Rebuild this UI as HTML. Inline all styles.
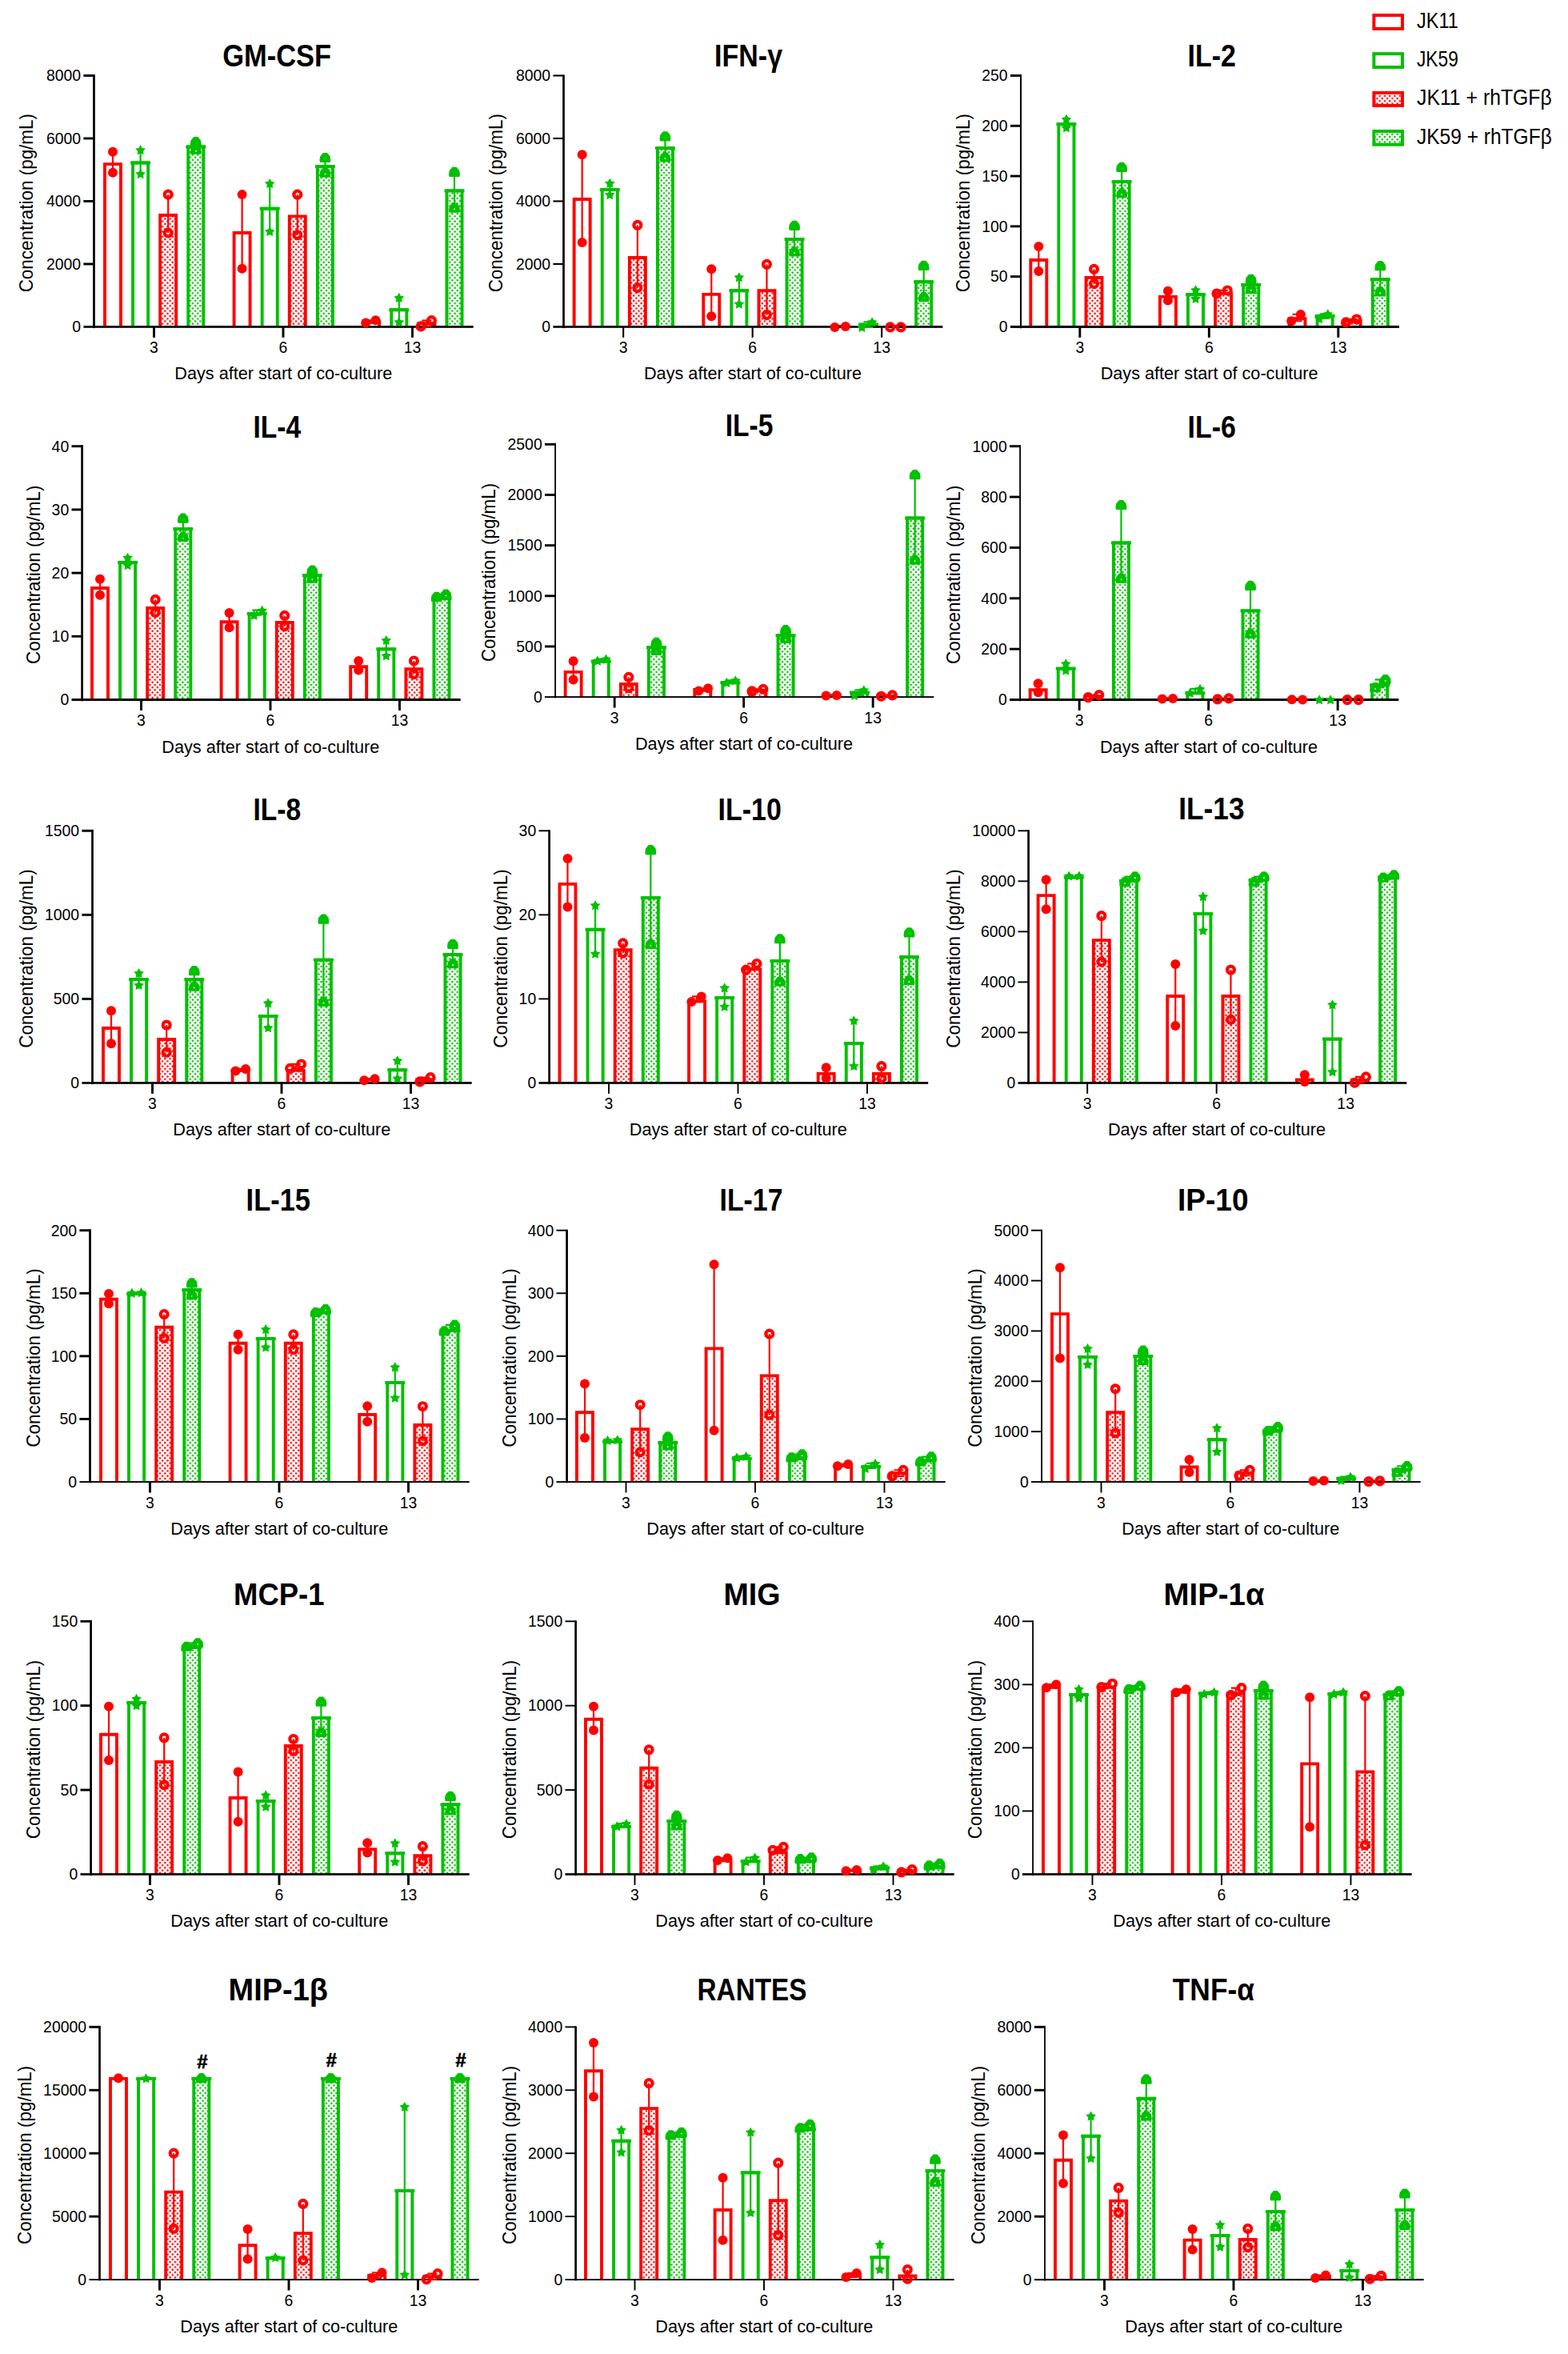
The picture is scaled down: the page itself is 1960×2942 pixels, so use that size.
<!DOCTYPE html>
<html><head><meta charset="utf-8"><title>Cytokine concentrations</title>
<style>html,body{margin:0;padding:0;background:#fff}svg{display:block}</style></head>
<body>
<svg width="1960" height="2942" viewBox="0 0 1960 2942" font-family='"Liberation Sans", Arial, sans-serif' fill="#000">
<defs><pattern id="pr" width="6.3" height="6.4" patternUnits="userSpaceOnUse"><rect width="6.3" height="6.4" fill="#fff"/><rect x="0.4" y="0.4" width="2.3" height="2.2" fill="#ff0000"/><rect x="3.55" y="3.6" width="2.3" height="2.2" fill="#ff0000"/></pattern><pattern id="pg" width="6.3" height="6.4" patternUnits="userSpaceOnUse"><rect width="6.3" height="6.4" fill="#fff"/><rect x="0.4" y="0.4" width="2.3" height="2.2" fill="#00c000"/><rect x="3.55" y="3.6" width="2.3" height="2.2" fill="#00c000"/></pattern></defs>
<rect width="1960" height="2942" fill="#fff"/>
<g><text x="346.2" y="83.1" text-anchor="middle" font-size="38.6" font-weight="bold" textLength="136" lengthAdjust="spacingAndGlyphs">GM-CSF</text>
<path d="M131 408.45V205.13H151V408.45" fill="none" stroke="#ff0000" stroke-width="3.9"/>
<path d="M166.05 408.45V203.46H185.15V408.45" fill="none" stroke="#00c000" stroke-width="3.9"/>
<rect x="163.1" y="201.51" width="25" height="3.9" fill="#00c000"/>
<rect x="200.2" y="269.04" width="20" height="139.41" fill="url(#pr)"/>
<path d="M200.2 408.45V269.04H220.2V408.45" fill="none" stroke="#ff0000" stroke-width="3.9"/>
<rect x="235.25" y="183.49" width="19.1" height="224.96" fill="url(#pg)"/>
<path d="M235.25 408.45V183.49H254.35V408.45" fill="none" stroke="#00c000" stroke-width="3.9"/>
<rect x="232.3" y="181.54" width="25" height="3.9" fill="#00c000"/>
<path d="M292.6 408.45V291.02H312.6V408.45" fill="none" stroke="#ff0000" stroke-width="3.9"/>
<path d="M327.65 408.45V260.72H346.75V408.45" fill="none" stroke="#00c000" stroke-width="3.9"/>
<rect x="324.7" y="258.77" width="25" height="3.9" fill="#00c000"/>
<rect x="361.8" y="270.38" width="20" height="138.07" fill="url(#pr)"/>
<path d="M361.8 408.45V270.38H381.8V408.45" fill="none" stroke="#ff0000" stroke-width="3.9"/>
<rect x="396.85" y="208.12" width="19.1" height="200.33" fill="url(#pg)"/>
<path d="M396.85 408.45V208.12H415.95V408.45" fill="none" stroke="#00c000" stroke-width="3.9"/>
<rect x="393.9" y="206.17" width="25" height="3.9" fill="#00c000"/>
<path d="M454.2 408.45V401.92H474.2V408.45" fill="none" stroke="#ff0000" stroke-width="3.9"/>
<path d="M489.25 408.45V387.23H508.35V408.45" fill="none" stroke="#00c000" stroke-width="3.9"/>
<rect x="486.3" y="385.28" width="25" height="3.9" fill="#00c000"/>
<rect x="523.4" y="404.25" width="20" height="4.2" fill="url(#pr)"/>
<path d="M523.4 408.45V404.25H543.4V408.45" fill="none" stroke="#ff0000" stroke-width="3.9"/>
<rect x="558.45" y="238.42" width="19.1" height="170.03" fill="url(#pg)"/>
<path d="M558.45 408.45V238.42H577.55V408.45" fill="none" stroke="#00c000" stroke-width="3.9"/>
<rect x="555.5" y="236.47" width="25" height="3.9" fill="#00c000"/>
<rect x="116.15" y="93.05" width="2.7" height="317.05" fill="#000"/>
<rect x="104.4" y="407.1" width="487.3" height="2.7" fill="#000"/>
<text x="101.1" y="415.25" text-anchor="end" font-size="19.8" textLength="10.8" lengthAdjust="spacingAndGlyphs">0</text>
<rect x="104.4" y="328.51" width="13.1" height="2.9" fill="#000"/>
<text x="101.1" y="336.76" text-anchor="end" font-size="19.8" textLength="43.2" lengthAdjust="spacingAndGlyphs">2000</text>
<rect x="104.4" y="250.03" width="13.1" height="2.9" fill="#000"/>
<text x="101.1" y="258.27" text-anchor="end" font-size="19.8" textLength="43.2" lengthAdjust="spacingAndGlyphs">4000</text>
<rect x="104.4" y="171.54" width="13.1" height="2.9" fill="#000"/>
<text x="101.1" y="179.79" text-anchor="end" font-size="19.8" textLength="43.2" lengthAdjust="spacingAndGlyphs">6000</text>
<rect x="104.4" y="93.05" width="13.1" height="2.9" fill="#000"/>
<text x="101.1" y="101.3" text-anchor="end" font-size="19.8" textLength="43.2" lengthAdjust="spacingAndGlyphs">8000</text>
<path d="M141 189.86V215.83" stroke="#ff0000" stroke-width="2.2" fill="none"/>
<circle cx="141" cy="189.86" r="6" fill="#ff0000"/>
<circle cx="141" cy="215.83" r="6" fill="#ff0000"/>
<path d="M175.6 187.2V217.16" stroke="#00c000" stroke-width="2.2" fill="none"/>
<polygon points="175.6,181.1 177.72,184.88 181.97,185.73 179.02,188.91 179.54,193.22 175.6,191.4 171.66,193.22 172.18,188.91 169.23,185.73 173.48,184.88" fill="#00c000"/>
<polygon points="175.6,211.06 177.72,214.85 181.97,215.69 179.02,218.87 179.54,223.18 175.6,221.36 171.66,223.18 172.18,218.87 169.23,215.69 173.48,214.85" fill="#00c000"/>
<path d="M210.2 243.12V291.06" stroke="#ff0000" stroke-width="2.2" fill="none"/>
<circle cx="210.2" cy="243.12" r="4.45" fill="none" stroke="#ff0000" stroke-width="4.2"/>
<circle cx="210.2" cy="291.06" r="4.45" fill="none" stroke="#ff0000" stroke-width="4.2"/>
<path d="M244.8 177.21V187.2" stroke="#00c000" stroke-width="2.2" fill="none"/>
<path d="M242.3 170.91L247.3 170.91L251.1 175.41L251.8 180.41L251.1 183.11L238.5 183.11L237.8 180.41L238.5 175.41ZM243.95 178.01h1.7v1.7h-1.7Z" fill="#00c000" fill-rule="evenodd"/>
<path d="M242.3 180.9L247.3 180.9L251.1 185.4L251.8 190.4L251.1 193.1L238.5 193.1L237.8 190.4L238.5 185.4ZM243.95 188h1.7v1.7h-1.7Z" fill="#00c000" fill-rule="evenodd"/>
<path d="M302.6 243.12V335.67" stroke="#ff0000" stroke-width="2.2" fill="none"/>
<circle cx="302.6" cy="243.12" r="6" fill="#ff0000"/>
<circle cx="302.6" cy="335.67" r="6" fill="#ff0000"/>
<path d="M337.2 229.14V289.07" stroke="#00c000" stroke-width="2.2" fill="none"/>
<polygon points="337.2,223.04 339.32,226.83 343.57,227.67 340.62,230.86 341.14,235.16 337.2,233.34 333.26,235.16 333.78,230.86 330.83,227.67 335.08,226.83" fill="#00c000"/>
<polygon points="337.2,282.97 339.32,286.75 343.57,287.6 340.62,290.78 341.14,295.09 337.2,293.27 333.26,295.09 333.78,290.78 330.83,287.6 335.08,286.75" fill="#00c000"/>
<path d="M371.8 243.12V293.73" stroke="#ff0000" stroke-width="2.2" fill="none"/>
<circle cx="371.8" cy="243.12" r="4.45" fill="none" stroke="#ff0000" stroke-width="4.2"/>
<circle cx="371.8" cy="293.73" r="4.45" fill="none" stroke="#ff0000" stroke-width="4.2"/>
<path d="M406.4 197.18V215.83" stroke="#00c000" stroke-width="2.2" fill="none"/>
<path d="M403.9 190.88L408.9 190.88L412.7 195.38L413.4 200.38L412.7 203.08L400.1 203.08L399.4 200.38L400.1 195.38ZM405.55 197.98h1.7v1.7h-1.7Z" fill="#00c000" fill-rule="evenodd"/>
<path d="M403.9 209.53L408.9 209.53L412.7 214.03L413.4 219.03L412.7 221.73L400.1 221.73L399.4 219.03L400.1 214.03ZM405.55 216.63h1.7v1.7h-1.7Z" fill="#00c000" fill-rule="evenodd"/>
<path d="M464.2 400.26V403.59M458.2 400.26h12M458.2 403.59h12" stroke="#ff0000" stroke-width="2.2" fill="none"/>
<circle cx="457.2" cy="403.59" r="6" fill="#ff0000"/>
<circle cx="469.52" cy="400.26" r="6" fill="#ff0000"/>
<path d="M498.8 371.96V402.26" stroke="#00c000" stroke-width="2.2" fill="none"/>
<polygon points="498.8,365.86 500.92,369.65 505.17,370.49 502.22,373.67 502.74,377.98 498.8,376.16 494.86,377.98 495.38,373.67 492.43,370.49 496.68,369.65" fill="#00c000"/>
<polygon points="498.8,396.16 500.92,399.94 505.17,400.78 502.22,403.97 502.74,408.28 498.8,406.46 494.86,408.28 495.38,403.97 492.43,400.78 496.68,399.94" fill="#00c000"/>
<path d="M533.4 400.59V407.91M527.4 400.59h12M527.4 407.91h12" stroke="#ff0000" stroke-width="2.2" fill="none"/>
<circle cx="526.11" cy="407.91" r="4.45" fill="none" stroke="#ff0000" stroke-width="4.2"/>
<circle cx="539.43" cy="400.59" r="4.45" fill="none" stroke="#ff0000" stroke-width="4.2"/>
<path d="M568 215.16V259.77" stroke="#00c000" stroke-width="2.2" fill="none"/>
<path d="M565.5 208.86L570.5 208.86L574.3 213.36L575 218.36L574.3 221.06L561.7 221.06L561 218.36L561.7 213.36ZM567.15 215.96h1.7v1.7h-1.7Z" fill="#00c000" fill-rule="evenodd"/>
<path d="M565.5 253.47L570.5 253.47L574.3 257.97L575 262.97L574.3 265.67L561.7 265.67L561 262.97L561.7 257.97ZM567.15 260.57h1.7v1.7h-1.7Z" fill="#00c000" fill-rule="evenodd"/>
<rect x="191.05" y="408.45" width="2.9" height="13.4" fill="#000"/>
<text x="192.5" y="441.05" text-anchor="middle" font-size="19.8" textLength="10.8" lengthAdjust="spacingAndGlyphs">3</text>
<rect x="352.55" y="408.45" width="2.9" height="13.4" fill="#000"/>
<text x="354" y="441.05" text-anchor="middle" font-size="19.8" textLength="10.8" lengthAdjust="spacingAndGlyphs">6</text>
<rect x="514.05" y="408.45" width="2.9" height="13.4" fill="#000"/>
<text x="515.5" y="441.05" text-anchor="middle" font-size="19.8" textLength="21.6" lengthAdjust="spacingAndGlyphs">13</text>
<text x="354.3" y="474.45" text-anchor="middle" font-size="21.7" textLength="272" lengthAdjust="spacing">Days after start of co-culture</text>
<text transform="translate(41.2 253.67) rotate(-90) scale(1 1.08)" text-anchor="middle" font-size="22.45" textLength="223.4" lengthAdjust="spacing">Concentration (pg/mL)</text></g>
<g><text x="935.6" y="82.8" text-anchor="middle" font-size="38.6" font-weight="bold" textLength="85" lengthAdjust="spacingAndGlyphs">IFN-γ</text>
<path d="M717.67 408.45V249.07H737.67V408.45" fill="none" stroke="#ff0000" stroke-width="3.9"/>
<path d="M752.72 408.45V237.09H771.82V408.45" fill="none" stroke="#00c000" stroke-width="3.9"/>
<rect x="749.77" y="235.14" width="25" height="3.9" fill="#00c000"/>
<rect x="786.87" y="321.98" width="20" height="86.47" fill="url(#pr)"/>
<path d="M786.87 408.45V321.98H806.87V408.45" fill="none" stroke="#ff0000" stroke-width="3.9"/>
<rect x="821.92" y="185.15" width="19.1" height="223.3" fill="url(#pg)"/>
<path d="M821.92 408.45V185.15H841.02V408.45" fill="none" stroke="#00c000" stroke-width="3.9"/>
<rect x="818.97" y="183.2" width="25" height="3.9" fill="#00c000"/>
<path d="M879.27 408.45V367.92H899.27V408.45" fill="none" stroke="#ff0000" stroke-width="3.9"/>
<path d="M914.32 408.45V363.26H933.42V408.45" fill="none" stroke="#00c000" stroke-width="3.9"/>
<rect x="911.37" y="361.31" width="25" height="3.9" fill="#00c000"/>
<rect x="948.47" y="363.26" width="20" height="45.19" fill="url(#pr)"/>
<path d="M948.47 408.45V363.26H968.47V408.45" fill="none" stroke="#ff0000" stroke-width="3.9"/>
<rect x="983.52" y="299.01" width="19.1" height="109.44" fill="url(#pg)"/>
<path d="M983.52 408.45V299.01H1002.62V408.45" fill="none" stroke="#00c000" stroke-width="3.9"/>
<rect x="980.57" y="297.06" width="25" height="3.9" fill="#00c000"/>
<path d="M1040.87 408.45V407.95H1060.87V408.45" fill="none" stroke="#ff0000" stroke-width="3.9"/>
<path d="M1075.92 408.45V405.58H1095.02V408.45" fill="none" stroke="#00c000" stroke-width="3.9"/>
<rect x="1072.97" y="403.63" width="25" height="3.9" fill="#00c000"/>
<rect x="1110.07" y="407.95" width="20" height="0.5" fill="url(#pr)"/>
<path d="M1110.07 408.45V407.95H1130.07V408.45" fill="none" stroke="#ff0000" stroke-width="3.9"/>
<rect x="1145.12" y="352.27" width="19.1" height="56.18" fill="url(#pg)"/>
<path d="M1145.12 408.45V352.27H1164.22V408.45" fill="none" stroke="#00c000" stroke-width="3.9"/>
<rect x="1142.17" y="350.32" width="25" height="3.9" fill="#00c000"/>
<rect x="703.15" y="93.45" width="2.7" height="316.65" fill="#000"/>
<rect x="691.4" y="407.1" width="486.97" height="2.7" fill="#000"/>
<text x="688.1" y="415.25" text-anchor="end" font-size="19.8" textLength="10.8" lengthAdjust="spacingAndGlyphs">0</text>
<rect x="691.4" y="328.91" width="13.1" height="2.1" fill="#000"/>
<text x="688.1" y="336.76" text-anchor="end" font-size="19.8" textLength="43.2" lengthAdjust="spacingAndGlyphs">2000</text>
<rect x="691.4" y="250.42" width="13.1" height="2.1" fill="#000"/>
<text x="688.1" y="258.27" text-anchor="end" font-size="19.8" textLength="43.2" lengthAdjust="spacingAndGlyphs">4000</text>
<rect x="691.4" y="171.94" width="13.1" height="2.1" fill="#000"/>
<text x="688.1" y="179.79" text-anchor="end" font-size="19.8" textLength="43.2" lengthAdjust="spacingAndGlyphs">6000</text>
<rect x="691.4" y="93.45" width="13.1" height="2.1" fill="#000"/>
<text x="688.1" y="101.3" text-anchor="end" font-size="19.8" textLength="43.2" lengthAdjust="spacingAndGlyphs">8000</text>
<path d="M727.67 193.19V303.05" stroke="#ff0000" stroke-width="2.2" fill="none"/>
<circle cx="727.67" cy="193.19" r="6" fill="#ff0000"/>
<circle cx="727.67" cy="303.05" r="6" fill="#ff0000"/>
<path d="M762.27 228.81V243.12" stroke="#00c000" stroke-width="2.2" fill="none"/>
<polygon points="762.27,222.71 764.39,226.5 768.64,227.34 765.69,230.52 766.21,234.83 762.27,233.01 758.33,234.83 758.85,230.52 755.9,227.34 760.15,226.5" fill="#00c000"/>
<polygon points="762.27,237.03 764.39,240.81 768.64,241.65 765.69,244.84 766.21,249.15 762.27,247.32 758.33,249.15 758.85,244.84 755.9,241.65 760.15,240.81" fill="#00c000"/>
<path d="M796.87 281.41V359.64" stroke="#ff0000" stroke-width="2.2" fill="none"/>
<circle cx="796.87" cy="281.41" r="4.45" fill="none" stroke="#ff0000" stroke-width="4.2"/>
<circle cx="796.87" cy="359.64" r="4.45" fill="none" stroke="#ff0000" stroke-width="4.2"/>
<path d="M831.47 170.55V196.52" stroke="#00c000" stroke-width="2.2" fill="none"/>
<path d="M828.97 164.25L833.97 164.25L837.77 168.75L838.47 173.75L837.77 176.45L825.17 176.45L824.47 173.75L825.17 168.75ZM830.62 171.35h1.7v1.7h-1.7Z" fill="#00c000" fill-rule="evenodd"/>
<path d="M828.97 190.22L833.97 190.22L837.77 194.72L838.47 199.72L837.77 202.42L825.17 202.42L824.47 199.72L825.17 194.72ZM830.62 197.32h1.7v1.7h-1.7Z" fill="#00c000" fill-rule="evenodd"/>
<path d="M889.27 336.34V395.26" stroke="#ff0000" stroke-width="2.2" fill="none"/>
<circle cx="889.27" cy="336.34" r="6" fill="#ff0000"/>
<circle cx="889.27" cy="395.26" r="6" fill="#ff0000"/>
<path d="M923.87 346.33V379.62" stroke="#00c000" stroke-width="2.2" fill="none"/>
<polygon points="923.87,340.23 925.99,344.01 930.24,344.86 927.29,348.04 927.81,352.35 923.87,350.53 919.93,352.35 920.45,348.04 917.5,344.86 921.75,344.01" fill="#00c000"/>
<polygon points="923.87,373.52 925.99,377.3 930.24,378.15 927.29,381.33 927.81,385.64 923.87,383.82 919.93,385.64 920.45,381.33 917.5,378.15 921.75,377.3" fill="#00c000"/>
<path d="M958.47 330.35V393.6" stroke="#ff0000" stroke-width="2.2" fill="none"/>
<circle cx="958.47" cy="330.35" r="4.45" fill="none" stroke="#ff0000" stroke-width="4.2"/>
<circle cx="958.47" cy="393.6" r="4.45" fill="none" stroke="#ff0000" stroke-width="4.2"/>
<path d="M993.07 282.08V314.7" stroke="#00c000" stroke-width="2.2" fill="none"/>
<path d="M990.57 275.78L995.57 275.78L999.37 280.28L1000.07 285.28L999.37 287.98L986.77 287.98L986.07 285.28L986.77 280.28ZM992.22 282.88h1.7v1.7h-1.7Z" fill="#00c000" fill-rule="evenodd"/>
<path d="M990.57 308.4L995.57 308.4L999.37 312.9L1000.07 317.9L999.37 320.6L986.77 320.6L986.07 317.9L986.77 312.9ZM992.22 315.5h1.7v1.7h-1.7Z" fill="#00c000" fill-rule="evenodd"/>
<circle cx="1043.53" cy="408.91" r="6" fill="#ff0000"/>
<circle cx="1056.84" cy="407.91" r="6" fill="#ff0000"/>
<path d="M1085.47 402.26V408.91M1079.47 402.26h12M1079.47 408.91h12" stroke="#00c000" stroke-width="2.2" fill="none"/>
<polygon points="1077.48,402.81 1079.6,406.6 1083.86,407.44 1080.91,410.63 1081.42,414.93 1077.48,413.11 1073.55,414.93 1074.06,410.63 1071.11,407.44 1075.37,406.6" fill="#00c000"/>
<polygon points="1090.14,396.16 1092.25,399.94 1096.51,400.78 1093.56,403.97 1094.07,408.28 1090.14,406.46 1086.2,408.28 1086.71,403.97 1083.76,400.78 1088.02,399.94" fill="#00c000"/>
<circle cx="1112.77" cy="408.91" r="4.45" fill="none" stroke="#ff0000" stroke-width="4.2"/>
<circle cx="1126.09" cy="408.91" r="4.45" fill="none" stroke="#ff0000" stroke-width="4.2"/>
<path d="M1154.67 332.01V371.29" stroke="#00c000" stroke-width="2.2" fill="none"/>
<path d="M1152.17 325.71L1157.17 325.71L1160.97 330.21L1161.67 335.21L1160.97 337.91L1148.37 337.91L1147.67 335.21L1148.37 330.21ZM1153.82 332.81h1.7v1.7h-1.7Z" fill="#00c000" fill-rule="evenodd"/>
<path d="M1152.17 364.99L1157.17 364.99L1160.97 369.49L1161.67 374.49L1160.97 377.19L1148.37 377.19L1147.67 374.49L1148.37 369.49ZM1153.82 372.09h1.7v1.7h-1.7Z" fill="#00c000" fill-rule="evenodd"/>
<rect x="778.12" y="408.45" width="2.1" height="13.4" fill="#000"/>
<text x="779.17" y="441.05" text-anchor="middle" font-size="19.8" textLength="10.8" lengthAdjust="spacingAndGlyphs">3</text>
<rect x="939.62" y="408.45" width="2.1" height="13.4" fill="#000"/>
<text x="940.67" y="441.05" text-anchor="middle" font-size="19.8" textLength="10.8" lengthAdjust="spacingAndGlyphs">6</text>
<rect x="1101.12" y="408.45" width="2.1" height="13.4" fill="#000"/>
<text x="1102.17" y="441.05" text-anchor="middle" font-size="19.8" textLength="21.6" lengthAdjust="spacingAndGlyphs">13</text>
<text x="940.97" y="474.45" text-anchor="middle" font-size="21.7" textLength="272" lengthAdjust="spacing">Days after start of co-culture</text>
<text transform="translate(628 253.67) rotate(-90) scale(1 1.08)" text-anchor="middle" font-size="22.45" textLength="223.4" lengthAdjust="spacing">Concentration (pg/mL)</text></g>
<g><text x="1514.7" y="83.1" text-anchor="middle" font-size="38.6" font-weight="bold" textLength="60.4" lengthAdjust="spacingAndGlyphs">IL-2</text>
<path d="M1288.33 408.45V324.97H1308.33V408.45" fill="none" stroke="#ff0000" stroke-width="3.9"/>
<path d="M1323.38 408.45V155.19H1342.48V408.45" fill="none" stroke="#00c000" stroke-width="3.9"/>
<rect x="1320.43" y="153.24" width="25" height="3.9" fill="#00c000"/>
<rect x="1357.53" y="346.94" width="20" height="61.51" fill="url(#pr)"/>
<path d="M1357.53 408.45V346.94H1377.53V408.45" fill="none" stroke="#ff0000" stroke-width="3.9"/>
<rect x="1392.58" y="227.1" width="19.1" height="181.35" fill="url(#pg)"/>
<path d="M1392.58 408.45V227.1H1411.68V408.45" fill="none" stroke="#00c000" stroke-width="3.9"/>
<rect x="1389.63" y="225.15" width="25" height="3.9" fill="#00c000"/>
<path d="M1449.93 408.45V370.91H1469.93V408.45" fill="none" stroke="#ff0000" stroke-width="3.9"/>
<path d="M1484.98 408.45V368.25H1504.08V408.45" fill="none" stroke="#00c000" stroke-width="3.9"/>
<rect x="1482.03" y="366.3" width="25" height="3.9" fill="#00c000"/>
<rect x="1519.13" y="366.59" width="20" height="41.86" fill="url(#pr)"/>
<path d="M1519.13 408.45V366.59H1539.13V408.45" fill="none" stroke="#ff0000" stroke-width="3.9"/>
<rect x="1554.18" y="355.93" width="19.1" height="52.52" fill="url(#pg)"/>
<path d="M1554.18 408.45V355.93H1573.28V408.45" fill="none" stroke="#00c000" stroke-width="3.9"/>
<rect x="1551.23" y="353.98" width="25" height="3.9" fill="#00c000"/>
<path d="M1611.53 408.45V398.21H1631.53V408.45" fill="none" stroke="#ff0000" stroke-width="3.9"/>
<path d="M1646.58 408.45V394.88H1665.68V408.45" fill="none" stroke="#00c000" stroke-width="3.9"/>
<rect x="1643.63" y="392.93" width="25" height="3.9" fill="#00c000"/>
<rect x="1680.73" y="400.92" width="20" height="7.53" fill="url(#pr)"/>
<path d="M1680.73 408.45V400.92H1700.73V408.45" fill="none" stroke="#ff0000" stroke-width="3.9"/>
<rect x="1715.78" y="349.28" width="19.1" height="59.17" fill="url(#pg)"/>
<path d="M1715.78 408.45V349.28H1734.88V408.45" fill="none" stroke="#00c000" stroke-width="3.9"/>
<rect x="1712.83" y="347.33" width="25" height="3.9" fill="#00c000"/>
<rect x="1274.95" y="93.05" width="2.1" height="317.2" fill="#000"/>
<rect x="1262.9" y="406.95" width="486.13" height="3" fill="#000"/>
<text x="1259.6" y="415.25" text-anchor="end" font-size="19.8" textLength="10.8" lengthAdjust="spacingAndGlyphs">0</text>
<rect x="1262.9" y="344.21" width="13.1" height="2.9" fill="#000"/>
<text x="1259.6" y="352.46" text-anchor="end" font-size="19.8" textLength="21.6" lengthAdjust="spacingAndGlyphs">50</text>
<rect x="1262.9" y="281.42" width="13.1" height="2.9" fill="#000"/>
<text x="1259.6" y="289.67" text-anchor="end" font-size="19.8" textLength="32.4" lengthAdjust="spacingAndGlyphs">100</text>
<rect x="1262.9" y="218.63" width="13.1" height="2.9" fill="#000"/>
<text x="1259.6" y="226.88" text-anchor="end" font-size="19.8" textLength="32.4" lengthAdjust="spacingAndGlyphs">150</text>
<rect x="1262.9" y="155.84" width="13.1" height="2.9" fill="#000"/>
<text x="1259.6" y="164.09" text-anchor="end" font-size="19.8" textLength="32.4" lengthAdjust="spacingAndGlyphs">200</text>
<rect x="1262.9" y="93.05" width="13.1" height="2.9" fill="#000"/>
<text x="1259.6" y="101.3" text-anchor="end" font-size="19.8" textLength="32.4" lengthAdjust="spacingAndGlyphs">250</text>
<path d="M1298.33 308.04V339" stroke="#ff0000" stroke-width="2.2" fill="none"/>
<circle cx="1298.33" cy="308.04" r="6" fill="#ff0000"/>
<circle cx="1298.33" cy="339" r="6" fill="#ff0000"/>
<path d="M1332.93 148.91V159.23" stroke="#00c000" stroke-width="2.2" fill="none"/>
<polygon points="1332.93,142.81 1335.05,146.6 1339.3,147.44 1336.35,150.62 1336.87,154.93 1332.93,153.11 1328.99,154.93 1329.51,150.62 1326.56,147.44 1330.81,146.6" fill="#00c000"/>
<polygon points="1332.93,153.13 1335.05,156.92 1339.3,157.76 1336.35,160.94 1336.87,165.25 1332.93,163.43 1328.99,165.25 1329.51,160.94 1326.56,157.76 1330.81,156.92" fill="#00c000"/>
<path d="M1367.53 336.34V354.65" stroke="#ff0000" stroke-width="2.2" fill="none"/>
<circle cx="1367.53" cy="336.34" r="4.45" fill="none" stroke="#ff0000" stroke-width="4.2"/>
<circle cx="1367.53" cy="354.65" r="4.45" fill="none" stroke="#ff0000" stroke-width="4.2"/>
<path d="M1402.13 209.17V241.46" stroke="#00c000" stroke-width="2.2" fill="none"/>
<path d="M1399.63 202.87L1404.63 202.87L1408.43 207.37L1409.13 212.37L1408.43 215.07L1395.83 215.07L1395.13 212.37L1395.83 207.37ZM1401.28 209.97h1.7v1.7h-1.7Z" fill="#00c000" fill-rule="evenodd"/>
<path d="M1399.63 235.16L1404.63 235.16L1408.43 239.66L1409.13 244.66L1408.43 247.36L1395.83 247.36L1395.13 244.66L1395.83 239.66ZM1401.28 242.26h1.7v1.7h-1.7Z" fill="#00c000" fill-rule="evenodd"/>
<path d="M1459.93 363.64V375.62" stroke="#ff0000" stroke-width="2.2" fill="none"/>
<circle cx="1459.93" cy="363.64" r="6" fill="#ff0000"/>
<circle cx="1459.93" cy="375.62" r="6" fill="#ff0000"/>
<path d="M1494.53 362.31V372.96" stroke="#00c000" stroke-width="2.2" fill="none"/>
<polygon points="1494.53,356.21 1496.65,359.99 1500.9,360.84 1497.95,364.02 1498.47,368.33 1494.53,366.51 1490.59,368.33 1491.11,364.02 1488.16,360.84 1492.41,359.99" fill="#00c000"/>
<polygon points="1494.53,366.86 1496.65,370.65 1500.9,371.49 1497.95,374.67 1498.47,378.98 1494.53,377.16 1490.59,378.98 1491.11,374.67 1488.16,371.49 1492.41,370.65" fill="#00c000"/>
<path d="M1529.13 362.97V366.97M1523.13 362.97h12M1523.13 366.97h12" stroke="#ff0000" stroke-width="2.2" fill="none"/>
<circle cx="1520.99" cy="366.97" r="4.45" fill="none" stroke="#ff0000" stroke-width="4.2"/>
<circle cx="1534.31" cy="362.97" r="4.45" fill="none" stroke="#ff0000" stroke-width="4.2"/>
<path d="M1563.73 348.99V361.31" stroke="#00c000" stroke-width="2.2" fill="none"/>
<path d="M1561.23 342.69L1566.23 342.69L1570.03 347.19L1570.73 352.19L1570.03 354.89L1557.43 354.89L1556.73 352.19L1557.43 347.19ZM1562.88 349.79h1.7v1.7h-1.7Z" fill="#00c000" fill-rule="evenodd"/>
<path d="M1561.23 355.01L1566.23 355.01L1570.03 359.51L1570.73 364.51L1570.03 367.21L1557.43 367.21L1556.73 364.51L1557.43 359.51ZM1562.88 362.11h1.7v1.7h-1.7Z" fill="#00c000" fill-rule="evenodd"/>
<path d="M1621.53 392.93V401.26M1615.53 392.93h12M1615.53 401.26h12" stroke="#ff0000" stroke-width="2.2" fill="none"/>
<circle cx="1614.21" cy="401.26" r="6" fill="#ff0000"/>
<circle cx="1625.86" cy="392.93" r="6" fill="#ff0000"/>
<path d="M1656.13 392.27V397.93M1650.13 392.27h12M1650.13 397.93h12" stroke="#00c000" stroke-width="2.2" fill="none"/>
<polygon points="1649.16,391.83 1651.28,395.61 1655.53,396.46 1652.58,399.64 1653.1,403.95 1649.16,402.13 1645.22,403.95 1645.74,399.64 1642.79,396.46 1647.04,395.61" fill="#00c000"/>
<polygon points="1659.81,386.17 1661.93,389.96 1666.19,390.8 1663.24,393.98 1663.75,398.29 1659.81,396.47 1655.88,398.29 1656.39,393.98 1653.44,390.8 1657.7,389.96" fill="#00c000"/>
<path d="M1690.73 398.93V402.92M1684.73 398.93h12M1684.73 402.92h12" stroke="#ff0000" stroke-width="2.2" fill="none"/>
<circle cx="1682.45" cy="402.92" r="4.45" fill="none" stroke="#ff0000" stroke-width="4.2"/>
<circle cx="1695.77" cy="398.93" r="4.45" fill="none" stroke="#ff0000" stroke-width="4.2"/>
<path d="M1725.33 332.34V364.64" stroke="#00c000" stroke-width="2.2" fill="none"/>
<path d="M1722.83 326.04L1727.83 326.04L1731.63 330.54L1732.33 335.54L1731.63 338.24L1719.03 338.24L1718.33 335.54L1719.03 330.54ZM1724.48 333.14h1.7v1.7h-1.7Z" fill="#00c000" fill-rule="evenodd"/>
<path d="M1722.83 358.34L1727.83 358.34L1731.63 362.84L1732.33 367.84L1731.63 370.54L1719.03 370.54L1718.33 367.84L1719.03 362.84ZM1724.48 365.44h1.7v1.7h-1.7Z" fill="#00c000" fill-rule="evenodd"/>
<rect x="1348.38" y="408.45" width="2.9" height="13.4" fill="#000"/>
<text x="1349.83" y="441.05" text-anchor="middle" font-size="19.8" textLength="10.8" lengthAdjust="spacingAndGlyphs">3</text>
<rect x="1509.88" y="408.45" width="2.9" height="13.4" fill="#000"/>
<text x="1511.33" y="441.05" text-anchor="middle" font-size="19.8" textLength="10.8" lengthAdjust="spacingAndGlyphs">6</text>
<rect x="1671.38" y="408.45" width="2.9" height="13.4" fill="#000"/>
<text x="1672.83" y="441.05" text-anchor="middle" font-size="19.8" textLength="21.6" lengthAdjust="spacingAndGlyphs">13</text>
<text x="1511.63" y="474.45" text-anchor="middle" font-size="21.7" textLength="272" lengthAdjust="spacing">Days after start of co-culture</text>
<text transform="translate(1212 253.67) rotate(-90) scale(1 1.08)" text-anchor="middle" font-size="22.45" textLength="223.4" lengthAdjust="spacing">Concentration (pg/mL)</text></g>
<g><text x="346.3" y="547.05" text-anchor="middle" font-size="38.6" font-weight="bold" textLength="59.7" lengthAdjust="spacingAndGlyphs">IL-4</text>
<path d="M115 874.5V735.04H135V874.5" fill="none" stroke="#ff0000" stroke-width="3.9"/>
<path d="M150.05 874.5V703.08H169.15V874.5" fill="none" stroke="#00c000" stroke-width="3.9"/>
<rect x="147.1" y="701.13" width="25" height="3.9" fill="#00c000"/>
<rect x="184.2" y="760.01" width="20" height="114.49" fill="url(#pr)"/>
<path d="M184.2 874.5V760.01H204.2V874.5" fill="none" stroke="#ff0000" stroke-width="3.9"/>
<rect x="219.25" y="661.13" width="19.1" height="213.37" fill="url(#pg)"/>
<path d="M219.25 874.5V661.13H238.35V874.5" fill="none" stroke="#00c000" stroke-width="3.9"/>
<rect x="216.3" y="659.18" width="25" height="3.9" fill="#00c000"/>
<path d="M276.6 874.5V777.32H296.6V874.5" fill="none" stroke="#ff0000" stroke-width="3.9"/>
<path d="M311.65 874.5V767H330.75V874.5" fill="none" stroke="#00c000" stroke-width="3.9"/>
<rect x="308.7" y="765.05" width="25" height="3.9" fill="#00c000"/>
<rect x="345.8" y="777.99" width="20" height="96.51" fill="url(#pr)"/>
<path d="M345.8 874.5V777.99H365.8V874.5" fill="none" stroke="#ff0000" stroke-width="3.9"/>
<rect x="380.85" y="719.06" width="19.1" height="155.44" fill="url(#pg)"/>
<path d="M380.85 874.5V719.06H399.95V874.5" fill="none" stroke="#00c000" stroke-width="3.9"/>
<rect x="377.9" y="717.11" width="25" height="3.9" fill="#00c000"/>
<path d="M438.2 874.5V833.25H458.2V874.5" fill="none" stroke="#ff0000" stroke-width="3.9"/>
<path d="M473.25 874.5V811.28H492.35V874.5" fill="none" stroke="#00c000" stroke-width="3.9"/>
<rect x="470.3" y="809.33" width="25" height="3.9" fill="#00c000"/>
<rect x="507.4" y="836.24" width="20" height="38.26" fill="url(#pr)"/>
<path d="M507.4 874.5V836.24H527.4V874.5" fill="none" stroke="#ff0000" stroke-width="3.9"/>
<rect x="542.45" y="748.02" width="19.1" height="126.48" fill="url(#pg)"/>
<path d="M542.45 874.5V748.02H561.55V874.5" fill="none" stroke="#00c000" stroke-width="3.9"/>
<rect x="539.5" y="746.07" width="25" height="3.9" fill="#00c000"/>
<rect x="101.25" y="556.25" width="2.7" height="320.05" fill="#000"/>
<rect x="89.5" y="873" width="486.2" height="3" fill="#000"/>
<text x="86.2" y="881.3" text-anchor="end" font-size="19.8" textLength="10.8" lengthAdjust="spacingAndGlyphs">0</text>
<rect x="89.5" y="793.85" width="13.1" height="2.9" fill="#000"/>
<text x="86.2" y="802.1" text-anchor="end" font-size="19.8" textLength="21.6" lengthAdjust="spacingAndGlyphs">10</text>
<rect x="89.5" y="714.65" width="13.1" height="2.9" fill="#000"/>
<text x="86.2" y="722.9" text-anchor="end" font-size="19.8" textLength="21.6" lengthAdjust="spacingAndGlyphs">20</text>
<rect x="89.5" y="635.45" width="13.1" height="2.9" fill="#000"/>
<text x="86.2" y="643.7" text-anchor="end" font-size="19.8" textLength="21.6" lengthAdjust="spacingAndGlyphs">30</text>
<rect x="89.5" y="556.25" width="13.1" height="2.9" fill="#000"/>
<text x="86.2" y="564.5" text-anchor="end" font-size="19.8" textLength="21.6" lengthAdjust="spacingAndGlyphs">40</text>
<path d="M125 723.77V743.74" stroke="#ff0000" stroke-width="2.2" fill="none"/>
<circle cx="125" cy="723.77" r="6" fill="#ff0000"/>
<circle cx="125" cy="743.74" r="6" fill="#ff0000"/>
<path d="M159.6 696.8V706.12" stroke="#00c000" stroke-width="2.2" fill="none"/>
<polygon points="159.6,690.7 161.72,694.49 165.97,695.33 163.02,698.52 163.54,702.82 159.6,701 155.66,702.82 156.18,698.52 153.23,695.33 157.48,694.49" fill="#00c000"/>
<polygon points="159.6,700.02 161.72,703.81 165.97,704.65 163.02,707.84 163.54,712.15 159.6,710.33 155.66,712.15 156.18,707.84 153.23,704.65 157.48,703.81" fill="#00c000"/>
<path d="M194.2 749.4V765.38" stroke="#ff0000" stroke-width="2.2" fill="none"/>
<circle cx="194.2" cy="749.4" r="4.45" fill="none" stroke="#ff0000" stroke-width="4.2"/>
<circle cx="194.2" cy="765.38" r="4.45" fill="none" stroke="#ff0000" stroke-width="4.2"/>
<path d="M228.8 647.87V671.17" stroke="#00c000" stroke-width="2.2" fill="none"/>
<path d="M226.3 641.57L231.3 641.57L235.1 646.07L235.8 651.07L235.1 653.77L222.5 653.77L221.8 651.07L222.5 646.07ZM227.95 648.67h1.7v1.7h-1.7Z" fill="#00c000" fill-rule="evenodd"/>
<path d="M226.3 664.87L231.3 664.87L235.1 669.37L235.8 674.37L235.1 677.07L222.5 677.07L221.8 674.37L222.5 669.37ZM227.95 671.97h1.7v1.7h-1.7Z" fill="#00c000" fill-rule="evenodd"/>
<path d="M286.6 766.05V784.36" stroke="#ff0000" stroke-width="2.2" fill="none"/>
<circle cx="286.6" cy="766.05" r="6" fill="#ff0000"/>
<circle cx="286.6" cy="784.36" r="6" fill="#ff0000"/>
<path d="M321.2 762.72V768.71M315.2 762.72h12M315.2 768.71h12" stroke="#00c000" stroke-width="2.2" fill="none"/>
<polygon points="317.68,762.61 319.8,766.4 324.05,767.24 321.1,770.42 321.62,774.73 317.68,772.91 313.74,774.73 314.26,770.42 311.31,767.24 315.57,766.4" fill="#00c000"/>
<polygon points="327.67,756.62 329.78,760.41 334.04,761.25 331.09,764.43 331.61,768.74 327.67,766.92 323.73,768.74 324.24,764.43 321.3,761.25 325.55,760.41" fill="#00c000"/>
<path d="M355.8 769.38V782.69" stroke="#ff0000" stroke-width="2.2" fill="none"/>
<circle cx="355.8" cy="769.38" r="4.45" fill="none" stroke="#ff0000" stroke-width="4.2"/>
<circle cx="355.8" cy="782.69" r="4.45" fill="none" stroke="#ff0000" stroke-width="4.2"/>
<path d="M390.4 712.78V722.77" stroke="#00c000" stroke-width="2.2" fill="none"/>
<path d="M387.9 706.48L392.9 706.48L396.7 710.98L397.4 715.98L396.7 718.68L384.1 718.68L383.4 715.98L384.1 710.98ZM389.55 713.58h1.7v1.7h-1.7Z" fill="#00c000" fill-rule="evenodd"/>
<path d="M387.9 716.47L392.9 716.47L396.7 720.97L397.4 725.97L396.7 728.67L384.1 728.67L383.4 725.97L384.1 720.97ZM389.55 723.57h1.7v1.7h-1.7Z" fill="#00c000" fill-rule="evenodd"/>
<path d="M448.2 825.97V837.62" stroke="#ff0000" stroke-width="2.2" fill="none"/>
<circle cx="448.2" cy="825.97" r="6" fill="#ff0000"/>
<circle cx="448.2" cy="837.62" r="6" fill="#ff0000"/>
<path d="M482.8 800.01V819.31" stroke="#00c000" stroke-width="2.2" fill="none"/>
<polygon points="482.8,793.91 484.92,797.69 489.17,798.53 486.22,801.72 486.74,806.03 482.8,804.21 478.86,806.03 479.38,801.72 476.43,798.53 480.68,797.69" fill="#00c000"/>
<polygon points="482.8,813.21 484.92,817 489.17,817.84 486.22,821.03 486.74,825.33 482.8,823.51 478.86,825.33 479.38,821.03 476.43,817.84 480.68,817" fill="#00c000"/>
<path d="M517.4 825.97V842.62" stroke="#ff0000" stroke-width="2.2" fill="none"/>
<circle cx="517.4" cy="825.97" r="4.45" fill="none" stroke="#ff0000" stroke-width="4.2"/>
<circle cx="517.4" cy="842.62" r="4.45" fill="none" stroke="#ff0000" stroke-width="4.2"/>
<path d="M552 742.74V746.07M546 742.74h12M546 746.07h12" stroke="#00c000" stroke-width="2.2" fill="none"/>
<path d="M543.22 739.77L548.22 739.77L552.02 744.27L552.72 749.27L552.02 751.97L539.42 751.97L538.72 749.27L539.42 744.27ZM544.87 746.87h1.7v1.7h-1.7Z" fill="#00c000" fill-rule="evenodd"/>
<path d="M554.88 736.44L559.88 736.44L563.67 740.94L564.38 745.94L563.67 748.64L551.08 748.64L550.38 745.94L551.08 740.94ZM556.52 743.54h1.7v1.7h-1.7Z" fill="#00c000" fill-rule="evenodd"/>
<rect x="175.05" y="874.5" width="2.9" height="13.4" fill="#000"/>
<text x="176.5" y="907.1" text-anchor="middle" font-size="19.8" textLength="10.8" lengthAdjust="spacingAndGlyphs">3</text>
<rect x="336.55" y="874.5" width="2.9" height="13.4" fill="#000"/>
<text x="338" y="907.1" text-anchor="middle" font-size="19.8" textLength="10.8" lengthAdjust="spacingAndGlyphs">6</text>
<rect x="498.05" y="874.5" width="2.9" height="13.4" fill="#000"/>
<text x="499.5" y="907.1" text-anchor="middle" font-size="19.8" textLength="21.6" lengthAdjust="spacingAndGlyphs">13</text>
<text x="338.3" y="940.5" text-anchor="middle" font-size="21.7" textLength="272" lengthAdjust="spacing">Days after start of co-culture</text>
<text transform="translate(50 718.3) rotate(-90) scale(1 1.08)" text-anchor="middle" font-size="22.45" textLength="223.4" lengthAdjust="spacing">Concentration (pg/mL)</text></g>
<g><text x="936.6" y="544.55" text-anchor="middle" font-size="38.6" font-weight="bold" textLength="59.7" lengthAdjust="spacingAndGlyphs">IL-5</text>
<path d="M706.67 871.1V839.9H726.67V871.1" fill="none" stroke="#ff0000" stroke-width="3.9"/>
<path d="M741.72 871.1V826.59H760.82V871.1" fill="none" stroke="#00c000" stroke-width="3.9"/>
<rect x="738.77" y="824.64" width="25" height="3.9" fill="#00c000"/>
<rect x="775.87" y="854.88" width="20" height="16.22" fill="url(#pr)"/>
<path d="M775.87 871.1V854.88H795.87V871.1" fill="none" stroke="#ff0000" stroke-width="3.9"/>
<rect x="810.92" y="809.28" width="19.1" height="61.82" fill="url(#pg)"/>
<path d="M810.92 871.1V809.28H830.02V871.1" fill="none" stroke="#00c000" stroke-width="3.9"/>
<rect x="807.97" y="807.33" width="25" height="3.9" fill="#00c000"/>
<path d="M868.27 871.1V861.92H888.27V871.1" fill="none" stroke="#ff0000" stroke-width="3.9"/>
<path d="M903.32 871.1V853.22H922.42V871.1" fill="none" stroke="#00c000" stroke-width="3.9"/>
<rect x="900.37" y="851.27" width="25" height="3.9" fill="#00c000"/>
<rect x="937.47" y="862.59" width="20" height="8.51" fill="url(#pr)"/>
<path d="M937.47 871.1V862.59H957.47V871.1" fill="none" stroke="#ff0000" stroke-width="3.9"/>
<rect x="972.52" y="794.29" width="19.1" height="76.81" fill="url(#pg)"/>
<path d="M972.52 871.1V794.29H991.62V871.1" fill="none" stroke="#00c000" stroke-width="3.9"/>
<rect x="969.57" y="792.34" width="25" height="3.9" fill="#00c000"/>
<path d="M1029.87 871.1V869.25H1049.87V871.1" fill="none" stroke="#ff0000" stroke-width="3.9"/>
<path d="M1064.92 871.1V865.58H1084.02V871.1" fill="none" stroke="#00c000" stroke-width="3.9"/>
<rect x="1061.97" y="863.63" width="25" height="3.9" fill="#00c000"/>
<rect x="1099.07" y="869.58" width="20" height="1.52" fill="url(#pr)"/>
<path d="M1099.07 871.1V869.58H1119.07V871.1" fill="none" stroke="#ff0000" stroke-width="3.9"/>
<rect x="1134.12" y="647.48" width="19.1" height="223.62" fill="url(#pg)"/>
<path d="M1134.12 871.1V647.48H1153.22V871.1" fill="none" stroke="#00c000" stroke-width="3.9"/>
<rect x="1131.17" y="645.53" width="25" height="3.9" fill="#00c000"/>
<rect x="693.2" y="553.85" width="1.8" height="318.5" fill="#000"/>
<rect x="681" y="870.15" width="486.37" height="1.9" fill="#000"/>
<text x="677.7" y="877.9" text-anchor="end" font-size="19.8" textLength="10.8" lengthAdjust="spacingAndGlyphs">0</text>
<rect x="681" y="806.49" width="13.1" height="2.9" fill="#000"/>
<text x="677.7" y="814.74" text-anchor="end" font-size="19.8" textLength="32.4" lengthAdjust="spacingAndGlyphs">500</text>
<rect x="681" y="743.33" width="13.1" height="2.9" fill="#000"/>
<text x="677.7" y="751.58" text-anchor="end" font-size="19.8" textLength="43.2" lengthAdjust="spacingAndGlyphs">1000</text>
<rect x="681" y="680.17" width="13.1" height="2.9" fill="#000"/>
<text x="677.7" y="688.42" text-anchor="end" font-size="19.8" textLength="43.2" lengthAdjust="spacingAndGlyphs">1500</text>
<rect x="681" y="617.01" width="13.1" height="2.9" fill="#000"/>
<text x="677.7" y="625.26" text-anchor="end" font-size="19.8" textLength="43.2" lengthAdjust="spacingAndGlyphs">2000</text>
<rect x="681" y="553.85" width="13.1" height="2.9" fill="#000"/>
<text x="677.7" y="562.1" text-anchor="end" font-size="19.8" textLength="43.2" lengthAdjust="spacingAndGlyphs">2500</text>
<path d="M716.67 826.3V849.6" stroke="#ff0000" stroke-width="2.2" fill="none"/>
<circle cx="716.67" cy="826.3" r="6" fill="#ff0000"/>
<circle cx="716.67" cy="849.6" r="6" fill="#ff0000"/>
<path d="M751.27 823.64V825.64M745.27 823.64h12M745.27 825.64h12" stroke="#00c000" stroke-width="2.2" fill="none"/>
<polygon points="746.9,819.54 749.01,823.32 753.27,824.16 750.32,827.35 750.84,831.66 746.9,829.84 742.96,831.66 743.47,827.35 740.53,824.16 744.78,823.32" fill="#00c000"/>
<polygon points="757.55,817.54 759.67,821.33 763.92,822.17 760.97,825.35 761.49,829.66 757.55,827.84 753.61,829.66 754.13,825.35 751.18,822.17 755.43,821.33" fill="#00c000"/>
<path d="M785.87 846.28V859.59" stroke="#ff0000" stroke-width="2.2" fill="none"/>
<circle cx="785.87" cy="846.28" r="4.45" fill="none" stroke="#ff0000" stroke-width="4.2"/>
<circle cx="785.87" cy="859.59" r="4.45" fill="none" stroke="#ff0000" stroke-width="4.2"/>
<path d="M820.47 803V812.98" stroke="#00c000" stroke-width="2.2" fill="none"/>
<path d="M817.97 796.7L822.97 796.7L826.77 801.2L827.47 806.2L826.77 808.9L814.17 808.9L813.47 806.2L814.17 801.2ZM819.62 803.8h1.7v1.7h-1.7Z" fill="#00c000" fill-rule="evenodd"/>
<path d="M817.97 806.68L822.97 806.68L826.77 811.18L827.47 816.18L826.77 818.88L814.17 818.88L813.47 816.18L814.17 811.18ZM819.62 813.78h1.7v1.7h-1.7Z" fill="#00c000" fill-rule="evenodd"/>
<path d="M878.27 860.26V863.59M872.27 860.26h12M872.27 863.59h12" stroke="#ff0000" stroke-width="2.2" fill="none"/>
<circle cx="873.4" cy="863.59" r="6" fill="#ff0000"/>
<circle cx="885.05" cy="860.26" r="6" fill="#ff0000"/>
<path d="M912.87 850.27V852.93M906.87 850.27h12M906.87 852.93h12" stroke="#00c000" stroke-width="2.2" fill="none"/>
<polygon points="908.36,846.83 910.47,850.62 914.73,851.46 911.78,854.65 912.3,858.95 908.36,857.13 904.42,858.95 904.93,854.65 901.99,851.46 906.24,850.62" fill="#00c000"/>
<polygon points="919.34,844.17 921.46,847.96 925.72,848.8 922.77,851.98 923.28,856.29 919.34,854.47 915.41,856.29 915.92,851.98 912.97,848.8 917.23,847.96" fill="#00c000"/>
<path d="M947.47 861.26V863.92M941.47 861.26h12M941.47 863.92h12" stroke="#ff0000" stroke-width="2.2" fill="none"/>
<circle cx="939.98" cy="863.92" r="4.45" fill="none" stroke="#ff0000" stroke-width="4.2"/>
<circle cx="953.97" cy="861.26" r="4.45" fill="none" stroke="#ff0000" stroke-width="4.2"/>
<path d="M982.07 787.35V798" stroke="#00c000" stroke-width="2.2" fill="none"/>
<path d="M979.57 781.05L984.57 781.05L988.37 785.55L989.07 790.55L988.37 793.25L975.77 793.25L975.07 790.55L975.77 785.55ZM981.22 788.15h1.7v1.7h-1.7Z" fill="#00c000" fill-rule="evenodd"/>
<path d="M979.57 791.7L984.57 791.7L988.37 796.2L989.07 801.2L988.37 803.9L975.77 803.9L975.07 801.2L975.77 796.2ZM981.22 798.8h1.7v1.7h-1.7Z" fill="#00c000" fill-rule="evenodd"/>
<circle cx="1032.53" cy="869.58" r="6" fill="#ff0000"/>
<circle cx="1045.85" cy="868.91" r="6" fill="#ff0000"/>
<path d="M1074.47 862.26V868.91M1068.47 862.26h12M1068.47 868.91h12" stroke="#00c000" stroke-width="2.2" fill="none"/>
<polygon points="1068.15,862.81 1070.27,866.6 1074.53,867.44 1071.58,870.63 1072.09,874.93 1068.15,873.11 1064.22,874.93 1064.73,870.63 1061.78,867.44 1066.04,866.6" fill="#00c000"/>
<polygon points="1079.81,856.16 1081.92,859.94 1086.18,860.78 1083.23,863.97 1083.74,868.28 1079.81,866.46 1075.87,868.28 1076.38,863.97 1073.43,860.78 1077.69,859.94" fill="#00c000"/>
<path d="M1109.07 868.91V870.24M1103.07 868.91h12M1103.07 870.24h12" stroke="#ff0000" stroke-width="2.2" fill="none"/>
<circle cx="1101.45" cy="870.24" r="4.45" fill="none" stroke="#ff0000" stroke-width="4.2"/>
<circle cx="1115.43" cy="868.91" r="4.45" fill="none" stroke="#ff0000" stroke-width="4.2"/>
<path d="M1143.67 593.27V699.8" stroke="#00c000" stroke-width="2.2" fill="none"/>
<path d="M1141.17 586.97L1146.17 586.97L1149.97 591.47L1150.67 596.47L1149.97 599.17L1137.37 599.17L1136.67 596.47L1137.37 591.47ZM1142.82 594.07h1.7v1.7h-1.7Z" fill="#00c000" fill-rule="evenodd"/>
<path d="M1141.17 693.5L1146.17 693.5L1149.97 698L1150.67 703L1149.97 705.7L1137.37 705.7L1136.67 703L1137.37 698ZM1142.82 700.6h1.7v1.7h-1.7Z" fill="#00c000" fill-rule="evenodd"/>
<rect x="766.72" y="871.1" width="2.9" height="13.4" fill="#000"/>
<text x="768.17" y="903.7" text-anchor="middle" font-size="19.8" textLength="10.8" lengthAdjust="spacingAndGlyphs">3</text>
<rect x="928.22" y="871.1" width="2.9" height="13.4" fill="#000"/>
<text x="929.67" y="903.7" text-anchor="middle" font-size="19.8" textLength="10.8" lengthAdjust="spacingAndGlyphs">6</text>
<rect x="1089.72" y="871.1" width="2.9" height="13.4" fill="#000"/>
<text x="1091.17" y="903.7" text-anchor="middle" font-size="19.8" textLength="21.6" lengthAdjust="spacingAndGlyphs">13</text>
<text x="929.97" y="937.1" text-anchor="middle" font-size="21.7" textLength="272" lengthAdjust="spacing">Days after start of co-culture</text>
<text transform="translate(619.1 715.4) rotate(-90) scale(1 1.08)" text-anchor="middle" font-size="22.45" textLength="223.4" lengthAdjust="spacing">Concentration (pg/mL)</text></g>
<g><text x="1514.7" y="547.05" text-anchor="middle" font-size="38.6" font-weight="bold" textLength="60.4" lengthAdjust="spacingAndGlyphs">IL-6</text>
<path d="M1287.67 874.5V862.21H1307.67V874.5" fill="none" stroke="#ff0000" stroke-width="3.9"/>
<path d="M1322.72 874.5V835.58H1341.82V874.5" fill="none" stroke="#00c000" stroke-width="3.9"/>
<rect x="1319.77" y="833.63" width="25" height="3.9" fill="#00c000"/>
<rect x="1356.87" y="870.08" width="20" height="4.42" fill="url(#pr)"/>
<path d="M1356.87 874.5V870.08H1376.87V874.5" fill="none" stroke="#ff0000" stroke-width="3.9"/>
<rect x="1391.92" y="678.45" width="19.1" height="196.05" fill="url(#pg)"/>
<path d="M1391.92 874.5V678.45H1411.02V874.5" fill="none" stroke="#00c000" stroke-width="3.9"/>
<rect x="1388.97" y="676.5" width="25" height="3.9" fill="#00c000"/>
<path d="M1449.27 874.5V873.24H1469.27V874.5" fill="none" stroke="#ff0000" stroke-width="3.9"/>
<path d="M1484.32 874.5V866.21H1503.42V874.5" fill="none" stroke="#00c000" stroke-width="3.9"/>
<rect x="1481.37" y="864.26" width="25" height="3.9" fill="#00c000"/>
<rect x="1518.47" y="873.41" width="20" height="1.09" fill="url(#pr)"/>
<path d="M1518.47 874.5V873.41H1538.47V874.5" fill="none" stroke="#ff0000" stroke-width="3.9"/>
<rect x="1553.52" y="763.34" width="19.1" height="111.16" fill="url(#pg)"/>
<path d="M1553.52 874.5V763.34H1572.62V874.5" fill="none" stroke="#00c000" stroke-width="3.9"/>
<rect x="1550.57" y="761.39" width="25" height="3.9" fill="#00c000"/>
<path d="M1610.87 874.5V874H1630.87V874.5" fill="none" stroke="#ff0000" stroke-width="3.9"/>
<path d="M1645.92 874.5V874H1665.02V874.5" fill="none" stroke="#00c000" stroke-width="3.9"/>
<rect x="1642.97" y="872.05" width="25" height="3.9" fill="#00c000"/>
<rect x="1680.07" y="874" width="20" height="0.5" fill="url(#pr)"/>
<path d="M1680.07 874.5V874H1700.07V874.5" fill="none" stroke="#ff0000" stroke-width="3.9"/>
<rect x="1715.12" y="856.22" width="19.1" height="18.28" fill="url(#pg)"/>
<path d="M1715.12 874.5V856.22H1734.22V874.5" fill="none" stroke="#00c000" stroke-width="3.9"/>
<rect x="1712.17" y="854.27" width="25" height="3.9" fill="#00c000"/>
<rect x="1274.2" y="556.25" width="1.8" height="320.05" fill="#000"/>
<rect x="1262" y="873" width="486.37" height="3" fill="#000"/>
<text x="1258.7" y="881.3" text-anchor="end" font-size="19.8" textLength="10.8" lengthAdjust="spacingAndGlyphs">0</text>
<rect x="1262" y="809.69" width="13.1" height="2.9" fill="#000"/>
<text x="1258.7" y="817.94" text-anchor="end" font-size="19.8" textLength="32.4" lengthAdjust="spacingAndGlyphs">200</text>
<rect x="1262" y="746.33" width="13.1" height="2.9" fill="#000"/>
<text x="1258.7" y="754.58" text-anchor="end" font-size="19.8" textLength="32.4" lengthAdjust="spacingAndGlyphs">400</text>
<rect x="1262" y="682.97" width="13.1" height="2.9" fill="#000"/>
<text x="1258.7" y="691.22" text-anchor="end" font-size="19.8" textLength="32.4" lengthAdjust="spacingAndGlyphs">600</text>
<rect x="1262" y="619.61" width="13.1" height="2.9" fill="#000"/>
<text x="1258.7" y="627.86" text-anchor="end" font-size="19.8" textLength="32.4" lengthAdjust="spacingAndGlyphs">800</text>
<rect x="1262" y="556.25" width="13.1" height="2.9" fill="#000"/>
<text x="1258.7" y="564.5" text-anchor="end" font-size="19.8" textLength="43.2" lengthAdjust="spacingAndGlyphs">1000</text>
<path d="M1297.67 854.27V865.26" stroke="#ff0000" stroke-width="2.2" fill="none"/>
<circle cx="1297.67" cy="854.27" r="6" fill="#ff0000"/>
<circle cx="1297.67" cy="865.26" r="6" fill="#ff0000"/>
<path d="M1332.27 829.3V837.62" stroke="#00c000" stroke-width="2.2" fill="none"/>
<polygon points="1332.27,823.2 1334.39,826.99 1338.64,827.83 1335.69,831.01 1336.21,835.32 1332.27,833.5 1328.33,835.32 1328.85,831.01 1325.9,827.83 1330.15,826.99" fill="#00c000"/>
<polygon points="1332.27,831.52 1334.39,835.31 1338.64,836.15 1335.69,839.34 1336.21,843.64 1332.27,841.82 1328.33,843.64 1328.85,839.34 1325.9,836.15 1330.15,835.31" fill="#00c000"/>
<path d="M1366.87 868.58V871.58M1360.87 868.58h12M1360.87 871.58h12" stroke="#ff0000" stroke-width="2.2" fill="none"/>
<circle cx="1360.2" cy="871.58" r="4.45" fill="none" stroke="#ff0000" stroke-width="4.2"/>
<circle cx="1373.85" cy="868.58" r="4.45" fill="none" stroke="#ff0000" stroke-width="4.2"/>
<path d="M1401.47 631.22V722.77" stroke="#00c000" stroke-width="2.2" fill="none"/>
<path d="M1398.97 624.92L1403.97 624.92L1407.77 629.42L1408.47 634.42L1407.77 637.12L1395.17 637.12L1394.47 634.42L1395.17 629.42ZM1400.62 632.02h1.7v1.7h-1.7Z" fill="#00c000" fill-rule="evenodd"/>
<path d="M1398.97 716.47L1403.97 716.47L1407.77 720.97L1408.47 725.97L1407.77 728.67L1395.17 728.67L1394.47 725.97L1395.17 720.97ZM1400.62 723.57h1.7v1.7h-1.7Z" fill="#00c000" fill-rule="evenodd"/>
<circle cx="1452.74" cy="873.58" r="6" fill="#ff0000"/>
<circle cx="1466.06" cy="872.91" r="6" fill="#ff0000"/>
<path d="M1493.87 860.93V865.92M1487.87 860.93h12M1487.87 865.92h12" stroke="#00c000" stroke-width="2.2" fill="none"/>
<polygon points="1487.7,859.82 1489.82,863.61 1494.07,864.45 1491.12,867.63 1491.64,871.94 1487.7,870.12 1483.76,871.94 1484.28,867.63 1481.33,864.45 1485.58,863.61" fill="#00c000"/>
<polygon points="1500.02,854.83 1502.13,858.61 1506.39,859.46 1503.44,862.64 1503.96,866.95 1500.02,865.13 1496.08,866.95 1496.59,862.64 1493.65,859.46 1497.9,858.61" fill="#00c000"/>
<circle cx="1521.99" cy="873.91" r="4.45" fill="none" stroke="#ff0000" stroke-width="4.2"/>
<circle cx="1535.97" cy="872.91" r="4.45" fill="none" stroke="#ff0000" stroke-width="4.2"/>
<path d="M1563.07 732.09V792.02" stroke="#00c000" stroke-width="2.2" fill="none"/>
<path d="M1560.57 725.79L1565.57 725.79L1569.37 730.29L1570.07 735.29L1569.37 737.99L1556.77 737.99L1556.07 735.29L1556.77 730.29ZM1562.22 732.89h1.7v1.7h-1.7Z" fill="#00c000" fill-rule="evenodd"/>
<path d="M1560.57 785.72L1565.57 785.72L1569.37 790.22L1570.07 795.22L1569.37 797.92L1556.77 797.92L1556.07 795.22L1556.77 790.22ZM1562.22 792.82h1.7v1.7h-1.7Z" fill="#00c000" fill-rule="evenodd"/>
<circle cx="1614.87" cy="874.24" r="6" fill="#ff0000"/>
<circle cx="1628.19" cy="874.58" r="6" fill="#ff0000"/>
<polygon points="1649.16,868.14 1651.28,871.93 1655.53,872.77 1652.58,875.96 1653.1,880.26 1649.16,878.44 1645.22,880.26 1645.74,875.96 1642.79,872.77 1647.04,871.93" fill="#00c000"/>
<polygon points="1663.14,868.14 1665.26,871.93 1669.51,872.77 1666.57,875.96 1667.08,880.26 1663.14,878.44 1659.2,880.26 1659.72,875.96 1656.77,872.77 1661.03,871.93" fill="#00c000"/>
<circle cx="1684.12" cy="874.58" r="4.45" fill="none" stroke="#ff0000" stroke-width="4.2"/>
<circle cx="1698.1" cy="874.58" r="4.45" fill="none" stroke="#ff0000" stroke-width="4.2"/>
<path d="M1724.67 849.28V859.26M1718.67 849.28h12M1718.67 859.26h12" stroke="#00c000" stroke-width="2.2" fill="none"/>
<path d="M1716.57 852.96L1721.57 852.96L1725.37 857.46L1726.07 862.46L1725.37 865.16L1712.77 865.16L1712.07 862.46L1712.77 857.46ZM1718.22 860.06h1.7v1.7h-1.7Z" fill="#00c000" fill-rule="evenodd"/>
<path d="M1729.22 842.98L1734.22 842.98L1738.02 847.48L1738.72 852.48L1738.02 855.18L1725.42 855.18L1724.72 852.48L1725.42 847.48ZM1730.87 850.08h1.7v1.7h-1.7Z" fill="#00c000" fill-rule="evenodd"/>
<rect x="1347.72" y="874.5" width="2.9" height="13.4" fill="#000"/>
<text x="1349.17" y="907.1" text-anchor="middle" font-size="19.8" textLength="10.8" lengthAdjust="spacingAndGlyphs">3</text>
<rect x="1509.22" y="874.5" width="2.9" height="13.4" fill="#000"/>
<text x="1510.67" y="907.1" text-anchor="middle" font-size="19.8" textLength="10.8" lengthAdjust="spacingAndGlyphs">6</text>
<rect x="1670.72" y="874.5" width="2.9" height="13.4" fill="#000"/>
<text x="1672.17" y="907.1" text-anchor="middle" font-size="19.8" textLength="21.6" lengthAdjust="spacingAndGlyphs">13</text>
<text x="1510.97" y="940.5" text-anchor="middle" font-size="21.7" textLength="272" lengthAdjust="spacing">Days after start of co-culture</text>
<text transform="translate(1200 718.3) rotate(-90) scale(1 1.08)" text-anchor="middle" font-size="22.45" textLength="223.4" lengthAdjust="spacing">Concentration (pg/mL)</text></g>
<g><text x="346.3" y="1024.55" text-anchor="middle" font-size="38.6" font-weight="bold" textLength="59.7" lengthAdjust="spacingAndGlyphs">IL-8</text>
<path d="M129 1353.45V1284.95H149V1353.45" fill="none" stroke="#ff0000" stroke-width="3.9"/>
<path d="M164.05 1353.45V1224.03H183.15V1353.45" fill="none" stroke="#00c000" stroke-width="3.9"/>
<rect x="161.1" y="1222.08" width="25" height="3.9" fill="#00c000"/>
<rect x="198.2" y="1298.93" width="20" height="54.52" fill="url(#pr)"/>
<path d="M198.2 1353.45V1298.93H218.2V1353.45" fill="none" stroke="#ff0000" stroke-width="3.9"/>
<rect x="233.25" y="1224.03" width="19.1" height="129.42" fill="url(#pg)"/>
<path d="M233.25 1353.45V1224.03H252.35V1353.45" fill="none" stroke="#00c000" stroke-width="3.9"/>
<rect x="230.3" y="1222.08" width="25" height="3.9" fill="#00c000"/>
<path d="M290.6 1353.45V1337.88H310.6V1353.45" fill="none" stroke="#ff0000" stroke-width="3.9"/>
<path d="M325.65 1353.45V1269.97H344.75V1353.45" fill="none" stroke="#00c000" stroke-width="3.9"/>
<rect x="322.7" y="1268.02" width="25" height="3.9" fill="#00c000"/>
<rect x="359.8" y="1337.88" width="20" height="15.57" fill="url(#pr)"/>
<path d="M359.8 1353.45V1337.88H379.8V1353.45" fill="none" stroke="#ff0000" stroke-width="3.9"/>
<rect x="394.85" y="1199.73" width="19.1" height="153.72" fill="url(#pg)"/>
<path d="M394.85 1353.45V1199.73H413.95V1353.45" fill="none" stroke="#00c000" stroke-width="3.9"/>
<rect x="391.9" y="1197.78" width="25" height="3.9" fill="#00c000"/>
<path d="M452.2 1353.45V1349.25H472.2V1353.45" fill="none" stroke="#ff0000" stroke-width="3.9"/>
<path d="M487.25 1353.45V1337.22H506.35V1353.45" fill="none" stroke="#00c000" stroke-width="3.9"/>
<rect x="484.3" y="1335.27" width="25" height="3.9" fill="#00c000"/>
<rect x="521.4" y="1349.25" width="20" height="4.2" fill="url(#pr)"/>
<path d="M521.4 1353.45V1349.25H541.4V1353.45" fill="none" stroke="#ff0000" stroke-width="3.9"/>
<rect x="556.45" y="1193.07" width="19.1" height="160.38" fill="url(#pg)"/>
<path d="M556.45 1353.45V1193.07H575.55V1353.45" fill="none" stroke="#00c000" stroke-width="3.9"/>
<rect x="553.5" y="1191.12" width="25" height="3.9" fill="#00c000"/>
<rect x="114.15" y="1036.85" width="2.7" height="318.25" fill="#000"/>
<rect x="102.4" y="1352.1" width="487.3" height="2.7" fill="#000"/>
<text x="99.1" y="1360.25" text-anchor="end" font-size="19.8" textLength="10.8" lengthAdjust="spacingAndGlyphs">0</text>
<rect x="102.4" y="1246.95" width="13.1" height="2.9" fill="#000"/>
<text x="99.1" y="1255.2" text-anchor="end" font-size="19.8" textLength="32.4" lengthAdjust="spacingAndGlyphs">500</text>
<rect x="102.4" y="1141.9" width="13.1" height="2.9" fill="#000"/>
<text x="99.1" y="1150.15" text-anchor="end" font-size="19.8" textLength="43.2" lengthAdjust="spacingAndGlyphs">1000</text>
<rect x="102.4" y="1036.85" width="13.1" height="2.9" fill="#000"/>
<text x="99.1" y="1045.1" text-anchor="end" font-size="19.8" textLength="43.2" lengthAdjust="spacingAndGlyphs">1500</text>
<path d="M139 1263.36V1304.31" stroke="#ff0000" stroke-width="2.2" fill="none"/>
<circle cx="139" cy="1263.36" r="6" fill="#ff0000"/>
<circle cx="139" cy="1304.31" r="6" fill="#ff0000"/>
<path d="M173.6 1216.09V1231.07" stroke="#00c000" stroke-width="2.2" fill="none"/>
<polygon points="173.6,1209.99 175.72,1213.77 179.97,1214.62 177.02,1217.8 177.54,1222.11 173.6,1220.29 169.66,1222.11 170.18,1217.8 167.23,1214.62 171.48,1213.77" fill="#00c000"/>
<polygon points="173.6,1224.97 175.72,1228.76 179.97,1229.6 177.02,1232.78 177.54,1237.09 173.6,1235.27 169.66,1237.09 170.18,1232.78 167.23,1229.6 171.48,1228.76" fill="#00c000"/>
<path d="M208.2 1281V1315.29" stroke="#ff0000" stroke-width="2.2" fill="none"/>
<circle cx="208.2" cy="1281" r="4.45" fill="none" stroke="#ff0000" stroke-width="4.2"/>
<circle cx="208.2" cy="1315.29" r="4.45" fill="none" stroke="#ff0000" stroke-width="4.2"/>
<path d="M242.8 1213.42V1232.73" stroke="#00c000" stroke-width="2.2" fill="none"/>
<path d="M240.3 1207.12L245.3 1207.12L249.1 1211.62L249.8 1216.62L249.1 1219.32L236.5 1219.32L235.8 1216.62L236.5 1211.62ZM241.95 1214.22h1.7v1.7h-1.7Z" fill="#00c000" fill-rule="evenodd"/>
<path d="M240.3 1226.43L245.3 1226.43L249.1 1230.93L249.8 1235.93L249.1 1238.63L236.5 1238.63L235.8 1235.93L236.5 1230.93ZM241.95 1233.53h1.7v1.7h-1.7Z" fill="#00c000" fill-rule="evenodd"/>
<path d="M300.6 1335.93V1338.6M294.6 1335.93h12M294.6 1338.6h12" stroke="#ff0000" stroke-width="2.2" fill="none"/>
<circle cx="294.4" cy="1338.6" r="6" fill="#ff0000"/>
<circle cx="307.05" cy="1335.93" r="6" fill="#ff0000"/>
<path d="M335.2 1253.37V1284.33" stroke="#00c000" stroke-width="2.2" fill="none"/>
<polygon points="335.2,1247.27 337.32,1251.06 341.57,1251.9 338.62,1255.08 339.14,1259.39 335.2,1257.57 331.26,1259.39 331.78,1255.08 328.83,1251.9 333.08,1251.06" fill="#00c000"/>
<polygon points="335.2,1278.23 337.32,1282.02 341.57,1282.86 338.62,1286.05 339.14,1290.35 335.2,1288.53 331.26,1290.35 331.78,1286.05 328.83,1282.86 333.08,1282.02" fill="#00c000"/>
<path d="M369.8 1329.94V1335.27M363.8 1329.94h12M363.8 1335.27h12" stroke="#ff0000" stroke-width="2.2" fill="none"/>
<circle cx="362.65" cy="1335.27" r="4.45" fill="none" stroke="#ff0000" stroke-width="4.2"/>
<circle cx="376.63" cy="1329.94" r="4.45" fill="none" stroke="#ff0000" stroke-width="4.2"/>
<path d="M404.4 1148.84V1252.04" stroke="#00c000" stroke-width="2.2" fill="none"/>
<path d="M401.9 1142.54L406.9 1142.54L410.7 1147.04L411.4 1152.04L410.7 1154.74L398.1 1154.74L397.4 1152.04L398.1 1147.04ZM403.55 1149.64h1.7v1.7h-1.7Z" fill="#00c000" fill-rule="evenodd"/>
<path d="M401.9 1245.74L406.9 1245.74L410.7 1250.24L411.4 1255.24L410.7 1257.94L398.1 1257.94L397.4 1255.24L398.1 1250.24ZM403.55 1252.84h1.7v1.7h-1.7Z" fill="#00c000" fill-rule="evenodd"/>
<path d="M462.2 1348.25V1350.25M456.2 1348.25h12M456.2 1350.25h12" stroke="#ff0000" stroke-width="2.2" fill="none"/>
<circle cx="455.2" cy="1350.25" r="6" fill="#ff0000"/>
<circle cx="468.51" cy="1348.25" r="6" fill="#ff0000"/>
<path d="M496.8 1325.28V1347.59" stroke="#00c000" stroke-width="2.2" fill="none"/>
<polygon points="496.8,1319.18 498.92,1322.97 503.17,1323.81 500.22,1326.99 500.74,1331.3 496.8,1329.48 492.86,1331.3 493.38,1326.99 490.43,1323.81 494.68,1322.97" fill="#00c000"/>
<polygon points="496.8,1341.49 498.92,1345.27 503.17,1346.12 500.22,1349.3 500.74,1353.61 496.8,1351.79 492.86,1353.61 493.38,1349.3 490.43,1346.12 494.68,1345.27" fill="#00c000"/>
<path d="M531.4 1346.59V1351.91M525.4 1346.59h12M525.4 1351.91h12" stroke="#ff0000" stroke-width="2.2" fill="none"/>
<circle cx="524.78" cy="1351.91" r="4.45" fill="none" stroke="#ff0000" stroke-width="4.2"/>
<circle cx="538.09" cy="1346.59" r="4.45" fill="none" stroke="#ff0000" stroke-width="4.2"/>
<path d="M566 1180.13V1204.43" stroke="#00c000" stroke-width="2.2" fill="none"/>
<path d="M563.5 1173.83L568.5 1173.83L572.3 1178.33L573 1183.33L572.3 1186.03L559.7 1186.03L559 1183.33L559.7 1178.33ZM565.15 1180.93h1.7v1.7h-1.7Z" fill="#00c000" fill-rule="evenodd"/>
<path d="M563.5 1198.13L568.5 1198.13L572.3 1202.63L573 1207.63L572.3 1210.33L559.7 1210.33L559 1207.63L559.7 1202.63ZM565.15 1205.23h1.7v1.7h-1.7Z" fill="#00c000" fill-rule="evenodd"/>
<rect x="189.05" y="1353.45" width="2.9" height="13.4" fill="#000"/>
<text x="190.5" y="1386.05" text-anchor="middle" font-size="19.8" textLength="10.8" lengthAdjust="spacingAndGlyphs">3</text>
<rect x="350.55" y="1353.45" width="2.9" height="13.4" fill="#000"/>
<text x="352" y="1386.05" text-anchor="middle" font-size="19.8" textLength="10.8" lengthAdjust="spacingAndGlyphs">6</text>
<rect x="512.05" y="1353.45" width="2.9" height="13.4" fill="#000"/>
<text x="513.5" y="1386.05" text-anchor="middle" font-size="19.8" textLength="21.6" lengthAdjust="spacingAndGlyphs">13</text>
<text x="352.3" y="1419.45" text-anchor="middle" font-size="21.7" textLength="272" lengthAdjust="spacing">Days after start of co-culture</text>
<text transform="translate(41 1198.08) rotate(-90) scale(1 1.08)" text-anchor="middle" font-size="22.45" textLength="223.4" lengthAdjust="spacing">Concentration (pg/mL)</text></g>
<g><text x="937.2" y="1024.55" text-anchor="middle" font-size="38.6" font-weight="bold" textLength="79.25" lengthAdjust="spacingAndGlyphs">IL-10</text>
<path d="M699.5 1353.45V1104.85H719.5V1353.45" fill="none" stroke="#ff0000" stroke-width="3.9"/>
<path d="M734.55 1353.45V1161.78H753.65V1353.45" fill="none" stroke="#00c000" stroke-width="3.9"/>
<rect x="731.6" y="1159.83" width="25" height="3.9" fill="#00c000"/>
<rect x="768.7" y="1187.08" width="20" height="166.37" fill="url(#pr)"/>
<path d="M768.7 1353.45V1187.08H788.7V1353.45" fill="none" stroke="#ff0000" stroke-width="3.9"/>
<rect x="803.75" y="1122.16" width="19.1" height="231.29" fill="url(#pg)"/>
<path d="M803.75 1353.45V1122.16H822.85V1353.45" fill="none" stroke="#00c000" stroke-width="3.9"/>
<rect x="800.8" y="1120.21" width="25" height="3.9" fill="#00c000"/>
<path d="M861.1 1353.45V1251.33H881.1V1353.45" fill="none" stroke="#ff0000" stroke-width="3.9"/>
<path d="M896.15 1353.45V1247H915.25V1353.45" fill="none" stroke="#00c000" stroke-width="3.9"/>
<rect x="893.2" y="1245.05" width="25" height="3.9" fill="#00c000"/>
<rect x="930.3" y="1211.38" width="20" height="142.07" fill="url(#pr)"/>
<path d="M930.3 1353.45V1211.38H950.3V1353.45" fill="none" stroke="#ff0000" stroke-width="3.9"/>
<rect x="965.35" y="1201.06" width="19.1" height="152.39" fill="url(#pg)"/>
<path d="M965.35 1353.45V1201.06H984.45V1353.45" fill="none" stroke="#00c000" stroke-width="3.9"/>
<rect x="962.4" y="1199.11" width="25" height="3.9" fill="#00c000"/>
<path d="M1022.7 1353.45V1341.88H1042.7V1353.45" fill="none" stroke="#ff0000" stroke-width="3.9"/>
<path d="M1057.75 1353.45V1303.93H1076.85V1353.45" fill="none" stroke="#00c000" stroke-width="3.9"/>
<rect x="1054.8" y="1301.98" width="25" height="3.9" fill="#00c000"/>
<rect x="1091.9" y="1341.88" width="20" height="11.57" fill="url(#pr)"/>
<path d="M1091.9 1353.45V1341.88H1111.9V1353.45" fill="none" stroke="#ff0000" stroke-width="3.9"/>
<rect x="1126.95" y="1196.06" width="19.1" height="157.39" fill="url(#pg)"/>
<path d="M1126.95 1353.45V1196.06H1146.05V1353.45" fill="none" stroke="#00c000" stroke-width="3.9"/>
<rect x="1124" y="1194.11" width="25" height="3.9" fill="#00c000"/>
<rect x="685.25" y="1037.35" width="2.7" height="317.75" fill="#000"/>
<rect x="673.5" y="1352.1" width="486.7" height="2.7" fill="#000"/>
<text x="670.2" y="1360.25" text-anchor="end" font-size="19.8" textLength="10.8" lengthAdjust="spacingAndGlyphs">0</text>
<rect x="673.5" y="1247.45" width="13.1" height="1.9" fill="#000"/>
<text x="670.2" y="1255.2" text-anchor="end" font-size="19.8" textLength="21.6" lengthAdjust="spacingAndGlyphs">10</text>
<rect x="673.5" y="1142.4" width="13.1" height="1.9" fill="#000"/>
<text x="670.2" y="1150.15" text-anchor="end" font-size="19.8" textLength="21.6" lengthAdjust="spacingAndGlyphs">20</text>
<rect x="673.5" y="1037.35" width="13.1" height="1.9" fill="#000"/>
<text x="670.2" y="1045.1" text-anchor="end" font-size="19.8" textLength="21.6" lengthAdjust="spacingAndGlyphs">30</text>
<path d="M709.5 1072.94V1133.53" stroke="#ff0000" stroke-width="2.2" fill="none"/>
<circle cx="709.5" cy="1072.94" r="6" fill="#ff0000"/>
<circle cx="709.5" cy="1133.53" r="6" fill="#ff0000"/>
<path d="M744.1 1131.2V1191.78" stroke="#00c000" stroke-width="2.2" fill="none"/>
<polygon points="744.1,1125.1 746.22,1128.88 750.47,1129.72 747.52,1132.91 748.04,1137.22 744.1,1135.4 740.16,1137.22 740.68,1132.91 737.73,1129.72 741.98,1128.88" fill="#00c000"/>
<polygon points="744.1,1185.68 746.22,1189.47 750.47,1190.31 747.52,1193.5 748.04,1197.8 744.1,1195.98 740.16,1197.8 740.68,1193.5 737.73,1190.31 741.98,1189.47" fill="#00c000"/>
<path d="M778.7 1178.8V1191.12" stroke="#ff0000" stroke-width="2.2" fill="none"/>
<circle cx="778.7" cy="1178.8" r="4.45" fill="none" stroke="#ff0000" stroke-width="4.2"/>
<circle cx="778.7" cy="1191.12" r="4.45" fill="none" stroke="#ff0000" stroke-width="4.2"/>
<path d="M813.3 1062.28V1180.13" stroke="#00c000" stroke-width="2.2" fill="none"/>
<path d="M810.8 1055.98L815.8 1055.98L819.6 1060.48L820.3 1065.48L819.6 1068.18L807 1068.18L806.3 1065.48L807 1060.48ZM812.45 1063.08h1.7v1.7h-1.7Z" fill="#00c000" fill-rule="evenodd"/>
<path d="M810.8 1173.83L815.8 1173.83L819.6 1178.33L820.3 1183.33L819.6 1186.03L807 1186.03L806.3 1183.33L807 1178.33ZM812.45 1180.93h1.7v1.7h-1.7Z" fill="#00c000" fill-rule="evenodd"/>
<path d="M871.1 1245.38V1252.04M865.1 1245.38h12M865.1 1252.04h12" stroke="#ff0000" stroke-width="2.2" fill="none"/>
<circle cx="864.4" cy="1252.04" r="6" fill="#ff0000"/>
<circle cx="876.72" cy="1245.38" r="6" fill="#ff0000"/>
<path d="M905.7 1234.4V1257.7" stroke="#00c000" stroke-width="2.2" fill="none"/>
<polygon points="905.7,1228.3 907.82,1232.08 912.07,1232.93 909.12,1236.11 909.64,1240.42 905.7,1238.6 901.76,1240.42 902.28,1236.11 899.33,1232.93 903.58,1232.08" fill="#00c000"/>
<polygon points="905.7,1251.6 907.82,1255.39 912.07,1256.23 909.12,1259.41 909.64,1263.72 905.7,1261.9 901.76,1263.72 902.28,1259.41 899.33,1256.23 903.58,1255.39" fill="#00c000"/>
<path d="M940.3 1204.43V1212.09M934.3 1204.43h12M934.3 1212.09h12" stroke="#ff0000" stroke-width="2.2" fill="none"/>
<circle cx="932.65" cy="1212.09" r="4.45" fill="none" stroke="#ff0000" stroke-width="4.2"/>
<circle cx="945.97" cy="1204.43" r="4.45" fill="none" stroke="#ff0000" stroke-width="4.2"/>
<path d="M974.9 1173.47V1226.74" stroke="#00c000" stroke-width="2.2" fill="none"/>
<path d="M972.4 1167.17L977.4 1167.17L981.2 1171.67L981.9 1176.67L981.2 1179.37L968.6 1179.37L967.9 1176.67L968.6 1171.67ZM974.05 1174.27h1.7v1.7h-1.7Z" fill="#00c000" fill-rule="evenodd"/>
<path d="M972.4 1220.44L977.4 1220.44L981.2 1224.94L981.9 1229.94L981.2 1232.64L968.6 1232.64L967.9 1229.94L968.6 1224.94ZM974.05 1227.54h1.7v1.7h-1.7Z" fill="#00c000" fill-rule="evenodd"/>
<path d="M1032.7 1334.27V1347.59" stroke="#ff0000" stroke-width="2.2" fill="none"/>
<circle cx="1032.7" cy="1334.27" r="6" fill="#ff0000"/>
<circle cx="1032.7" cy="1347.59" r="6" fill="#ff0000"/>
<path d="M1067.3 1275.34V1331.94" stroke="#00c000" stroke-width="2.2" fill="none"/>
<polygon points="1067.3,1269.24 1069.42,1273.03 1073.67,1273.87 1070.72,1277.06 1071.24,1281.36 1067.3,1279.54 1063.36,1281.36 1063.88,1277.06 1060.93,1273.87 1065.18,1273.03" fill="#00c000"/>
<polygon points="1067.3,1325.84 1069.42,1329.63 1073.67,1330.47 1070.72,1333.65 1071.24,1337.96 1067.3,1336.14 1063.36,1337.96 1063.88,1333.65 1060.93,1330.47 1065.18,1329.63" fill="#00c000"/>
<path d="M1101.9 1332.6V1347.59" stroke="#ff0000" stroke-width="2.2" fill="none"/>
<circle cx="1101.9" cy="1332.6" r="4.45" fill="none" stroke="#ff0000" stroke-width="4.2"/>
<circle cx="1101.9" cy="1347.59" r="4.45" fill="none" stroke="#ff0000" stroke-width="4.2"/>
<path d="M1136.5 1165.48V1225.41" stroke="#00c000" stroke-width="2.2" fill="none"/>
<path d="M1134 1159.18L1139 1159.18L1142.8 1163.68L1143.5 1168.68L1142.8 1171.38L1130.2 1171.38L1129.5 1168.68L1130.2 1163.68ZM1135.65 1166.28h1.7v1.7h-1.7Z" fill="#00c000" fill-rule="evenodd"/>
<path d="M1134 1219.11L1139 1219.11L1142.8 1223.61L1143.5 1228.61L1142.8 1231.31L1130.2 1231.31L1129.5 1228.61L1130.2 1223.61ZM1135.65 1226.21h1.7v1.7h-1.7Z" fill="#00c000" fill-rule="evenodd"/>
<rect x="760.05" y="1353.45" width="1.9" height="13.4" fill="#000"/>
<text x="761" y="1386.05" text-anchor="middle" font-size="19.8" textLength="10.8" lengthAdjust="spacingAndGlyphs">3</text>
<rect x="921.55" y="1353.45" width="1.9" height="13.4" fill="#000"/>
<text x="922.5" y="1386.05" text-anchor="middle" font-size="19.8" textLength="10.8" lengthAdjust="spacingAndGlyphs">6</text>
<rect x="1083.05" y="1353.45" width="1.9" height="13.4" fill="#000"/>
<text x="1084" y="1386.05" text-anchor="middle" font-size="19.8" textLength="21.6" lengthAdjust="spacingAndGlyphs">13</text>
<text x="922.8" y="1419.45" text-anchor="middle" font-size="21.7" textLength="272" lengthAdjust="spacing">Days after start of co-culture</text>
<text transform="translate(634.1 1198.08) rotate(-90) scale(1 1.08)" text-anchor="middle" font-size="22.45" textLength="223.4" lengthAdjust="spacing">Concentration (pg/mL)</text></g>
<g><text x="1514.4" y="1023.9" text-anchor="middle" font-size="38.6" font-weight="bold" textLength="82.25" lengthAdjust="spacingAndGlyphs">IL-13</text>
<path d="M1297.67 1353.45V1119.16H1317.67V1353.45" fill="none" stroke="#ff0000" stroke-width="3.9"/>
<path d="M1332.72 1353.45V1096.53H1351.82V1353.45" fill="none" stroke="#00c000" stroke-width="3.9"/>
<rect x="1329.77" y="1094.58" width="25" height="3.9" fill="#00c000"/>
<rect x="1366.87" y="1175.09" width="20" height="178.36" fill="url(#pr)"/>
<path d="M1366.87 1353.45V1175.09H1386.87V1353.45" fill="none" stroke="#ff0000" stroke-width="3.9"/>
<rect x="1401.92" y="1100.85" width="19.1" height="252.6" fill="url(#pg)"/>
<path d="M1401.92 1353.45V1100.85H1421.02V1353.45" fill="none" stroke="#00c000" stroke-width="3.9"/>
<rect x="1398.97" y="1098.9" width="25" height="3.9" fill="#00c000"/>
<path d="M1459.27 1353.45V1245H1479.27V1353.45" fill="none" stroke="#ff0000" stroke-width="3.9"/>
<path d="M1494.32 1353.45V1142.13H1513.42V1353.45" fill="none" stroke="#00c000" stroke-width="3.9"/>
<rect x="1491.37" y="1140.18" width="25" height="3.9" fill="#00c000"/>
<rect x="1528.47" y="1245" width="20" height="108.45" fill="url(#pr)"/>
<path d="M1528.47 1353.45V1245H1548.47V1353.45" fill="none" stroke="#ff0000" stroke-width="3.9"/>
<rect x="1563.52" y="1099.85" width="19.1" height="253.6" fill="url(#pg)"/>
<path d="M1563.52 1353.45V1099.85H1582.62V1353.45" fill="none" stroke="#00c000" stroke-width="3.9"/>
<rect x="1560.57" y="1097.9" width="25" height="3.9" fill="#00c000"/>
<path d="M1620.87 1353.45V1349.54H1640.87V1353.45" fill="none" stroke="#ff0000" stroke-width="3.9"/>
<path d="M1655.92 1353.45V1298.6H1675.02V1353.45" fill="none" stroke="#00c000" stroke-width="3.9"/>
<rect x="1652.97" y="1296.65" width="25" height="3.9" fill="#00c000"/>
<rect x="1690.07" y="1349.58" width="20" height="3.87" fill="url(#pr)"/>
<path d="M1690.07 1353.45V1349.58H1710.07V1353.45" fill="none" stroke="#ff0000" stroke-width="3.9"/>
<rect x="1725.12" y="1096.53" width="19.1" height="256.92" fill="url(#pg)"/>
<path d="M1725.12 1353.45V1096.53H1744.22V1353.45" fill="none" stroke="#00c000" stroke-width="3.9"/>
<rect x="1722.17" y="1094.58" width="25" height="3.9" fill="#00c000"/>
<rect x="1284.25" y="1037.35" width="2.7" height="317.75" fill="#000"/>
<rect x="1272.5" y="1352.1" width="485.87" height="2.7" fill="#000"/>
<text x="1269.2" y="1360.25" text-anchor="end" font-size="19.8" textLength="10.8" lengthAdjust="spacingAndGlyphs">0</text>
<rect x="1272.5" y="1289.47" width="13.1" height="1.9" fill="#000"/>
<text x="1269.2" y="1297.22" text-anchor="end" font-size="19.8" textLength="43.2" lengthAdjust="spacingAndGlyphs">2000</text>
<rect x="1272.5" y="1226.44" width="13.1" height="1.9" fill="#000"/>
<text x="1269.2" y="1234.19" text-anchor="end" font-size="19.8" textLength="43.2" lengthAdjust="spacingAndGlyphs">4000</text>
<rect x="1272.5" y="1163.41" width="13.1" height="1.9" fill="#000"/>
<text x="1269.2" y="1171.16" text-anchor="end" font-size="19.8" textLength="43.2" lengthAdjust="spacingAndGlyphs">6000</text>
<rect x="1272.5" y="1100.38" width="13.1" height="1.9" fill="#000"/>
<text x="1269.2" y="1108.13" text-anchor="end" font-size="19.8" textLength="43.2" lengthAdjust="spacingAndGlyphs">8000</text>
<rect x="1272.5" y="1037.35" width="13.1" height="1.9" fill="#000"/>
<text x="1269.2" y="1045.1" text-anchor="end" font-size="19.8" textLength="54" lengthAdjust="spacingAndGlyphs">10000</text>
<path d="M1307.67 1099.57V1136.19" stroke="#ff0000" stroke-width="2.2" fill="none"/>
<circle cx="1307.67" cy="1099.57" r="6" fill="#ff0000"/>
<circle cx="1307.67" cy="1136.19" r="6" fill="#ff0000"/>
<polygon points="1336.24,1088.48 1338.36,1092.26 1342.61,1093.1 1339.66,1096.29 1340.18,1100.6 1336.24,1098.78 1332.3,1100.6 1332.82,1096.29 1329.87,1093.1 1334.12,1092.26" fill="#00c000"/>
<polygon points="1348.89,1088.48 1351.01,1092.26 1355.26,1093.1 1352.31,1096.29 1352.83,1100.6 1348.89,1098.78 1344.95,1100.6 1345.47,1096.29 1342.52,1093.1 1346.77,1092.26" fill="#00c000"/>
<path d="M1376.87 1144.51V1202.1" stroke="#ff0000" stroke-width="2.2" fill="none"/>
<circle cx="1376.87" cy="1144.51" r="4.45" fill="none" stroke="#ff0000" stroke-width="4.2"/>
<circle cx="1376.87" cy="1202.1" r="4.45" fill="none" stroke="#ff0000" stroke-width="4.2"/>
<path d="M1411.47 1095.57V1102.23M1405.47 1095.57h12M1405.47 1102.23h12" stroke="#00c000" stroke-width="2.2" fill="none"/>
<path d="M1403.65 1095.93L1408.65 1095.93L1412.45 1100.43L1413.15 1105.43L1412.45 1108.13L1399.85 1108.13L1399.15 1105.43L1399.85 1100.43ZM1405.3 1103.03h1.7v1.7h-1.7Z" fill="#00c000" fill-rule="evenodd"/>
<path d="M1416.3 1089.27L1421.3 1089.27L1425.1 1093.77L1425.8 1098.77L1425.1 1101.47L1412.5 1101.47L1411.8 1098.77L1412.5 1093.77ZM1417.95 1096.37h1.7v1.7h-1.7Z" fill="#00c000" fill-rule="evenodd"/>
<path d="M1469.27 1205.1V1282" stroke="#ff0000" stroke-width="2.2" fill="none"/>
<circle cx="1469.27" cy="1205.1" r="6" fill="#ff0000"/>
<circle cx="1469.27" cy="1282" r="6" fill="#ff0000"/>
<path d="M1503.87 1120.21V1162.82" stroke="#00c000" stroke-width="2.2" fill="none"/>
<polygon points="1503.87,1114.11 1505.99,1117.9 1510.24,1118.74 1507.29,1121.92 1507.81,1126.23 1503.87,1124.41 1499.93,1126.23 1500.45,1121.92 1497.5,1118.74 1501.75,1117.9" fill="#00c000"/>
<polygon points="1503.87,1156.72 1505.99,1160.51 1510.24,1161.35 1507.29,1164.53 1507.81,1168.84 1503.87,1167.02 1499.93,1168.84 1500.45,1164.53 1497.5,1161.35 1501.75,1160.51" fill="#00c000"/>
<path d="M1538.47 1212.09V1274.35" stroke="#ff0000" stroke-width="2.2" fill="none"/>
<circle cx="1538.47" cy="1212.09" r="4.45" fill="none" stroke="#ff0000" stroke-width="4.2"/>
<circle cx="1538.47" cy="1274.35" r="4.45" fill="none" stroke="#ff0000" stroke-width="4.2"/>
<path d="M1573.07 1095.57V1102.23M1567.07 1095.57h12M1567.07 1102.23h12" stroke="#00c000" stroke-width="2.2" fill="none"/>
<path d="M1565.11 1095.93L1570.11 1095.93L1573.91 1100.43L1574.61 1105.43L1573.91 1108.13L1561.31 1108.13L1560.61 1105.43L1561.31 1100.43ZM1566.76 1103.03h1.7v1.7h-1.7Z" fill="#00c000" fill-rule="evenodd"/>
<path d="M1577.43 1089.27L1582.43 1089.27L1586.23 1093.77L1586.93 1098.77L1586.23 1101.47L1573.63 1101.47L1572.93 1098.77L1573.63 1093.77ZM1579.08 1096.37h1.7v1.7h-1.7Z" fill="#00c000" fill-rule="evenodd"/>
<path d="M1630.87 1343.26V1351.91" stroke="#ff0000" stroke-width="2.2" fill="none"/>
<circle cx="1630.87" cy="1343.26" r="6" fill="#ff0000"/>
<circle cx="1630.87" cy="1351.91" r="6" fill="#ff0000"/>
<path d="M1665.47 1255.37V1339.26" stroke="#00c000" stroke-width="2.2" fill="none"/>
<polygon points="1665.47,1249.27 1667.59,1253.06 1671.84,1253.9 1668.89,1257.08 1669.41,1261.39 1665.47,1259.57 1661.53,1261.39 1662.05,1257.08 1659.1,1253.9 1663.35,1253.06" fill="#00c000"/>
<polygon points="1665.47,1333.16 1667.59,1336.95 1671.84,1337.79 1668.89,1340.98 1669.41,1345.28 1665.47,1343.46 1661.53,1345.28 1662.05,1340.98 1659.1,1337.79 1663.35,1336.95" fill="#00c000"/>
<path d="M1700.07 1345.92V1353.24M1694.07 1345.92h12M1694.07 1353.24h12" stroke="#ff0000" stroke-width="2.2" fill="none"/>
<circle cx="1693.45" cy="1353.24" r="4.45" fill="none" stroke="#ff0000" stroke-width="4.2"/>
<circle cx="1707.43" cy="1345.92" r="4.45" fill="none" stroke="#ff0000" stroke-width="4.2"/>
<path d="M1734.67 1093.58V1096.91M1728.67 1093.58h12M1728.67 1096.91h12" stroke="#00c000" stroke-width="2.2" fill="none"/>
<path d="M1726.57 1090.61L1731.57 1090.61L1735.37 1095.11L1736.07 1100.11L1735.37 1102.81L1722.77 1102.81L1722.07 1100.11L1722.77 1095.11ZM1728.22 1097.71h1.7v1.7h-1.7Z" fill="#00c000" fill-rule="evenodd"/>
<path d="M1739.89 1087.28L1744.89 1087.28L1748.69 1091.78L1749.39 1096.78L1748.69 1099.48L1736.09 1099.48L1735.39 1096.78L1736.09 1091.78ZM1741.54 1094.38h1.7v1.7h-1.7Z" fill="#00c000" fill-rule="evenodd"/>
<rect x="1358.22" y="1353.45" width="1.9" height="13.4" fill="#000"/>
<text x="1359.17" y="1386.05" text-anchor="middle" font-size="19.8" textLength="10.8" lengthAdjust="spacingAndGlyphs">3</text>
<rect x="1519.72" y="1353.45" width="1.9" height="13.4" fill="#000"/>
<text x="1520.67" y="1386.05" text-anchor="middle" font-size="19.8" textLength="10.8" lengthAdjust="spacingAndGlyphs">6</text>
<rect x="1681.22" y="1353.45" width="1.9" height="13.4" fill="#000"/>
<text x="1682.17" y="1386.05" text-anchor="middle" font-size="19.8" textLength="21.6" lengthAdjust="spacingAndGlyphs">13</text>
<text x="1520.97" y="1419.45" text-anchor="middle" font-size="21.7" textLength="272" lengthAdjust="spacing">Days after start of co-culture</text>
<text transform="translate(1199.7 1198.08) rotate(-90) scale(1 1.08)" text-anchor="middle" font-size="22.45" textLength="223.4" lengthAdjust="spacing">Concentration (pg/mL)</text></g>
<g><text x="347.8" y="1513.3" text-anchor="middle" font-size="38.6" font-weight="bold" textLength="80.5" lengthAdjust="spacingAndGlyphs">IL-15</text>
<path d="M126 1852.06V1623.82H146V1852.06" fill="none" stroke="#ff0000" stroke-width="3.9"/>
<path d="M161.05 1852.06V1617.16H180.15V1852.06" fill="none" stroke="#00c000" stroke-width="3.9"/>
<rect x="158.1" y="1615.21" width="25" height="3.9" fill="#00c000"/>
<rect x="195.2" y="1658.78" width="20" height="193.28" fill="url(#pr)"/>
<path d="M195.2 1852.06V1658.78H215.2V1852.06" fill="none" stroke="#ff0000" stroke-width="3.9"/>
<rect x="230.25" y="1612.17" width="19.1" height="239.89" fill="url(#pg)"/>
<path d="M230.25 1852.06V1612.17H249.35V1852.06" fill="none" stroke="#00c000" stroke-width="3.9"/>
<rect x="227.3" y="1610.22" width="25" height="3.9" fill="#00c000"/>
<path d="M287.6 1852.06V1678.75H307.6V1852.06" fill="none" stroke="#ff0000" stroke-width="3.9"/>
<path d="M322.65 1852.06V1673.09H341.75V1852.06" fill="none" stroke="#00c000" stroke-width="3.9"/>
<rect x="319.7" y="1671.14" width="25" height="3.9" fill="#00c000"/>
<rect x="356.8" y="1678.75" width="20" height="173.31" fill="url(#pr)"/>
<path d="M356.8 1852.06V1678.75H376.8V1852.06" fill="none" stroke="#ff0000" stroke-width="3.9"/>
<rect x="391.85" y="1640.47" width="19.1" height="211.59" fill="url(#pg)"/>
<path d="M391.85 1852.06V1640.47H410.95V1852.06" fill="none" stroke="#00c000" stroke-width="3.9"/>
<rect x="388.9" y="1638.52" width="25" height="3.9" fill="#00c000"/>
<path d="M449.2 1852.06V1767.97H469.2V1852.06" fill="none" stroke="#ff0000" stroke-width="3.9"/>
<path d="M484.25 1852.06V1728.02H503.35V1852.06" fill="none" stroke="#00c000" stroke-width="3.9"/>
<rect x="481.3" y="1726.07" width="25" height="3.9" fill="#00c000"/>
<rect x="518.4" y="1780.96" width="20" height="71.1" fill="url(#pr)"/>
<path d="M518.4 1852.06V1780.96H538.4V1852.06" fill="none" stroke="#ff0000" stroke-width="3.9"/>
<rect x="553.45" y="1663.11" width="19.1" height="188.95" fill="url(#pg)"/>
<path d="M553.45 1852.06V1663.11H572.55V1852.06" fill="none" stroke="#00c000" stroke-width="3.9"/>
<rect x="550.5" y="1661.16" width="25" height="3.9" fill="#00c000"/>
<rect x="111.15" y="1536.25" width="2.7" height="317.06" fill="#000"/>
<rect x="99.4" y="1851.11" width="487.3" height="1.9" fill="#000"/>
<text x="96.1" y="1858.86" text-anchor="end" font-size="19.8" textLength="10.8" lengthAdjust="spacingAndGlyphs">0</text>
<rect x="99.4" y="1772.02" width="13.1" height="2.9" fill="#000"/>
<text x="96.1" y="1780.27" text-anchor="end" font-size="19.8" textLength="21.6" lengthAdjust="spacingAndGlyphs">50</text>
<rect x="99.4" y="1693.43" width="13.1" height="2.9" fill="#000"/>
<text x="96.1" y="1701.68" text-anchor="end" font-size="19.8" textLength="32.4" lengthAdjust="spacingAndGlyphs">100</text>
<rect x="99.4" y="1614.84" width="13.1" height="2.9" fill="#000"/>
<text x="96.1" y="1623.09" text-anchor="end" font-size="19.8" textLength="32.4" lengthAdjust="spacingAndGlyphs">150</text>
<rect x="99.4" y="1536.25" width="13.1" height="2.9" fill="#000"/>
<text x="96.1" y="1544.5" text-anchor="end" font-size="19.8" textLength="32.4" lengthAdjust="spacingAndGlyphs">200</text>
<path d="M136 1616.88V1629.2" stroke="#ff0000" stroke-width="2.2" fill="none"/>
<circle cx="136" cy="1616.88" r="6" fill="#ff0000"/>
<circle cx="136" cy="1629.2" r="6" fill="#ff0000"/>
<polygon points="164.9,1609.78 167.01,1613.57 171.27,1614.41 168.32,1617.59 168.84,1621.9 164.9,1620.08 160.96,1621.9 161.47,1617.59 158.53,1614.41 162.78,1613.57" fill="#00c000"/>
<polygon points="176.55,1609.11 178.67,1612.9 182.92,1613.74 179.97,1616.93 180.49,1621.23 176.55,1619.41 172.61,1621.23 173.13,1616.93 170.18,1613.74 174.43,1612.9" fill="#00c000"/>
<path d="M205.2 1642.51V1672.47" stroke="#ff0000" stroke-width="2.2" fill="none"/>
<circle cx="205.2" cy="1642.51" r="4.45" fill="none" stroke="#ff0000" stroke-width="4.2"/>
<circle cx="205.2" cy="1672.47" r="4.45" fill="none" stroke="#ff0000" stroke-width="4.2"/>
<path d="M239.8 1603.56V1618.54" stroke="#00c000" stroke-width="2.2" fill="none"/>
<path d="M237.3 1597.26L242.3 1597.26L246.1 1601.76L246.8 1606.76L246.1 1609.46L233.5 1609.46L232.8 1606.76L233.5 1601.76ZM238.95 1604.36h1.7v1.7h-1.7Z" fill="#00c000" fill-rule="evenodd"/>
<path d="M237.3 1612.24L242.3 1612.24L246.1 1616.74L246.8 1621.74L246.1 1624.44L233.5 1624.44L232.8 1621.74L233.5 1616.74ZM238.95 1619.34h1.7v1.7h-1.7Z" fill="#00c000" fill-rule="evenodd"/>
<path d="M297.6 1667.81V1686.79" stroke="#ff0000" stroke-width="2.2" fill="none"/>
<circle cx="297.6" cy="1667.81" r="6" fill="#ff0000"/>
<circle cx="297.6" cy="1686.79" r="6" fill="#ff0000"/>
<path d="M332.2 1661.16V1683.46" stroke="#00c000" stroke-width="2.2" fill="none"/>
<polygon points="332.2,1655.06 334.32,1658.84 338.57,1659.69 335.62,1662.87 336.14,1667.18 332.2,1665.36 328.26,1667.18 328.78,1662.87 325.83,1659.69 330.08,1658.84" fill="#00c000"/>
<polygon points="332.2,1677.36 334.32,1681.15 338.57,1681.99 335.62,1685.17 336.14,1689.48 332.2,1687.66 328.26,1689.48 328.78,1685.17 325.83,1681.99 330.08,1681.15" fill="#00c000"/>
<path d="M366.8 1667.81V1686.79" stroke="#ff0000" stroke-width="2.2" fill="none"/>
<circle cx="366.8" cy="1667.81" r="4.45" fill="none" stroke="#ff0000" stroke-width="4.2"/>
<circle cx="366.8" cy="1686.79" r="4.45" fill="none" stroke="#ff0000" stroke-width="4.2"/>
<path d="M401.4 1636.19V1640.18M395.4 1636.19h12M395.4 1640.18h12" stroke="#00c000" stroke-width="2.2" fill="none"/>
<path d="M392.1 1633.88L397.1 1633.88L400.9 1638.38L401.6 1643.38L400.9 1646.08L388.3 1646.08L387.6 1643.38L388.3 1638.38ZM393.75 1640.98h1.7v1.7h-1.7Z" fill="#00c000" fill-rule="evenodd"/>
<path d="M404.42 1629.89L409.42 1629.89L413.22 1634.39L413.92 1639.39L413.22 1642.09L400.62 1642.09L399.92 1639.39L400.62 1634.39ZM406.07 1636.99h1.7v1.7h-1.7Z" fill="#00c000" fill-rule="evenodd"/>
<path d="M459.2 1757.37V1776.67" stroke="#ff0000" stroke-width="2.2" fill="none"/>
<circle cx="459.2" cy="1757.37" r="6" fill="#ff0000"/>
<circle cx="459.2" cy="1776.67" r="6" fill="#ff0000"/>
<path d="M493.8 1708.43V1746.71" stroke="#00c000" stroke-width="2.2" fill="none"/>
<polygon points="493.8,1702.33 495.92,1706.12 500.17,1706.96 497.22,1710.14 497.74,1714.45 493.8,1712.63 489.86,1714.45 490.38,1710.14 487.43,1706.96 491.68,1706.12" fill="#00c000"/>
<polygon points="493.8,1740.61 495.92,1744.4 500.17,1745.24 497.22,1748.43 497.74,1752.73 493.8,1750.91 489.86,1752.73 490.38,1748.43 487.43,1745.24 491.68,1744.4" fill="#00c000"/>
<path d="M528.4 1757.7V1800.98" stroke="#ff0000" stroke-width="2.2" fill="none"/>
<circle cx="528.4" cy="1757.7" r="4.45" fill="none" stroke="#ff0000" stroke-width="4.2"/>
<circle cx="528.4" cy="1800.98" r="4.45" fill="none" stroke="#ff0000" stroke-width="4.2"/>
<path d="M563 1655.83V1663.49M557 1655.83h12M557 1663.49h12" stroke="#00c000" stroke-width="2.2" fill="none"/>
<path d="M552.9 1657.19L557.9 1657.19L561.7 1661.69L562.4 1666.69L561.7 1669.39L549.1 1669.39L548.4 1666.69L549.1 1661.69ZM554.55 1664.29h1.7v1.7h-1.7Z" fill="#00c000" fill-rule="evenodd"/>
<path d="M565.88 1649.53L570.88 1649.53L574.68 1654.03L575.38 1659.03L574.68 1661.73L562.08 1661.73L561.38 1659.03L562.08 1654.03ZM567.53 1656.63h1.7v1.7h-1.7Z" fill="#00c000" fill-rule="evenodd"/>
<rect x="186.05" y="1852.06" width="2.9" height="13.4" fill="#000"/>
<text x="187.5" y="1884.66" text-anchor="middle" font-size="19.8" textLength="10.8" lengthAdjust="spacingAndGlyphs">3</text>
<rect x="347.55" y="1852.06" width="2.9" height="13.4" fill="#000"/>
<text x="349" y="1884.66" text-anchor="middle" font-size="19.8" textLength="10.8" lengthAdjust="spacingAndGlyphs">6</text>
<rect x="509.05" y="1852.06" width="2.9" height="13.4" fill="#000"/>
<text x="510.5" y="1884.66" text-anchor="middle" font-size="19.8" textLength="21.6" lengthAdjust="spacingAndGlyphs">13</text>
<text x="349.3" y="1918.06" text-anchor="middle" font-size="21.7" textLength="272" lengthAdjust="spacing">Days after start of co-culture</text>
<text transform="translate(50 1697.08) rotate(-90) scale(1 1.08)" text-anchor="middle" font-size="22.45" textLength="223.4" lengthAdjust="spacing">Concentration (pg/mL)</text></g>
<g><text x="939" y="1513.3" text-anchor="middle" font-size="38.6" font-weight="bold" textLength="79" lengthAdjust="spacingAndGlyphs">IL-17</text>
<path d="M721 1852.06V1765.31H741V1852.06" fill="none" stroke="#ff0000" stroke-width="3.9"/>
<path d="M756.05 1852.06V1801.93H775.15V1852.06" fill="none" stroke="#00c000" stroke-width="3.9"/>
<rect x="753.1" y="1799.98" width="25" height="3.9" fill="#00c000"/>
<rect x="790.2" y="1786.28" width="20" height="65.78" fill="url(#pr)"/>
<path d="M790.2 1852.06V1786.28H810.2V1852.06" fill="none" stroke="#ff0000" stroke-width="3.9"/>
<rect x="825.25" y="1802.93" width="19.1" height="49.13" fill="url(#pg)"/>
<path d="M825.25 1852.06V1802.93H844.35V1852.06" fill="none" stroke="#00c000" stroke-width="3.9"/>
<rect x="822.3" y="1800.98" width="25" height="3.9" fill="#00c000"/>
<path d="M882.6 1852.06V1685.41H902.6V1852.06" fill="none" stroke="#ff0000" stroke-width="3.9"/>
<path d="M917.65 1852.06V1822.9H936.75V1852.06" fill="none" stroke="#00c000" stroke-width="3.9"/>
<rect x="914.7" y="1820.95" width="25" height="3.9" fill="#00c000"/>
<rect x="951.8" y="1719.37" width="20" height="132.69" fill="url(#pr)"/>
<path d="M951.8 1852.06V1719.37H971.8V1852.06" fill="none" stroke="#ff0000" stroke-width="3.9"/>
<rect x="986.85" y="1822.9" width="19.1" height="29.16" fill="url(#pg)"/>
<path d="M986.85 1852.06V1822.9H1005.95V1852.06" fill="none" stroke="#00c000" stroke-width="3.9"/>
<rect x="983.9" y="1820.95" width="25" height="3.9" fill="#00c000"/>
<path d="M1044.2 1852.06V1831.89H1064.2V1852.06" fill="none" stroke="#ff0000" stroke-width="3.9"/>
<path d="M1079.25 1852.06V1832.89H1098.35V1852.06" fill="none" stroke="#00c000" stroke-width="3.9"/>
<rect x="1076.3" y="1830.94" width="25" height="3.9" fill="#00c000"/>
<rect x="1113.4" y="1841.09" width="20" height="10.97" fill="url(#pr)"/>
<path d="M1113.4 1852.06V1841.09H1133.4V1852.06" fill="none" stroke="#ff0000" stroke-width="3.9"/>
<rect x="1148.45" y="1825.23" width="19.1" height="26.83" fill="url(#pg)"/>
<path d="M1148.45 1852.06V1825.23H1167.55V1852.06" fill="none" stroke="#00c000" stroke-width="3.9"/>
<rect x="1145.5" y="1823.28" width="25" height="3.9" fill="#00c000"/>
<rect x="707.25" y="1536.75" width="2.7" height="316.56" fill="#000"/>
<rect x="695.5" y="1851.11" width="486.2" height="1.9" fill="#000"/>
<text x="692.2" y="1858.86" text-anchor="end" font-size="19.8" textLength="10.8" lengthAdjust="spacingAndGlyphs">0</text>
<rect x="695.5" y="1772.52" width="13.1" height="1.9" fill="#000"/>
<text x="692.2" y="1780.27" text-anchor="end" font-size="19.8" textLength="32.4" lengthAdjust="spacingAndGlyphs">100</text>
<rect x="695.5" y="1693.93" width="13.1" height="1.9" fill="#000"/>
<text x="692.2" y="1701.68" text-anchor="end" font-size="19.8" textLength="32.4" lengthAdjust="spacingAndGlyphs">200</text>
<rect x="695.5" y="1615.34" width="13.1" height="1.9" fill="#000"/>
<text x="692.2" y="1623.09" text-anchor="end" font-size="19.8" textLength="32.4" lengthAdjust="spacingAndGlyphs">300</text>
<rect x="695.5" y="1536.75" width="13.1" height="1.9" fill="#000"/>
<text x="692.2" y="1544.5" text-anchor="end" font-size="19.8" textLength="32.4" lengthAdjust="spacingAndGlyphs">400</text>
<path d="M731 1729.4V1796.98" stroke="#ff0000" stroke-width="2.2" fill="none"/>
<circle cx="731" cy="1729.4" r="6" fill="#ff0000"/>
<circle cx="731" cy="1796.98" r="6" fill="#ff0000"/>
<polygon points="759.56,1793.88 761.68,1797.67 765.93,1798.51 762.99,1801.69 763.5,1806 759.56,1804.18 755.62,1806 756.14,1801.69 753.19,1798.51 757.45,1797.67" fill="#00c000"/>
<polygon points="771.88,1793.21 774,1797 778.25,1797.84 775.3,1801.02 775.82,1805.33 771.88,1803.51 767.94,1805.33 768.46,1801.02 765.51,1797.84 769.76,1797" fill="#00c000"/>
<path d="M800.2 1755.7V1814.96" stroke="#ff0000" stroke-width="2.2" fill="none"/>
<circle cx="800.2" cy="1755.7" r="4.45" fill="none" stroke="#ff0000" stroke-width="4.2"/>
<circle cx="800.2" cy="1814.96" r="4.45" fill="none" stroke="#ff0000" stroke-width="4.2"/>
<path d="M834.8 1795.65V1806.64" stroke="#00c000" stroke-width="2.2" fill="none"/>
<path d="M832.3 1789.35L837.3 1789.35L841.1 1793.85L841.8 1798.85L841.1 1801.55L828.5 1801.55L827.8 1798.85L828.5 1793.85ZM833.95 1796.45h1.7v1.7h-1.7Z" fill="#00c000" fill-rule="evenodd"/>
<path d="M832.3 1800.34L837.3 1800.34L841.1 1804.84L841.8 1809.84L841.1 1812.54L828.5 1812.54L827.8 1809.84L828.5 1804.84ZM833.95 1807.44h1.7v1.7h-1.7Z" fill="#00c000" fill-rule="evenodd"/>
<path d="M892.6 1580.26V1787.66" stroke="#ff0000" stroke-width="2.2" fill="none"/>
<circle cx="892.6" cy="1580.26" r="6" fill="#ff0000"/>
<circle cx="892.6" cy="1787.66" r="6" fill="#ff0000"/>
<path d="M927.2 1819.95V1821.62M921.2 1819.95h12M921.2 1821.62h12" stroke="#00c000" stroke-width="2.2" fill="none"/>
<polygon points="921.02,1815.52 923.14,1819.3 927.4,1820.15 924.45,1823.33 924.96,1827.64 921.02,1825.82 917.08,1827.64 917.6,1823.33 914.65,1820.15 918.91,1819.3" fill="#00c000"/>
<polygon points="932.67,1813.85 934.79,1817.64 939.05,1818.48 936.1,1821.67 936.61,1825.97 932.67,1824.15 928.74,1825.97 929.25,1821.67 926.3,1818.48 930.56,1817.64" fill="#00c000"/>
<path d="M961.8 1667.15V1768.35" stroke="#ff0000" stroke-width="2.2" fill="none"/>
<circle cx="961.8" cy="1667.15" r="4.45" fill="none" stroke="#ff0000" stroke-width="4.2"/>
<circle cx="961.8" cy="1768.35" r="4.45" fill="none" stroke="#ff0000" stroke-width="4.2"/>
<path d="M996.4 1817.62V1821.62M990.4 1817.62h12M990.4 1821.62h12" stroke="#00c000" stroke-width="2.2" fill="none"/>
<path d="M986.77 1815.32L991.77 1815.32L995.57 1819.82L996.27 1824.82L995.57 1827.52L982.97 1827.52L982.27 1824.82L982.97 1819.82ZM988.42 1822.42h1.7v1.7h-1.7Z" fill="#00c000" fill-rule="evenodd"/>
<path d="M1000.09 1811.32L1005.09 1811.32L1008.89 1815.82L1009.59 1820.82L1008.89 1823.52L996.29 1823.52L995.59 1820.82L996.29 1815.82ZM1001.74 1818.42h1.7v1.7h-1.7Z" fill="#00c000" fill-rule="evenodd"/>
<path d="M1054.2 1829.94V1832.27M1048.2 1829.94h12M1048.2 1832.27h12" stroke="#ff0000" stroke-width="2.2" fill="none"/>
<circle cx="1046.86" cy="1832.27" r="6" fill="#ff0000"/>
<circle cx="1060.18" cy="1829.94" r="6" fill="#ff0000"/>
<path d="M1088.8 1828.94V1834.93M1082.8 1828.94h12M1082.8 1834.93h12" stroke="#00c000" stroke-width="2.2" fill="none"/>
<polygon points="1081.82,1828.83 1083.93,1832.62 1088.19,1833.46 1085.24,1836.65 1085.76,1840.95 1081.82,1839.13 1077.88,1840.95 1078.39,1836.65 1075.45,1833.46 1079.7,1832.62" fill="#00c000"/>
<polygon points="1094.14,1822.84 1096.25,1826.63 1100.51,1827.47 1097.56,1830.65 1098.07,1834.96 1094.14,1833.14 1090.2,1834.96 1090.71,1830.65 1087.76,1827.47 1092.02,1826.63" fill="#00c000"/>
<path d="M1123.4 1837.26V1844.92M1117.4 1837.26h12M1117.4 1844.92h12" stroke="#ff0000" stroke-width="2.2" fill="none"/>
<circle cx="1115.11" cy="1844.92" r="4.45" fill="none" stroke="#ff0000" stroke-width="4.2"/>
<circle cx="1129.09" cy="1837.26" r="4.45" fill="none" stroke="#ff0000" stroke-width="4.2"/>
<path d="M1158 1820.62V1826.61M1152 1820.62h12M1152 1826.61h12" stroke="#00c000" stroke-width="2.2" fill="none"/>
<path d="M1148.23 1820.31L1153.23 1820.31L1157.03 1824.81L1157.73 1829.81L1157.03 1832.51L1144.43 1832.51L1143.73 1829.81L1144.43 1824.81ZM1149.88 1827.41h1.7v1.7h-1.7Z" fill="#00c000" fill-rule="evenodd"/>
<path d="M1161.55 1814.32L1166.55 1814.32L1170.35 1818.82L1171.05 1823.82L1170.35 1826.52L1157.75 1826.52L1157.05 1823.82L1157.75 1818.82ZM1163.2 1821.42h1.7v1.7h-1.7Z" fill="#00c000" fill-rule="evenodd"/>
<rect x="781.55" y="1852.06" width="1.9" height="13.4" fill="#000"/>
<text x="782.5" y="1884.66" text-anchor="middle" font-size="19.8" textLength="10.8" lengthAdjust="spacingAndGlyphs">3</text>
<rect x="943.05" y="1852.06" width="1.9" height="13.4" fill="#000"/>
<text x="944" y="1884.66" text-anchor="middle" font-size="19.8" textLength="10.8" lengthAdjust="spacingAndGlyphs">6</text>
<rect x="1104.55" y="1852.06" width="1.9" height="13.4" fill="#000"/>
<text x="1105.5" y="1884.66" text-anchor="middle" font-size="19.8" textLength="21.6" lengthAdjust="spacingAndGlyphs">13</text>
<text x="944.3" y="1918.06" text-anchor="middle" font-size="21.7" textLength="272" lengthAdjust="spacing">Days after start of co-culture</text>
<text transform="translate(645 1697.08) rotate(-90) scale(1 1.08)" text-anchor="middle" font-size="22.45" textLength="223.4" lengthAdjust="spacing">Concentration (pg/mL)</text></g>
<g><text x="1516.25" y="1513.3" text-anchor="middle" font-size="38.6" font-weight="bold" textLength="88.5" lengthAdjust="spacingAndGlyphs">IP-10</text>
<path d="M1315 1852.06V1642.13H1335V1852.06" fill="none" stroke="#ff0000" stroke-width="3.9"/>
<path d="M1350.05 1852.06V1696.06H1369.15V1852.06" fill="none" stroke="#00c000" stroke-width="3.9"/>
<rect x="1347.1" y="1694.11" width="25" height="3.9" fill="#00c000"/>
<rect x="1384.2" y="1765.31" width="20" height="86.75" fill="url(#pr)"/>
<path d="M1384.2 1852.06V1765.31H1404.2V1852.06" fill="none" stroke="#ff0000" stroke-width="3.9"/>
<rect x="1419.25" y="1695.06" width="19.1" height="157" fill="url(#pg)"/>
<path d="M1419.25 1852.06V1695.06H1438.35V1852.06" fill="none" stroke="#00c000" stroke-width="3.9"/>
<rect x="1416.3" y="1693.11" width="25" height="3.9" fill="#00c000"/>
<path d="M1476.6 1852.06V1833.55H1496.6V1852.06" fill="none" stroke="#ff0000" stroke-width="3.9"/>
<path d="M1511.65 1852.06V1799.27H1530.75V1852.06" fill="none" stroke="#00c000" stroke-width="3.9"/>
<rect x="1508.7" y="1797.32" width="25" height="3.9" fill="#00c000"/>
<rect x="1545.8" y="1840.76" width="20" height="11.3" fill="url(#pr)"/>
<path d="M1545.8 1852.06V1840.76H1565.8V1852.06" fill="none" stroke="#ff0000" stroke-width="3.9"/>
<rect x="1580.85" y="1788.61" width="19.1" height="63.45" fill="url(#pg)"/>
<path d="M1580.85 1852.06V1788.61H1599.95V1852.06" fill="none" stroke="#00c000" stroke-width="3.9"/>
<rect x="1577.9" y="1786.66" width="25" height="3.9" fill="#00c000"/>
<path d="M1638.2 1852.06V1850.75H1658.2V1852.06" fill="none" stroke="#ff0000" stroke-width="3.9"/>
<path d="M1673.25 1852.06V1847.75H1692.35V1852.06" fill="none" stroke="#00c000" stroke-width="3.9"/>
<rect x="1670.3" y="1845.8" width="25" height="3.9" fill="#00c000"/>
<rect x="1707.4" y="1851.25" width="20" height="0.81" fill="url(#pr)"/>
<path d="M1707.4 1852.06V1851.25H1727.4V1852.06" fill="none" stroke="#ff0000" stroke-width="3.9"/>
<rect x="1742.45" y="1836.88" width="19.1" height="15.18" fill="url(#pg)"/>
<path d="M1742.45 1852.06V1836.88H1761.55V1852.06" fill="none" stroke="#00c000" stroke-width="3.9"/>
<rect x="1739.5" y="1834.93" width="25" height="3.9" fill="#00c000"/>
<rect x="1301.2" y="1536.75" width="1.8" height="316.56" fill="#000"/>
<rect x="1289" y="1851.11" width="486.7" height="1.9" fill="#000"/>
<text x="1285.7" y="1858.86" text-anchor="end" font-size="19.8" textLength="10.8" lengthAdjust="spacingAndGlyphs">0</text>
<rect x="1289" y="1788.24" width="13.1" height="1.9" fill="#000"/>
<text x="1285.7" y="1795.99" text-anchor="end" font-size="19.8" textLength="43.2" lengthAdjust="spacingAndGlyphs">1000</text>
<rect x="1289" y="1725.37" width="13.1" height="1.9" fill="#000"/>
<text x="1285.7" y="1733.12" text-anchor="end" font-size="19.8" textLength="43.2" lengthAdjust="spacingAndGlyphs">2000</text>
<rect x="1289" y="1662.49" width="13.1" height="1.9" fill="#000"/>
<text x="1285.7" y="1670.24" text-anchor="end" font-size="19.8" textLength="43.2" lengthAdjust="spacingAndGlyphs">3000</text>
<rect x="1289" y="1599.62" width="13.1" height="1.9" fill="#000"/>
<text x="1285.7" y="1607.37" text-anchor="end" font-size="19.8" textLength="43.2" lengthAdjust="spacingAndGlyphs">4000</text>
<rect x="1289" y="1536.75" width="13.1" height="1.9" fill="#000"/>
<text x="1285.7" y="1544.5" text-anchor="end" font-size="19.8" textLength="43.2" lengthAdjust="spacingAndGlyphs">5000</text>
<path d="M1325 1584.25V1697.44" stroke="#ff0000" stroke-width="2.2" fill="none"/>
<circle cx="1325" cy="1584.25" r="6" fill="#ff0000"/>
<circle cx="1325" cy="1697.44" r="6" fill="#ff0000"/>
<path d="M1359.6 1685.12V1705.1" stroke="#00c000" stroke-width="2.2" fill="none"/>
<polygon points="1359.6,1679.02 1361.72,1682.81 1365.97,1683.65 1363.02,1686.84 1363.54,1691.15 1359.6,1689.32 1355.66,1691.15 1356.18,1686.84 1353.23,1683.65 1357.48,1682.81" fill="#00c000"/>
<polygon points="1359.6,1699 1361.72,1702.79 1365.97,1703.63 1363.02,1706.81 1363.54,1711.12 1359.6,1709.3 1355.66,1711.12 1356.18,1706.81 1353.23,1703.63 1357.48,1702.79" fill="#00c000"/>
<path d="M1394.2 1735.73V1790.99" stroke="#ff0000" stroke-width="2.2" fill="none"/>
<circle cx="1394.2" cy="1735.73" r="4.45" fill="none" stroke="#ff0000" stroke-width="4.2"/>
<circle cx="1394.2" cy="1790.99" r="4.45" fill="none" stroke="#ff0000" stroke-width="4.2"/>
<path d="M1428.8 1687.79V1700.11" stroke="#00c000" stroke-width="2.2" fill="none"/>
<path d="M1426.3 1681.49L1431.3 1681.49L1435.1 1685.99L1435.8 1690.99L1435.1 1693.69L1422.5 1693.69L1421.8 1690.99L1422.5 1685.99ZM1427.95 1688.59h1.7v1.7h-1.7Z" fill="#00c000" fill-rule="evenodd"/>
<path d="M1426.3 1693.81L1431.3 1693.81L1435.1 1698.31L1435.8 1703.31L1435.1 1706.01L1422.5 1706.01L1421.8 1703.31L1422.5 1698.31ZM1427.95 1700.91h1.7v1.7h-1.7Z" fill="#00c000" fill-rule="evenodd"/>
<path d="M1486.6 1824.28V1839.93" stroke="#ff0000" stroke-width="2.2" fill="none"/>
<circle cx="1486.6" cy="1824.28" r="6" fill="#ff0000"/>
<circle cx="1486.6" cy="1839.93" r="6" fill="#ff0000"/>
<path d="M1521.2 1784.33V1813.96" stroke="#00c000" stroke-width="2.2" fill="none"/>
<polygon points="1521.2,1778.23 1523.32,1782.02 1527.57,1782.86 1524.62,1786.04 1525.14,1790.35 1521.2,1788.53 1517.26,1790.35 1517.78,1786.04 1514.83,1782.86 1519.08,1782.02" fill="#00c000"/>
<polygon points="1521.2,1807.86 1523.32,1811.65 1527.57,1812.49 1524.62,1815.67 1525.14,1819.98 1521.2,1818.16 1517.26,1819.98 1517.78,1815.67 1514.83,1812.49 1519.08,1811.65" fill="#00c000"/>
<path d="M1555.8 1837.26V1844.26M1549.8 1837.26h12M1549.8 1844.26h12" stroke="#ff0000" stroke-width="2.2" fill="none"/>
<circle cx="1548.98" cy="1844.26" r="4.45" fill="none" stroke="#ff0000" stroke-width="4.2"/>
<circle cx="1562.3" cy="1837.26" r="4.45" fill="none" stroke="#ff0000" stroke-width="4.2"/>
<path d="M1590.4 1783.33V1788.33M1584.4 1783.33h12M1584.4 1788.33h12" stroke="#00c000" stroke-width="2.2" fill="none"/>
<path d="M1582.43 1782.03L1587.43 1782.03L1591.23 1786.53L1591.93 1791.53L1591.23 1794.23L1578.63 1794.23L1577.93 1791.53L1578.63 1786.53ZM1584.08 1789.13h1.7v1.7h-1.7Z" fill="#00c000" fill-rule="evenodd"/>
<path d="M1594.75 1777.03L1599.75 1777.03L1603.55 1781.53L1604.25 1786.53L1603.55 1789.23L1590.95 1789.23L1590.25 1786.53L1590.95 1781.53ZM1596.4 1784.13h1.7v1.7h-1.7Z" fill="#00c000" fill-rule="evenodd"/>
<circle cx="1641.53" cy="1850.91" r="6" fill="#ff0000"/>
<circle cx="1654.84" cy="1850.58" r="6" fill="#ff0000"/>
<path d="M1682.8 1845.59V1849.91M1676.8 1845.59h12M1676.8 1849.91h12" stroke="#00c000" stroke-width="2.2" fill="none"/>
<polygon points="1676.48,1843.81 1678.6,1847.6 1682.86,1848.44 1679.91,1851.63 1680.42,1855.93 1676.48,1854.11 1672.55,1855.93 1673.06,1851.63 1670.11,1848.44 1674.37,1847.6" fill="#00c000"/>
<polygon points="1688.14,1839.49 1690.25,1843.27 1694.51,1844.12 1691.56,1847.3 1692.07,1851.61 1688.14,1849.79 1684.2,1851.61 1684.71,1847.3 1681.76,1844.12 1686.02,1843.27" fill="#00c000"/>
<circle cx="1710.77" cy="1851.58" r="4.45" fill="none" stroke="#ff0000" stroke-width="4.2"/>
<circle cx="1724.76" cy="1850.91" r="4.45" fill="none" stroke="#ff0000" stroke-width="4.2"/>
<path d="M1752 1832.27V1839.93M1746 1832.27h12M1746 1839.93h12" stroke="#00c000" stroke-width="2.2" fill="none"/>
<path d="M1743.89 1833.63L1748.89 1833.63L1752.69 1838.13L1753.39 1843.13L1752.69 1845.83L1740.09 1845.83L1739.39 1843.13L1740.09 1838.13ZM1745.54 1840.73h1.7v1.7h-1.7Z" fill="#00c000" fill-rule="evenodd"/>
<path d="M1756.21 1825.97L1761.21 1825.97L1765.01 1830.47L1765.71 1835.47L1765.01 1838.17L1752.41 1838.17L1751.71 1835.47L1752.41 1830.47ZM1757.86 1833.07h1.7v1.7h-1.7Z" fill="#00c000" fill-rule="evenodd"/>
<rect x="1375.55" y="1852.06" width="1.9" height="13.4" fill="#000"/>
<text x="1376.5" y="1884.66" text-anchor="middle" font-size="19.8" textLength="10.8" lengthAdjust="spacingAndGlyphs">3</text>
<rect x="1537.05" y="1852.06" width="1.9" height="13.4" fill="#000"/>
<text x="1538" y="1884.66" text-anchor="middle" font-size="19.8" textLength="10.8" lengthAdjust="spacingAndGlyphs">6</text>
<rect x="1698.55" y="1852.06" width="1.9" height="13.4" fill="#000"/>
<text x="1699.5" y="1884.66" text-anchor="middle" font-size="19.8" textLength="21.6" lengthAdjust="spacingAndGlyphs">13</text>
<text x="1538.3" y="1918.06" text-anchor="middle" font-size="21.7" textLength="272" lengthAdjust="spacing">Days after start of co-culture</text>
<text transform="translate(1227 1697.08) rotate(-90) scale(1 1.08)" text-anchor="middle" font-size="22.45" textLength="223.4" lengthAdjust="spacing">Concentration (pg/mL)</text></g>
<g><text x="348.75" y="2005.8" text-anchor="middle" font-size="38.6" font-weight="bold" textLength="113.5" lengthAdjust="spacingAndGlyphs">MCP-1</text>
<path d="M126 2342.45V2167.75H146V2342.45" fill="none" stroke="#ff0000" stroke-width="3.9"/>
<path d="M161.05 2342.45V2128.14H180.15V2342.45" fill="none" stroke="#00c000" stroke-width="3.9"/>
<rect x="158.1" y="2126.19" width="25" height="3.9" fill="#00c000"/>
<rect x="195.2" y="2202.04" width="20" height="140.41" fill="url(#pr)"/>
<path d="M195.2 2342.45V2202.04H215.2V2342.45" fill="none" stroke="#ff0000" stroke-width="3.9"/>
<rect x="230.25" y="2058.89" width="19.1" height="283.56" fill="url(#pg)"/>
<path d="M230.25 2342.45V2058.89H249.35V2342.45" fill="none" stroke="#00c000" stroke-width="3.9"/>
<rect x="227.3" y="2056.94" width="25" height="3.9" fill="#00c000"/>
<path d="M287.6 2342.45V2246.99H307.6V2342.45" fill="none" stroke="#ff0000" stroke-width="3.9"/>
<path d="M322.65 2342.45V2250.98H341.75V2342.45" fill="none" stroke="#00c000" stroke-width="3.9"/>
<rect x="319.7" y="2249.03" width="25" height="3.9" fill="#00c000"/>
<rect x="356.8" y="2182.07" width="20" height="160.38" fill="url(#pr)"/>
<path d="M356.8 2342.45V2182.07H376.8V2342.45" fill="none" stroke="#ff0000" stroke-width="3.9"/>
<rect x="391.85" y="2147.11" width="19.1" height="195.34" fill="url(#pg)"/>
<path d="M391.85 2342.45V2147.11H410.95V2342.45" fill="none" stroke="#00c000" stroke-width="3.9"/>
<rect x="388.9" y="2145.16" width="25" height="3.9" fill="#00c000"/>
<path d="M449.2 2342.45V2311.24H469.2V2342.45" fill="none" stroke="#ff0000" stroke-width="3.9"/>
<path d="M484.25 2342.45V2316.23H503.35V2342.45" fill="none" stroke="#00c000" stroke-width="3.9"/>
<rect x="481.3" y="2314.28" width="25" height="3.9" fill="#00c000"/>
<rect x="518.4" y="2319.23" width="20" height="23.22" fill="url(#pr)"/>
<path d="M518.4 2342.45V2319.23H538.4V2342.45" fill="none" stroke="#ff0000" stroke-width="3.9"/>
<rect x="553.45" y="2255.31" width="19.1" height="87.14" fill="url(#pg)"/>
<path d="M553.45 2342.45V2255.31H572.55V2342.45" fill="none" stroke="#00c000" stroke-width="3.9"/>
<rect x="550.5" y="2253.36" width="25" height="3.9" fill="#00c000"/>
<rect x="112.25" y="2024.85" width="2.7" height="319.25" fill="#000"/>
<rect x="100.5" y="2341.1" width="486.2" height="2.7" fill="#000"/>
<text x="97.2" y="2349.25" text-anchor="end" font-size="19.8" textLength="10.8" lengthAdjust="spacingAndGlyphs">0</text>
<rect x="100.5" y="2235.62" width="13.1" height="2.9" fill="#000"/>
<text x="97.2" y="2243.87" text-anchor="end" font-size="19.8" textLength="21.6" lengthAdjust="spacingAndGlyphs">50</text>
<rect x="100.5" y="2130.23" width="13.1" height="2.9" fill="#000"/>
<text x="97.2" y="2138.48" text-anchor="end" font-size="19.8" textLength="32.4" lengthAdjust="spacingAndGlyphs">100</text>
<rect x="100.5" y="2024.85" width="13.1" height="2.9" fill="#000"/>
<text x="97.2" y="2033.1" text-anchor="end" font-size="19.8" textLength="32.4" lengthAdjust="spacingAndGlyphs">150</text>
<path d="M136 2132.85V2200.09" stroke="#ff0000" stroke-width="2.2" fill="none"/>
<circle cx="136" cy="2132.85" r="6" fill="#ff0000"/>
<circle cx="136" cy="2200.09" r="6" fill="#ff0000"/>
<path d="M170.6 2122.86V2131.18" stroke="#00c000" stroke-width="2.2" fill="none"/>
<polygon points="170.6,2116.76 172.72,2120.55 176.97,2121.39 174.02,2124.57 174.54,2128.88 170.6,2127.06 166.66,2128.88 167.18,2124.57 164.23,2121.39 168.48,2120.55" fill="#00c000"/>
<polygon points="170.6,2125.08 172.72,2128.87 176.97,2129.71 174.02,2132.89 174.54,2137.2 170.6,2135.38 166.66,2137.2 167.18,2132.89 164.23,2129.71 168.48,2128.87" fill="#00c000"/>
<path d="M205.2 2171.8V2230.72" stroke="#ff0000" stroke-width="2.2" fill="none"/>
<circle cx="205.2" cy="2171.8" r="4.45" fill="none" stroke="#ff0000" stroke-width="4.2"/>
<circle cx="205.2" cy="2230.72" r="4.45" fill="none" stroke="#ff0000" stroke-width="4.2"/>
<path d="M239.8 2053.61V2057.94M233.8 2053.61h12M233.8 2057.94h12" stroke="#00c000" stroke-width="2.2" fill="none"/>
<path d="M230.64 2051.64L235.64 2051.64L239.44 2056.14L240.14 2061.14L239.44 2063.84L226.84 2063.84L226.14 2061.14L226.84 2056.14ZM232.29 2058.74h1.7v1.7h-1.7Z" fill="#00c000" fill-rule="evenodd"/>
<path d="M244.63 2047.31L249.63 2047.31L253.43 2051.81L254.13 2056.81L253.43 2059.51L240.83 2059.51L240.13 2056.81L240.83 2051.81ZM246.28 2054.41h1.7v1.7h-1.7Z" fill="#00c000" fill-rule="evenodd"/>
<path d="M297.6 2214.41V2276.66" stroke="#ff0000" stroke-width="2.2" fill="none"/>
<circle cx="297.6" cy="2214.41" r="6" fill="#ff0000"/>
<circle cx="297.6" cy="2276.66" r="6" fill="#ff0000"/>
<path d="M332.2 2243.37V2257.69" stroke="#00c000" stroke-width="2.2" fill="none"/>
<polygon points="332.2,2237.27 334.32,2241.06 338.57,2241.9 335.62,2245.08 336.14,2249.39 332.2,2247.57 328.26,2249.39 328.78,2245.08 325.83,2241.9 330.08,2241.06" fill="#00c000"/>
<polygon points="332.2,2251.59 334.32,2255.37 338.57,2256.22 335.62,2259.4 336.14,2263.71 332.2,2261.89 328.26,2263.71 328.78,2259.4 325.83,2256.22 330.08,2255.37" fill="#00c000"/>
<path d="M366.8 2173.46V2188.44" stroke="#ff0000" stroke-width="2.2" fill="none"/>
<circle cx="366.8" cy="2173.46" r="4.45" fill="none" stroke="#ff0000" stroke-width="4.2"/>
<circle cx="366.8" cy="2188.44" r="4.45" fill="none" stroke="#ff0000" stroke-width="4.2"/>
<path d="M401.4 2126.85V2165.14" stroke="#00c000" stroke-width="2.2" fill="none"/>
<path d="M398.9 2120.55L403.9 2120.55L407.7 2125.05L408.4 2130.05L407.7 2132.75L395.1 2132.75L394.4 2130.05L395.1 2125.05ZM400.55 2127.65h1.7v1.7h-1.7Z" fill="#00c000" fill-rule="evenodd"/>
<path d="M398.9 2158.84L403.9 2158.84L407.7 2163.34L408.4 2168.34L407.7 2171.04L395.1 2171.04L394.4 2168.34L395.1 2163.34ZM400.55 2165.94h1.7v1.7h-1.7Z" fill="#00c000" fill-rule="evenodd"/>
<path d="M459.2 2303.29V2315.61" stroke="#ff0000" stroke-width="2.2" fill="none"/>
<circle cx="459.2" cy="2303.29" r="6" fill="#ff0000"/>
<circle cx="459.2" cy="2315.61" r="6" fill="#ff0000"/>
<path d="M493.8 2303.29V2326.6" stroke="#00c000" stroke-width="2.2" fill="none"/>
<polygon points="493.8,2297.19 495.92,2300.98 500.17,2301.82 497.22,2305.01 497.74,2309.32 493.8,2307.49 489.86,2309.32 490.38,2305.01 487.43,2301.82 491.68,2300.98" fill="#00c000"/>
<polygon points="493.8,2320.5 495.92,2324.29 500.17,2325.13 497.22,2328.31 497.74,2332.62 493.8,2330.8 489.86,2332.62 490.38,2328.31 487.43,2325.13 491.68,2324.29" fill="#00c000"/>
<path d="M528.4 2307.62V2325.93" stroke="#ff0000" stroke-width="2.2" fill="none"/>
<circle cx="528.4" cy="2307.62" r="4.45" fill="none" stroke="#ff0000" stroke-width="4.2"/>
<circle cx="528.4" cy="2325.93" r="4.45" fill="none" stroke="#ff0000" stroke-width="4.2"/>
<path d="M563 2245.04V2262.68" stroke="#00c000" stroke-width="2.2" fill="none"/>
<path d="M560.5 2238.74L565.5 2238.74L569.3 2243.24L570 2248.24L569.3 2250.94L556.7 2250.94L556 2248.24L556.7 2243.24ZM562.15 2245.84h1.7v1.7h-1.7Z" fill="#00c000" fill-rule="evenodd"/>
<path d="M560.5 2256.38L565.5 2256.38L569.3 2260.88L570 2265.88L569.3 2268.58L556.7 2268.58L556 2265.88L556.7 2260.88ZM562.15 2263.48h1.7v1.7h-1.7Z" fill="#00c000" fill-rule="evenodd"/>
<rect x="186.05" y="2342.45" width="2.9" height="13.4" fill="#000"/>
<text x="187.5" y="2375.05" text-anchor="middle" font-size="19.8" textLength="10.8" lengthAdjust="spacingAndGlyphs">3</text>
<rect x="347.55" y="2342.45" width="2.9" height="13.4" fill="#000"/>
<text x="349" y="2375.05" text-anchor="middle" font-size="19.8" textLength="10.8" lengthAdjust="spacingAndGlyphs">6</text>
<rect x="509.05" y="2342.45" width="2.9" height="13.4" fill="#000"/>
<text x="510.5" y="2375.05" text-anchor="middle" font-size="19.8" textLength="21.6" lengthAdjust="spacingAndGlyphs">13</text>
<text x="349.3" y="2408.45" text-anchor="middle" font-size="21.7" textLength="272" lengthAdjust="spacing">Days after start of co-culture</text>
<text transform="translate(50 2186.57) rotate(-90) scale(1 1.08)" text-anchor="middle" font-size="22.45" textLength="223.4" lengthAdjust="spacing">Concentration (pg/mL)</text></g>
<g><text x="940" y="2005.8" text-anchor="middle" font-size="38.6" font-weight="bold" textLength="71" lengthAdjust="spacingAndGlyphs">MIG</text>
<path d="M732 2342.45V2148.78H752V2342.45" fill="none" stroke="#ff0000" stroke-width="3.9"/>
<path d="M767.05 2342.45V2282.94H786.15V2342.45" fill="none" stroke="#00c000" stroke-width="3.9"/>
<rect x="764.1" y="2280.99" width="25" height="3.9" fill="#00c000"/>
<rect x="801.2" y="2209.7" width="20" height="132.75" fill="url(#pr)"/>
<path d="M801.2 2342.45V2209.7H821.2V2342.45" fill="none" stroke="#ff0000" stroke-width="3.9"/>
<rect x="836.25" y="2275.95" width="19.1" height="66.5" fill="url(#pg)"/>
<path d="M836.25 2342.45V2275.95H855.35V2342.45" fill="none" stroke="#00c000" stroke-width="3.9"/>
<rect x="833.3" y="2274" width="25" height="3.9" fill="#00c000"/>
<path d="M893.6 2342.45V2325.22H913.6V2342.45" fill="none" stroke="#ff0000" stroke-width="3.9"/>
<path d="M928.65 2342.45V2326.22H947.75V2342.45" fill="none" stroke="#00c000" stroke-width="3.9"/>
<rect x="925.7" y="2324.27" width="25" height="3.9" fill="#00c000"/>
<rect x="962.8" y="2315.23" width="20" height="27.22" fill="url(#pr)"/>
<path d="M962.8 2342.45V2315.23H982.8V2342.45" fill="none" stroke="#ff0000" stroke-width="3.9"/>
<rect x="997.85" y="2326.22" width="19.1" height="16.23" fill="url(#pg)"/>
<path d="M997.85 2342.45V2326.22H1016.95V2342.45" fill="none" stroke="#00c000" stroke-width="3.9"/>
<rect x="994.9" y="2324.27" width="25" height="3.9" fill="#00c000"/>
<path d="M1055.2 2342.45V2337.58H1075.2V2342.45" fill="none" stroke="#ff0000" stroke-width="3.9"/>
<path d="M1090.25 2342.45V2334.42H1109.35V2342.45" fill="none" stroke="#00c000" stroke-width="3.9"/>
<rect x="1087.3" y="2332.47" width="25" height="3.9" fill="#00c000"/>
<rect x="1124.4" y="2338.25" width="20" height="4.2" fill="url(#pr)"/>
<path d="M1124.4 2342.45V2338.25H1144.4V2342.45" fill="none" stroke="#ff0000" stroke-width="3.9"/>
<rect x="1159.45" y="2334.21" width="19.1" height="8.24" fill="url(#pg)"/>
<path d="M1159.45 2342.45V2334.21H1178.55V2342.45" fill="none" stroke="#00c000" stroke-width="3.9"/>
<rect x="1156.5" y="2332.26" width="25" height="3.9" fill="#00c000"/>
<rect x="718.25" y="2025.35" width="2.7" height="318.75" fill="#000"/>
<rect x="706.5" y="2341.1" width="486.2" height="2.7" fill="#000"/>
<text x="703.2" y="2349.25" text-anchor="end" font-size="19.8" textLength="10.8" lengthAdjust="spacingAndGlyphs">0</text>
<rect x="706.5" y="2236.12" width="13.1" height="1.9" fill="#000"/>
<text x="703.2" y="2243.87" text-anchor="end" font-size="19.8" textLength="32.4" lengthAdjust="spacingAndGlyphs">500</text>
<rect x="706.5" y="2130.73" width="13.1" height="1.9" fill="#000"/>
<text x="703.2" y="2138.48" text-anchor="end" font-size="19.8" textLength="43.2" lengthAdjust="spacingAndGlyphs">1000</text>
<rect x="706.5" y="2025.35" width="13.1" height="1.9" fill="#000"/>
<text x="703.2" y="2033.1" text-anchor="end" font-size="19.8" textLength="43.2" lengthAdjust="spacingAndGlyphs">1500</text>
<path d="M742 2132.85V2162.47" stroke="#ff0000" stroke-width="2.2" fill="none"/>
<circle cx="742" cy="2132.85" r="6" fill="#ff0000"/>
<circle cx="742" cy="2162.47" r="6" fill="#ff0000"/>
<path d="M776.6 2278.99V2282.32M770.6 2278.99h12M770.6 2282.32h12" stroke="#00c000" stroke-width="2.2" fill="none"/>
<polygon points="771.23,2276.22 773.34,2280.01 777.6,2280.85 774.65,2284.03 775.17,2288.34 771.23,2286.52 767.29,2288.34 767.8,2284.03 764.85,2280.85 769.11,2280.01" fill="#00c000"/>
<polygon points="782.88,2272.89 784.99,2276.68 789.25,2277.52 786.3,2280.7 786.82,2285.01 782.88,2283.19 778.94,2285.01 779.46,2280.7 776.51,2277.52 780.76,2276.68" fill="#00c000"/>
<path d="M811.2 2186.78V2230.05" stroke="#ff0000" stroke-width="2.2" fill="none"/>
<circle cx="811.2" cy="2186.78" r="4.45" fill="none" stroke="#ff0000" stroke-width="4.2"/>
<circle cx="811.2" cy="2230.05" r="4.45" fill="none" stroke="#ff0000" stroke-width="4.2"/>
<path d="M845.8 2269.01V2281.66" stroke="#00c000" stroke-width="2.2" fill="none"/>
<path d="M843.3 2262.71L848.3 2262.71L852.1 2267.21L852.8 2272.21L852.1 2274.91L839.5 2274.91L838.8 2272.21L839.5 2267.21ZM844.95 2269.81h1.7v1.7h-1.7Z" fill="#00c000" fill-rule="evenodd"/>
<path d="M843.3 2275.36L848.3 2275.36L852.1 2279.86L852.8 2284.86L852.1 2287.56L839.5 2287.56L838.8 2284.86L839.5 2279.86ZM844.95 2282.46h1.7v1.7h-1.7Z" fill="#00c000" fill-rule="evenodd"/>
<path d="M903.6 2322.27V2324.93M897.6 2322.27h12M897.6 2324.93h12" stroke="#ff0000" stroke-width="2.2" fill="none"/>
<circle cx="897.07" cy="2324.93" r="6" fill="#ff0000"/>
<circle cx="909.38" cy="2322.27" r="6" fill="#ff0000"/>
<path d="M938.2 2321.6V2326.6M932.2 2321.6h12M932.2 2326.6h12" stroke="#00c000" stroke-width="2.2" fill="none"/>
<polygon points="932.69,2320.5 934.8,2324.29 939.06,2325.13 936.11,2328.31 936.63,2332.62 932.69,2330.8 928.75,2332.62 929.26,2328.31 926.32,2325.13 930.57,2324.29" fill="#00c000"/>
<polygon points="943.67,2315.5 945.79,2319.29 950.05,2320.13 947.1,2323.32 947.61,2327.63 943.67,2325.8 939.74,2327.63 940.25,2323.32 937.3,2320.13 941.56,2319.29" fill="#00c000"/>
<path d="M972.8 2308.29V2312.28M966.8 2308.29h12M966.8 2312.28h12" stroke="#ff0000" stroke-width="2.2" fill="none"/>
<circle cx="965.98" cy="2312.28" r="4.45" fill="none" stroke="#ff0000" stroke-width="4.2"/>
<circle cx="979.29" cy="2308.29" r="4.45" fill="none" stroke="#ff0000" stroke-width="4.2"/>
<path d="M1007.4 2321.6V2323.27M1001.4 2321.6h12M1001.4 2323.27h12" stroke="#00c000" stroke-width="2.2" fill="none"/>
<path d="M997.77 2316.97L1002.77 2316.97L1006.57 2321.47L1007.27 2326.47L1006.57 2329.17L993.97 2329.17L993.27 2326.47L993.97 2321.47ZM999.42 2324.07h1.7v1.7h-1.7Z" fill="#00c000" fill-rule="evenodd"/>
<path d="M1011.75 2315.3L1016.75 2315.3L1020.55 2319.8L1021.25 2324.8L1020.55 2327.5L1007.95 2327.5L1007.25 2324.8L1007.95 2319.8ZM1013.4 2322.4h1.7v1.7h-1.7Z" fill="#00c000" fill-rule="evenodd"/>
<path d="M1065.2 2336.92V2338.25M1059.2 2336.92h12M1059.2 2338.25h12" stroke="#ff0000" stroke-width="2.2" fill="none"/>
<circle cx="1057.53" cy="2338.25" r="6" fill="#ff0000"/>
<circle cx="1070.84" cy="2336.92" r="6" fill="#ff0000"/>
<path d="M1099.8 2332.26V2336.59M1093.8 2332.26h12M1093.8 2336.59h12" stroke="#00c000" stroke-width="2.2" fill="none"/>
<polygon points="1092.48,2330.49 1094.6,2334.27 1098.86,2335.12 1095.91,2338.3 1096.42,2342.61 1092.48,2340.79 1088.55,2342.61 1089.06,2338.3 1086.11,2335.12 1090.37,2334.27" fill="#00c000"/>
<polygon points="1104.14,2326.16 1106.25,2329.95 1110.51,2330.79 1107.56,2333.97 1108.07,2338.28 1104.14,2336.46 1100.2,2338.28 1100.71,2333.97 1097.76,2330.79 1102.02,2329.95" fill="#00c000"/>
<path d="M1134.4 2336.59V2339.91M1128.4 2336.59h12M1128.4 2339.91h12" stroke="#ff0000" stroke-width="2.2" fill="none"/>
<circle cx="1126.77" cy="2339.91" r="4.45" fill="none" stroke="#ff0000" stroke-width="4.2"/>
<circle cx="1140.09" cy="2336.59" r="4.45" fill="none" stroke="#ff0000" stroke-width="4.2"/>
<path d="M1169 2328.93V2331.59M1163 2328.93h12M1163 2331.59h12" stroke="#00c000" stroke-width="2.2" fill="none"/>
<path d="M1158.9 2325.29L1163.9 2325.29L1167.7 2329.79L1168.4 2334.79L1167.7 2337.49L1155.1 2337.49L1154.4 2334.79L1155.1 2329.79ZM1160.55 2332.39h1.7v1.7h-1.7Z" fill="#00c000" fill-rule="evenodd"/>
<path d="M1172.21 2322.63L1177.21 2322.63L1181.01 2327.13L1181.71 2332.13L1181.01 2334.83L1168.41 2334.83L1167.71 2332.13L1168.41 2327.13ZM1173.86 2329.73h1.7v1.7h-1.7Z" fill="#00c000" fill-rule="evenodd"/>
<rect x="792.55" y="2342.45" width="1.9" height="13.4" fill="#000"/>
<text x="793.5" y="2375.05" text-anchor="middle" font-size="19.8" textLength="10.8" lengthAdjust="spacingAndGlyphs">3</text>
<rect x="954.05" y="2342.45" width="1.9" height="13.4" fill="#000"/>
<text x="955" y="2375.05" text-anchor="middle" font-size="19.8" textLength="10.8" lengthAdjust="spacingAndGlyphs">6</text>
<rect x="1115.55" y="2342.45" width="1.9" height="13.4" fill="#000"/>
<text x="1116.5" y="2375.05" text-anchor="middle" font-size="19.8" textLength="21.6" lengthAdjust="spacingAndGlyphs">13</text>
<text x="955.3" y="2408.45" text-anchor="middle" font-size="21.7" textLength="272" lengthAdjust="spacing">Days after start of co-culture</text>
<text transform="translate(645 2186.57) rotate(-90) scale(1 1.08)" text-anchor="middle" font-size="22.45" textLength="223.4" lengthAdjust="spacing">Concentration (pg/mL)</text></g>
<g><text x="1517.5" y="2005.8" text-anchor="middle" font-size="38.6" font-weight="bold" textLength="126" lengthAdjust="spacingAndGlyphs">MIP-1α</text>
<path d="M1304 2342.45V2108.83H1324V2342.45" fill="none" stroke="#ff0000" stroke-width="3.9"/>
<path d="M1339.05 2342.45V2118.15H1358.15V2342.45" fill="none" stroke="#00c000" stroke-width="3.9"/>
<rect x="1336.1" y="2116.2" width="25" height="3.9" fill="#00c000"/>
<rect x="1373.2" y="2108.83" width="20" height="233.62" fill="url(#pr)"/>
<path d="M1373.2 2342.45V2108.83H1393.2V2342.45" fill="none" stroke="#ff0000" stroke-width="3.9"/>
<rect x="1408.25" y="2111.16" width="19.1" height="231.29" fill="url(#pg)"/>
<path d="M1408.25 2342.45V2111.16H1427.35V2342.45" fill="none" stroke="#00c000" stroke-width="3.9"/>
<rect x="1405.3" y="2109.21" width="25" height="3.9" fill="#00c000"/>
<path d="M1465.6 2342.45V2114.82H1485.6V2342.45" fill="none" stroke="#ff0000" stroke-width="3.9"/>
<path d="M1500.65 2342.45V2116.49H1519.75V2342.45" fill="none" stroke="#00c000" stroke-width="3.9"/>
<rect x="1497.7" y="2114.54" width="25" height="3.9" fill="#00c000"/>
<rect x="1534.8" y="2116.49" width="20" height="225.96" fill="url(#pr)"/>
<path d="M1534.8 2342.45V2116.49H1554.8V2342.45" fill="none" stroke="#ff0000" stroke-width="3.9"/>
<rect x="1569.85" y="2113.16" width="19.1" height="229.29" fill="url(#pg)"/>
<path d="M1569.85 2342.45V2113.16H1588.95V2342.45" fill="none" stroke="#00c000" stroke-width="3.9"/>
<rect x="1566.9" y="2111.21" width="25" height="3.9" fill="#00c000"/>
<path d="M1627.2 2342.45V2204.37H1647.2V2342.45" fill="none" stroke="#ff0000" stroke-width="3.9"/>
<path d="M1662.25 2342.45V2117.15H1681.35V2342.45" fill="none" stroke="#00c000" stroke-width="3.9"/>
<rect x="1659.3" y="2115.2" width="25" height="3.9" fill="#00c000"/>
<rect x="1696.4" y="2214.36" width="20" height="128.09" fill="url(#pr)"/>
<path d="M1696.4 2342.45V2214.36H1716.4V2342.45" fill="none" stroke="#ff0000" stroke-width="3.9"/>
<rect x="1731.45" y="2118.15" width="19.1" height="224.3" fill="url(#pg)"/>
<path d="M1731.45 2342.45V2118.15H1750.55V2342.45" fill="none" stroke="#00c000" stroke-width="3.9"/>
<rect x="1728.5" y="2116.2" width="25" height="3.9" fill="#00c000"/>
<rect x="1290.2" y="2025.35" width="1.8" height="318.75" fill="#000"/>
<rect x="1278" y="2341.1" width="486.7" height="2.7" fill="#000"/>
<text x="1274.7" y="2349.25" text-anchor="end" font-size="19.8" textLength="10.8" lengthAdjust="spacingAndGlyphs">0</text>
<rect x="1278" y="2262.46" width="13.1" height="1.9" fill="#000"/>
<text x="1274.7" y="2270.21" text-anchor="end" font-size="19.8" textLength="32.4" lengthAdjust="spacingAndGlyphs">100</text>
<rect x="1278" y="2183.43" width="13.1" height="1.9" fill="#000"/>
<text x="1274.7" y="2191.18" text-anchor="end" font-size="19.8" textLength="32.4" lengthAdjust="spacingAndGlyphs">200</text>
<rect x="1278" y="2104.39" width="13.1" height="1.9" fill="#000"/>
<text x="1274.7" y="2112.14" text-anchor="end" font-size="19.8" textLength="32.4" lengthAdjust="spacingAndGlyphs">300</text>
<rect x="1278" y="2025.35" width="13.1" height="1.9" fill="#000"/>
<text x="1274.7" y="2033.1" text-anchor="end" font-size="19.8" textLength="32.4" lengthAdjust="spacingAndGlyphs">400</text>
<path d="M1314 2105.21V2109.21M1308 2105.21h12M1308 2109.21h12" stroke="#ff0000" stroke-width="2.2" fill="none"/>
<circle cx="1307.94" cy="2109.21" r="6" fill="#ff0000"/>
<circle cx="1320.26" cy="2105.21" r="6" fill="#ff0000"/>
<path d="M1348.6 2110.87V2121.86" stroke="#00c000" stroke-width="2.2" fill="none"/>
<polygon points="1348.6,2104.77 1350.72,2108.56 1354.97,2109.4 1352.02,2112.59 1352.54,2116.89 1348.6,2115.07 1344.66,2116.89 1345.18,2112.59 1342.23,2109.4 1346.48,2108.56" fill="#00c000"/>
<polygon points="1348.6,2115.76 1350.72,2119.55 1354.97,2120.39 1352.02,2123.57 1352.54,2127.88 1348.6,2126.06 1344.66,2127.88 1345.18,2123.57 1342.23,2120.39 1346.48,2119.55" fill="#00c000"/>
<path d="M1383.2 2104.22V2108.54M1377.2 2104.22h12M1377.2 2108.54h12" stroke="#ff0000" stroke-width="2.2" fill="none"/>
<circle cx="1376.85" cy="2108.54" r="4.45" fill="none" stroke="#ff0000" stroke-width="4.2"/>
<circle cx="1390.5" cy="2104.22" r="4.45" fill="none" stroke="#ff0000" stroke-width="4.2"/>
<path d="M1417.8 2106.88V2111.21M1411.8 2106.88h12M1411.8 2111.21h12" stroke="#00c000" stroke-width="2.2" fill="none"/>
<path d="M1408.64 2104.91L1413.64 2104.91L1417.44 2109.41L1418.14 2114.41L1417.44 2117.11L1404.84 2117.11L1404.14 2114.41L1404.84 2109.41ZM1410.29 2112.01h1.7v1.7h-1.7Z" fill="#00c000" fill-rule="evenodd"/>
<path d="M1422.63 2100.58L1427.63 2100.58L1431.43 2105.08L1432.13 2110.08L1431.43 2112.78L1418.83 2112.78L1418.13 2110.08L1418.83 2105.08ZM1424.28 2107.68h1.7v1.7h-1.7Z" fill="#00c000" fill-rule="evenodd"/>
<path d="M1475.6 2111.21V2115.2M1469.6 2111.21h12M1469.6 2115.2h12" stroke="#ff0000" stroke-width="2.2" fill="none"/>
<circle cx="1470.07" cy="2115.2" r="6" fill="#ff0000"/>
<circle cx="1482.72" cy="2111.21" r="6" fill="#ff0000"/>
<path d="M1510.2 2114.54V2116.87M1504.2 2114.54h12M1504.2 2116.87h12" stroke="#00c000" stroke-width="2.2" fill="none"/>
<polygon points="1505.36,2110.77 1507.47,2114.55 1511.73,2115.4 1508.78,2118.58 1509.3,2122.89 1505.36,2121.07 1501.42,2122.89 1501.93,2118.58 1498.99,2115.4 1503.24,2114.55" fill="#00c000"/>
<polygon points="1517.67,2108.44 1519.79,2112.22 1524.05,2113.07 1521.1,2116.25 1521.61,2120.56 1517.67,2118.74 1513.74,2120.56 1514.25,2116.25 1511.3,2113.07 1515.56,2112.22" fill="#00c000"/>
<path d="M1544.8 2109.54V2118.53M1538.8 2109.54h12M1538.8 2118.53h12" stroke="#ff0000" stroke-width="2.2" fill="none"/>
<circle cx="1538.65" cy="2118.53" r="4.45" fill="none" stroke="#ff0000" stroke-width="4.2"/>
<circle cx="1551.96" cy="2109.54" r="4.45" fill="none" stroke="#ff0000" stroke-width="4.2"/>
<path d="M1579.4 2106.88V2118.53" stroke="#00c000" stroke-width="2.2" fill="none"/>
<path d="M1576.9 2100.58L1581.9 2100.58L1585.7 2105.08L1586.4 2110.08L1585.7 2112.78L1573.1 2112.78L1572.4 2110.08L1573.1 2105.08ZM1578.55 2107.68h1.7v1.7h-1.7Z" fill="#00c000" fill-rule="evenodd"/>
<path d="M1576.9 2112.23L1581.9 2112.23L1585.7 2116.73L1586.4 2121.73L1585.7 2124.43L1573.1 2124.43L1572.4 2121.73L1573.1 2116.73ZM1578.55 2119.33h1.7v1.7h-1.7Z" fill="#00c000" fill-rule="evenodd"/>
<path d="M1637.2 2121.19V2283.32" stroke="#ff0000" stroke-width="2.2" fill="none"/>
<circle cx="1637.2" cy="2121.19" r="6" fill="#ff0000"/>
<circle cx="1637.2" cy="2283.32" r="6" fill="#ff0000"/>
<path d="M1671.8 2114.54V2116.87M1665.8 2114.54h12M1665.8 2116.87h12" stroke="#00c000" stroke-width="2.2" fill="none"/>
<polygon points="1667.48,2110.77 1669.6,2114.55 1673.86,2115.4 1670.91,2118.58 1671.42,2122.89 1667.48,2121.07 1663.55,2122.89 1664.06,2118.58 1661.11,2115.4 1665.37,2114.55" fill="#00c000"/>
<polygon points="1679.14,2108.44 1681.25,2112.22 1685.51,2113.07 1682.56,2116.25 1683.07,2120.56 1679.14,2118.74 1675.2,2120.56 1675.71,2116.25 1672.76,2113.07 1677.02,2112.22" fill="#00c000"/>
<path d="M1706.4 2119.53V2305.96" stroke="#ff0000" stroke-width="2.2" fill="none"/>
<circle cx="1706.4" cy="2119.53" r="4.45" fill="none" stroke="#ff0000" stroke-width="4.2"/>
<circle cx="1706.4" cy="2305.96" r="4.45" fill="none" stroke="#ff0000" stroke-width="4.2"/>
<path d="M1741 2113.54V2119.2M1735 2113.54h12M1735 2119.2h12" stroke="#00c000" stroke-width="2.2" fill="none"/>
<path d="M1733.23 2112.9L1738.23 2112.9L1742.03 2117.4L1742.73 2122.4L1742.03 2125.1L1729.43 2125.1L1728.73 2122.4L1729.43 2117.4ZM1734.88 2120h1.7v1.7h-1.7Z" fill="#00c000" fill-rule="evenodd"/>
<path d="M1745.88 2107.24L1750.88 2107.24L1754.68 2111.74L1755.38 2116.74L1754.68 2119.44L1742.08 2119.44L1741.38 2116.74L1742.08 2111.74ZM1747.53 2114.34h1.7v1.7h-1.7Z" fill="#00c000" fill-rule="evenodd"/>
<rect x="1364.55" y="2342.45" width="1.9" height="13.4" fill="#000"/>
<text x="1365.5" y="2375.05" text-anchor="middle" font-size="19.8" textLength="10.8" lengthAdjust="spacingAndGlyphs">3</text>
<rect x="1526.05" y="2342.45" width="1.9" height="13.4" fill="#000"/>
<text x="1527" y="2375.05" text-anchor="middle" font-size="19.8" textLength="10.8" lengthAdjust="spacingAndGlyphs">6</text>
<rect x="1687.55" y="2342.45" width="1.9" height="13.4" fill="#000"/>
<text x="1688.5" y="2375.05" text-anchor="middle" font-size="19.8" textLength="21.6" lengthAdjust="spacingAndGlyphs">13</text>
<text x="1527.3" y="2408.45" text-anchor="middle" font-size="21.7" textLength="272" lengthAdjust="spacing">Days after start of co-culture</text>
<text transform="translate(1227 2186.57) rotate(-90) scale(1 1.08)" text-anchor="middle" font-size="22.45" textLength="223.4" lengthAdjust="spacing">Concentration (pg/mL)</text></g>
<g><text x="347.8" y="2500.2" text-anchor="middle" font-size="38.6" font-weight="bold" textLength="124.4" lengthAdjust="spacingAndGlyphs">MIP-1β</text>
<path d="M138 2849.06V2597.85H158V2849.06" fill="none" stroke="#ff0000" stroke-width="3.9"/>
<path d="M173.05 2849.06V2597.85H192.15V2849.06" fill="none" stroke="#00c000" stroke-width="3.9"/>
<rect x="170.1" y="2595.9" width="25" height="3.9" fill="#00c000"/>
<rect x="207.2" y="2739.67" width="20" height="109.39" fill="url(#pr)"/>
<path d="M207.2 2849.06V2739.67H227.2V2849.06" fill="none" stroke="#ff0000" stroke-width="3.9"/>
<rect x="242.25" y="2597.85" width="19.1" height="251.21" fill="url(#pg)"/>
<path d="M242.25 2849.06V2597.85H261.35V2849.06" fill="none" stroke="#00c000" stroke-width="3.9"/>
<rect x="239.3" y="2595.9" width="25" height="3.9" fill="#00c000"/>
<path d="M299.6 2849.06V2806.25H319.6V2849.06" fill="none" stroke="#ff0000" stroke-width="3.9"/>
<path d="M334.65 2849.06V2822.23H353.75V2849.06" fill="none" stroke="#00c000" stroke-width="3.9"/>
<rect x="331.7" y="2820.28" width="25" height="3.9" fill="#00c000"/>
<rect x="368.8" y="2791.27" width="20" height="57.79" fill="url(#pr)"/>
<path d="M368.8 2849.06V2791.27H388.8V2849.06" fill="none" stroke="#ff0000" stroke-width="3.9"/>
<rect x="403.85" y="2597.85" width="19.1" height="251.21" fill="url(#pg)"/>
<path d="M403.85 2849.06V2597.85H422.95V2849.06" fill="none" stroke="#00c000" stroke-width="3.9"/>
<rect x="400.9" y="2595.9" width="25" height="3.9" fill="#00c000"/>
<path d="M461.2 2849.06V2843.58H481.2V2849.06" fill="none" stroke="#ff0000" stroke-width="3.9"/>
<path d="M496.25 2849.06V2738H515.35V2849.06" fill="none" stroke="#00c000" stroke-width="3.9"/>
<rect x="493.3" y="2736.05" width="25" height="3.9" fill="#00c000"/>
<rect x="530.4" y="2845.08" width="20" height="3.98" fill="url(#pr)"/>
<path d="M530.4 2849.06V2845.08H550.4V2849.06" fill="none" stroke="#ff0000" stroke-width="3.9"/>
<rect x="565.45" y="2597.85" width="19.1" height="251.21" fill="url(#pg)"/>
<path d="M565.45 2849.06V2597.85H584.55V2849.06" fill="none" stroke="#00c000" stroke-width="3.9"/>
<rect x="562.5" y="2595.9" width="25" height="3.9" fill="#00c000"/>
<rect x="123.15" y="2531.85" width="2.7" height="318.46" fill="#000"/>
<rect x="111.4" y="2848.11" width="487.3" height="1.9" fill="#000"/>
<text x="108.1" y="2855.86" text-anchor="end" font-size="19.8" textLength="10.8" lengthAdjust="spacingAndGlyphs">0</text>
<rect x="111.4" y="2768.67" width="13.1" height="2.9" fill="#000"/>
<text x="108.1" y="2776.92" text-anchor="end" font-size="19.8" textLength="43.2" lengthAdjust="spacingAndGlyphs">5000</text>
<rect x="111.4" y="2689.73" width="13.1" height="2.9" fill="#000"/>
<text x="108.1" y="2697.98" text-anchor="end" font-size="19.8" textLength="54" lengthAdjust="spacingAndGlyphs">10000</text>
<rect x="111.4" y="2610.79" width="13.1" height="2.9" fill="#000"/>
<text x="108.1" y="2619.04" text-anchor="end" font-size="19.8" textLength="54" lengthAdjust="spacingAndGlyphs">15000</text>
<rect x="111.4" y="2531.85" width="13.1" height="2.9" fill="#000"/>
<text x="108.1" y="2540.1" text-anchor="end" font-size="19.8" textLength="54" lengthAdjust="spacingAndGlyphs">20000</text>
<circle cx="148" cy="2597.23" r="6" fill="#ff0000"/>
<polygon points="182.6,2591.13 184.72,2594.92 188.97,2595.76 186.02,2598.94 186.54,2603.25 182.6,2601.43 178.66,2603.25 179.18,2598.94 176.23,2595.76 180.48,2594.92" fill="#00c000"/>
<path d="M217.2 2691.11V2785.33" stroke="#ff0000" stroke-width="2.2" fill="none"/>
<circle cx="217.2" cy="2691.11" r="4.45" fill="none" stroke="#ff0000" stroke-width="4.2"/>
<circle cx="217.2" cy="2785.33" r="4.45" fill="none" stroke="#ff0000" stroke-width="4.2"/>
<path d="M249.3 2590.93L254.3 2590.93L258.1 2595.43L258.8 2600.43L258.1 2603.13L245.5 2603.13L244.8 2600.43L245.5 2595.43ZM250.95 2598.03h1.7v1.7h-1.7Z" fill="#00c000" fill-rule="evenodd"/>
<path d="M309.6 2785.99V2823.28" stroke="#ff0000" stroke-width="2.2" fill="none"/>
<circle cx="309.6" cy="2785.99" r="6" fill="#ff0000"/>
<circle cx="309.6" cy="2823.28" r="6" fill="#ff0000"/>
<polygon points="344.2,2814.85 346.32,2818.63 350.57,2819.48 347.62,2822.66 348.14,2826.97 344.2,2825.15 340.26,2826.97 340.78,2822.66 337.83,2819.48 342.08,2818.63" fill="#00c000"/>
<path d="M378.8 2754.36V2824.94" stroke="#ff0000" stroke-width="2.2" fill="none"/>
<circle cx="378.8" cy="2754.36" r="4.45" fill="none" stroke="#ff0000" stroke-width="4.2"/>
<circle cx="378.8" cy="2824.94" r="4.45" fill="none" stroke="#ff0000" stroke-width="4.2"/>
<path d="M410.9 2590.93L415.9 2590.93L419.7 2595.43L420.4 2600.43L419.7 2603.13L407.1 2603.13L406.4 2600.43L407.1 2595.43ZM412.55 2598.03h1.7v1.7h-1.7Z" fill="#00c000" fill-rule="evenodd"/>
<path d="M471.2 2840.26V2846.91M465.2 2840.26h12M465.2 2846.91h12" stroke="#ff0000" stroke-width="2.2" fill="none"/>
<circle cx="464.86" cy="2846.91" r="6" fill="#ff0000"/>
<circle cx="477.51" cy="2840.26" r="6" fill="#ff0000"/>
<path d="M505.8 2632.85V2842.59" stroke="#00c000" stroke-width="2.2" fill="none"/>
<polygon points="505.8,2626.75 507.92,2630.54 512.17,2631.38 509.22,2634.57 509.74,2638.87 505.8,2637.05 501.86,2638.87 502.38,2634.57 499.43,2631.38 503.68,2630.54" fill="#00c000"/>
<polygon points="505.8,2836.49 507.92,2840.27 512.17,2841.12 509.22,2844.3 509.74,2848.61 505.8,2846.79 501.86,2848.61 502.38,2844.3 499.43,2841.12 503.68,2840.27" fill="#00c000"/>
<path d="M540.4 2841.59V2848.58M534.4 2841.59h12M534.4 2848.58h12" stroke="#ff0000" stroke-width="2.2" fill="none"/>
<circle cx="533.11" cy="2848.58" r="4.45" fill="none" stroke="#ff0000" stroke-width="4.2"/>
<circle cx="547.09" cy="2841.59" r="4.45" fill="none" stroke="#ff0000" stroke-width="4.2"/>
<path d="M572.5 2590.93L577.5 2590.93L581.3 2595.43L582 2600.43L581.3 2603.13L568.7 2603.13L568 2600.43L568.7 2595.43ZM574.15 2598.03h1.7v1.7h-1.7Z" fill="#00c000" fill-rule="evenodd"/>
<rect x="198.05" y="2849.06" width="2.9" height="13.4" fill="#000"/>
<text x="199.5" y="2881.66" text-anchor="middle" font-size="19.8" textLength="10.8" lengthAdjust="spacingAndGlyphs">3</text>
<rect x="359.55" y="2849.06" width="2.9" height="13.4" fill="#000"/>
<text x="361" y="2881.66" text-anchor="middle" font-size="19.8" textLength="10.8" lengthAdjust="spacingAndGlyphs">6</text>
<rect x="521.05" y="2849.06" width="2.9" height="13.4" fill="#000"/>
<text x="522.5" y="2881.66" text-anchor="middle" font-size="19.8" textLength="21.6" lengthAdjust="spacingAndGlyphs">13</text>
<text x="361.3" y="2915.06" text-anchor="middle" font-size="21.7" textLength="272" lengthAdjust="spacing">Days after start of co-culture</text>
<text transform="translate(39 2693.38) rotate(-90) scale(1 1.08)" text-anchor="middle" font-size="22.45" textLength="223.4" lengthAdjust="spacing">Concentration (pg/mL)</text>
<text x="253" y="2585.3" text-anchor="middle" font-size="24" font-weight="bold" stroke="#000" stroke-width="0.7" textLength="13" lengthAdjust="spacingAndGlyphs">#</text>
<text x="414.3" y="2582.7" text-anchor="middle" font-size="24" font-weight="bold" stroke="#000" stroke-width="0.7" textLength="13" lengthAdjust="spacingAndGlyphs">#</text>
<text x="576" y="2582.7" text-anchor="middle" font-size="24" font-weight="bold" stroke="#000" stroke-width="0.7" textLength="13" lengthAdjust="spacingAndGlyphs">#</text></g>
<g><text x="940" y="2500.2" text-anchor="middle" font-size="38.6" font-weight="bold" textLength="137" lengthAdjust="spacingAndGlyphs">RANTES</text>
<path d="M732 2849.06V2588.2H752V2849.06" fill="none" stroke="#ff0000" stroke-width="3.9"/>
<path d="M767.05 2849.06V2675.75H786.15V2849.06" fill="none" stroke="#00c000" stroke-width="3.9"/>
<rect x="764.1" y="2673.8" width="25" height="3.9" fill="#00c000"/>
<rect x="801.2" y="2635.14" width="20" height="213.92" fill="url(#pr)"/>
<path d="M801.2 2849.06V2635.14H821.2V2849.06" fill="none" stroke="#ff0000" stroke-width="3.9"/>
<rect x="836.25" y="2669.76" width="19.1" height="179.3" fill="url(#pg)"/>
<path d="M836.25 2849.06V2669.76H855.35V2849.06" fill="none" stroke="#00c000" stroke-width="3.9"/>
<rect x="833.3" y="2667.81" width="25" height="3.9" fill="#00c000"/>
<path d="M893.6 2849.06V2761.97H913.6V2849.06" fill="none" stroke="#ff0000" stroke-width="3.9"/>
<path d="M928.65 2849.06V2715.37H947.75V2849.06" fill="none" stroke="#00c000" stroke-width="3.9"/>
<rect x="925.7" y="2713.42" width="25" height="3.9" fill="#00c000"/>
<rect x="962.8" y="2750.32" width="20" height="98.74" fill="url(#pr)"/>
<path d="M962.8 2849.06V2750.32H982.8V2849.06" fill="none" stroke="#ff0000" stroke-width="3.9"/>
<rect x="997.85" y="2661.44" width="19.1" height="187.62" fill="url(#pg)"/>
<path d="M997.85 2849.06V2661.44H1016.95V2849.06" fill="none" stroke="#00c000" stroke-width="3.9"/>
<rect x="994.9" y="2659.49" width="25" height="3.9" fill="#00c000"/>
<path d="M1055.2 2849.06V2843.42H1075.2V2849.06" fill="none" stroke="#ff0000" stroke-width="3.9"/>
<path d="M1090.25 2849.06V2821.23H1109.35V2849.06" fill="none" stroke="#00c000" stroke-width="3.9"/>
<rect x="1087.3" y="2819.28" width="25" height="3.9" fill="#00c000"/>
<rect x="1124.4" y="2844.54" width="20" height="4.52" fill="url(#pr)"/>
<path d="M1124.4 2849.06V2844.54H1144.4V2849.06" fill="none" stroke="#ff0000" stroke-width="3.9"/>
<rect x="1159.45" y="2713.04" width="19.1" height="136.02" fill="url(#pg)"/>
<path d="M1159.45 2849.06V2713.04H1178.55V2849.06" fill="none" stroke="#00c000" stroke-width="3.9"/>
<rect x="1156.5" y="2711.09" width="25" height="3.9" fill="#00c000"/>
<rect x="718.25" y="2532.35" width="2.7" height="317.96" fill="#000"/>
<rect x="706.5" y="2848.11" width="486.2" height="1.9" fill="#000"/>
<text x="703.2" y="2855.86" text-anchor="end" font-size="19.8" textLength="10.8" lengthAdjust="spacingAndGlyphs">0</text>
<rect x="706.5" y="2769.17" width="13.1" height="1.9" fill="#000"/>
<text x="703.2" y="2776.92" text-anchor="end" font-size="19.8" textLength="43.2" lengthAdjust="spacingAndGlyphs">1000</text>
<rect x="706.5" y="2690.23" width="13.1" height="1.9" fill="#000"/>
<text x="703.2" y="2697.98" text-anchor="end" font-size="19.8" textLength="43.2" lengthAdjust="spacingAndGlyphs">2000</text>
<rect x="706.5" y="2611.29" width="13.1" height="1.9" fill="#000"/>
<text x="703.2" y="2619.04" text-anchor="end" font-size="19.8" textLength="43.2" lengthAdjust="spacingAndGlyphs">3000</text>
<rect x="706.5" y="2532.35" width="13.1" height="1.9" fill="#000"/>
<text x="703.2" y="2540.1" text-anchor="end" font-size="19.8" textLength="43.2" lengthAdjust="spacingAndGlyphs">4000</text>
<path d="M742 2552.96V2620.54" stroke="#ff0000" stroke-width="2.2" fill="none"/>
<circle cx="742" cy="2552.96" r="6" fill="#ff0000"/>
<circle cx="742" cy="2620.54" r="6" fill="#ff0000"/>
<path d="M776.6 2661.82V2689.45" stroke="#00c000" stroke-width="2.2" fill="none"/>
<polygon points="776.6,2655.72 778.72,2659.5 782.97,2660.35 780.02,2663.53 780.54,2667.84 776.6,2666.02 772.66,2667.84 773.18,2663.53 770.23,2660.35 774.48,2659.5" fill="#00c000"/>
<polygon points="776.6,2683.35 778.72,2687.14 782.97,2687.98 780.02,2691.16 780.54,2695.47 776.6,2693.65 772.66,2695.47 773.18,2691.16 770.23,2687.98 774.48,2687.14" fill="#00c000"/>
<path d="M811.2 2603.56V2662.82" stroke="#ff0000" stroke-width="2.2" fill="none"/>
<circle cx="811.2" cy="2603.56" r="4.45" fill="none" stroke="#ff0000" stroke-width="4.2"/>
<circle cx="811.2" cy="2662.82" r="4.45" fill="none" stroke="#ff0000" stroke-width="4.2"/>
<path d="M845.8 2665.15V2668.47M839.8 2665.15h12M839.8 2668.47h12" stroke="#00c000" stroke-width="2.2" fill="none"/>
<path d="M835.97 2662.17L840.97 2662.17L844.77 2666.67L845.47 2671.67L844.77 2674.37L832.17 2674.37L831.47 2671.67L832.17 2666.67ZM837.62 2669.27h1.7v1.7h-1.7Z" fill="#00c000" fill-rule="evenodd"/>
<path d="M849.29 2658.85L854.29 2658.85L858.09 2663.35L858.79 2668.35L858.09 2671.05L845.49 2671.05L844.79 2668.35L845.49 2663.35ZM850.94 2665.95h1.7v1.7h-1.7Z" fill="#00c000" fill-rule="evenodd"/>
<path d="M903.6 2721.74V2799.64" stroke="#ff0000" stroke-width="2.2" fill="none"/>
<circle cx="903.6" cy="2721.74" r="6" fill="#ff0000"/>
<circle cx="903.6" cy="2799.64" r="6" fill="#ff0000"/>
<path d="M938.2 2664.48V2765.02" stroke="#00c000" stroke-width="2.2" fill="none"/>
<polygon points="938.2,2658.38 940.32,2662.17 944.57,2663.01 941.62,2666.19 942.14,2670.5 938.2,2668.68 934.26,2670.5 934.78,2666.19 931.83,2663.01 936.08,2662.17" fill="#00c000"/>
<polygon points="938.2,2758.92 940.32,2762.71 944.57,2763.55 941.62,2766.73 942.14,2771.04 938.2,2769.22 934.26,2771.04 934.78,2766.73 931.83,2763.55 936.08,2762.71" fill="#00c000"/>
<path d="M972.8 2703.1V2793.65" stroke="#ff0000" stroke-width="2.2" fill="none"/>
<circle cx="972.8" cy="2703.1" r="4.45" fill="none" stroke="#ff0000" stroke-width="4.2"/>
<circle cx="972.8" cy="2793.65" r="4.45" fill="none" stroke="#ff0000" stroke-width="4.2"/>
<path d="M1007.4 2655.16V2659.49M1001.4 2655.16h12M1001.4 2659.49h12" stroke="#00c000" stroke-width="2.2" fill="none"/>
<path d="M997.77 2653.19L1002.77 2653.19L1006.57 2657.69L1007.27 2662.69L1006.57 2665.39L993.97 2665.39L993.27 2662.69L993.97 2657.69ZM999.42 2660.29h1.7v1.7h-1.7Z" fill="#00c000" fill-rule="evenodd"/>
<path d="M1010.09 2648.86L1015.09 2648.86L1018.89 2653.36L1019.59 2658.36L1018.89 2661.06L1006.29 2661.06L1005.59 2658.36L1006.29 2653.36ZM1011.74 2655.96h1.7v1.7h-1.7Z" fill="#00c000" fill-rule="evenodd"/>
<path d="M1065.2 2840.92V2845.91M1059.2 2840.92h12M1059.2 2845.91h12" stroke="#ff0000" stroke-width="2.2" fill="none"/>
<circle cx="1057.53" cy="2845.91" r="6" fill="#ff0000"/>
<circle cx="1070.84" cy="2840.92" r="6" fill="#ff0000"/>
<path d="M1099.8 2804.97V2835.93" stroke="#00c000" stroke-width="2.2" fill="none"/>
<polygon points="1099.8,2798.87 1101.92,2802.65 1106.17,2803.5 1103.22,2806.68 1103.74,2810.99 1099.8,2809.17 1095.86,2810.99 1096.38,2806.68 1093.43,2803.5 1097.68,2802.65" fill="#00c000"/>
<polygon points="1099.8,2829.83 1101.92,2833.61 1106.17,2834.46 1103.22,2837.64 1103.74,2841.95 1099.8,2840.13 1095.86,2841.95 1096.38,2837.64 1093.43,2834.46 1097.68,2833.61" fill="#00c000"/>
<path d="M1134.4 2836.59V2848.24" stroke="#ff0000" stroke-width="2.2" fill="none"/>
<circle cx="1134.4" cy="2836.59" r="4.45" fill="none" stroke="#ff0000" stroke-width="4.2"/>
<circle cx="1134.4" cy="2848.24" r="4.45" fill="none" stroke="#ff0000" stroke-width="4.2"/>
<path d="M1169 2698.77V2727.07" stroke="#00c000" stroke-width="2.2" fill="none"/>
<path d="M1166.5 2692.47L1171.5 2692.47L1175.3 2696.97L1176 2701.97L1175.3 2704.67L1162.7 2704.67L1162 2701.97L1162.7 2696.97ZM1168.15 2699.57h1.7v1.7h-1.7Z" fill="#00c000" fill-rule="evenodd"/>
<path d="M1166.5 2720.77L1171.5 2720.77L1175.3 2725.27L1176 2730.27L1175.3 2732.97L1162.7 2732.97L1162 2730.27L1162.7 2725.27ZM1168.15 2727.87h1.7v1.7h-1.7Z" fill="#00c000" fill-rule="evenodd"/>
<rect x="792.55" y="2849.06" width="1.9" height="13.4" fill="#000"/>
<text x="793.5" y="2881.66" text-anchor="middle" font-size="19.8" textLength="10.8" lengthAdjust="spacingAndGlyphs">3</text>
<rect x="954.05" y="2849.06" width="1.9" height="13.4" fill="#000"/>
<text x="955" y="2881.66" text-anchor="middle" font-size="19.8" textLength="10.8" lengthAdjust="spacingAndGlyphs">6</text>
<rect x="1115.55" y="2849.06" width="1.9" height="13.4" fill="#000"/>
<text x="1116.5" y="2881.66" text-anchor="middle" font-size="19.8" textLength="21.6" lengthAdjust="spacingAndGlyphs">13</text>
<text x="955.3" y="2915.06" text-anchor="middle" font-size="21.7" textLength="272" lengthAdjust="spacing">Days after start of co-culture</text>
<text transform="translate(645 2693.38) rotate(-90) scale(1 1.08)" text-anchor="middle" font-size="22.45" textLength="223.4" lengthAdjust="spacing">Concentration (pg/mL)</text></g>
<g><text x="1516.9" y="2500.2" text-anchor="middle" font-size="38.6" font-weight="bold" textLength="102.25" lengthAdjust="spacingAndGlyphs">TNF-α</text>
<path d="M1319 2849.1V2699.72H1339V2849.1" fill="none" stroke="#ff0000" stroke-width="3.9"/>
<path d="M1354.05 2849.1V2669.76H1373.15V2849.1" fill="none" stroke="#00c000" stroke-width="3.9"/>
<rect x="1351.1" y="2667.81" width="25" height="3.9" fill="#00c000"/>
<rect x="1388.2" y="2750.66" width="20" height="98.44" fill="url(#pr)"/>
<path d="M1388.2 2849.1V2750.66H1408.2V2849.1" fill="none" stroke="#ff0000" stroke-width="3.9"/>
<rect x="1423.25" y="2622.82" width="19.1" height="226.28" fill="url(#pg)"/>
<path d="M1423.25 2849.1V2622.82H1442.35V2849.1" fill="none" stroke="#00c000" stroke-width="3.9"/>
<rect x="1420.3" y="2620.87" width="25" height="3.9" fill="#00c000"/>
<path d="M1480.6 2849.1V2799.59H1500.6V2849.1" fill="none" stroke="#ff0000" stroke-width="3.9"/>
<path d="M1515.65 2849.1V2793.93H1534.75V2849.1" fill="none" stroke="#00c000" stroke-width="3.9"/>
<rect x="1512.7" y="2791.98" width="25" height="3.9" fill="#00c000"/>
<rect x="1549.8" y="2798.93" width="20" height="50.17" fill="url(#pr)"/>
<path d="M1549.8 2849.1V2798.93H1569.8V2849.1" fill="none" stroke="#ff0000" stroke-width="3.9"/>
<rect x="1584.85" y="2763.97" width="19.1" height="85.13" fill="url(#pg)"/>
<path d="M1584.85 2849.1V2763.97H1603.95V2849.1" fill="none" stroke="#00c000" stroke-width="3.9"/>
<rect x="1581.9" y="2762.02" width="25" height="3.9" fill="#00c000"/>
<path d="M1642.2 2849.1V2845.25H1662.2V2849.1" fill="none" stroke="#ff0000" stroke-width="3.9"/>
<path d="M1677.25 2849.1V2837.88H1696.35V2849.1" fill="none" stroke="#00c000" stroke-width="3.9"/>
<rect x="1674.3" y="2835.93" width="25" height="3.9" fill="#00c000"/>
<rect x="1711.4" y="2846.25" width="20" height="2.85" fill="url(#pr)"/>
<path d="M1711.4 2849.1V2846.25H1731.4V2849.1" fill="none" stroke="#ff0000" stroke-width="3.9"/>
<rect x="1746.45" y="2761.97" width="19.1" height="87.13" fill="url(#pg)"/>
<path d="M1746.45 2849.1V2761.97H1765.55V2849.1" fill="none" stroke="#00c000" stroke-width="3.9"/>
<rect x="1743.5" y="2760.02" width="25" height="3.9" fill="#00c000"/>
<rect x="1305.1" y="2531.85" width="1.8" height="318.6" fill="#000"/>
<rect x="1292.9" y="2848.05" width="486.8" height="2.1" fill="#000"/>
<text x="1289.6" y="2855.9" text-anchor="end" font-size="19.8" textLength="10.8" lengthAdjust="spacingAndGlyphs">0</text>
<rect x="1292.9" y="2768.7" width="13.1" height="2.9" fill="#000"/>
<text x="1289.6" y="2776.95" text-anchor="end" font-size="19.8" textLength="43.2" lengthAdjust="spacingAndGlyphs">2000</text>
<rect x="1292.9" y="2689.75" width="13.1" height="2.9" fill="#000"/>
<text x="1289.6" y="2698" text-anchor="end" font-size="19.8" textLength="43.2" lengthAdjust="spacingAndGlyphs">4000</text>
<rect x="1292.9" y="2610.8" width="13.1" height="2.9" fill="#000"/>
<text x="1289.6" y="2619.05" text-anchor="end" font-size="19.8" textLength="43.2" lengthAdjust="spacingAndGlyphs">6000</text>
<rect x="1292.9" y="2531.85" width="13.1" height="2.9" fill="#000"/>
<text x="1289.6" y="2540.1" text-anchor="end" font-size="19.8" textLength="43.2" lengthAdjust="spacingAndGlyphs">8000</text>
<path d="M1329 2668.47V2728.73" stroke="#ff0000" stroke-width="2.2" fill="none"/>
<circle cx="1329" cy="2668.47" r="6" fill="#ff0000"/>
<circle cx="1329" cy="2728.73" r="6" fill="#ff0000"/>
<path d="M1363.6 2644.51V2697.1" stroke="#00c000" stroke-width="2.2" fill="none"/>
<polygon points="1363.6,2638.41 1365.72,2642.19 1369.97,2643.03 1367.02,2646.22 1367.54,2650.53 1363.6,2648.71 1359.66,2650.53 1360.18,2646.22 1357.23,2643.03 1361.48,2642.19" fill="#00c000"/>
<polygon points="1363.6,2691 1365.72,2694.79 1369.97,2695.63 1367.02,2698.82 1367.54,2703.13 1363.6,2701.3 1359.66,2703.13 1360.18,2698.82 1357.23,2695.63 1361.48,2694.79" fill="#00c000"/>
<path d="M1398.2 2734.39V2765.35" stroke="#ff0000" stroke-width="2.2" fill="none"/>
<circle cx="1398.2" cy="2734.39" r="4.45" fill="none" stroke="#ff0000" stroke-width="4.2"/>
<circle cx="1398.2" cy="2765.35" r="4.45" fill="none" stroke="#ff0000" stroke-width="4.2"/>
<path d="M1432.8 2598.9V2644.51" stroke="#00c000" stroke-width="2.2" fill="none"/>
<path d="M1430.3 2592.6L1435.3 2592.6L1439.1 2597.1L1439.8 2602.1L1439.1 2604.8L1426.5 2604.8L1425.8 2602.1L1426.5 2597.1ZM1431.95 2599.7h1.7v1.7h-1.7Z" fill="#00c000" fill-rule="evenodd"/>
<path d="M1430.3 2638.21L1435.3 2638.21L1439.1 2642.71L1439.8 2647.71L1439.1 2650.41L1426.5 2650.41L1425.8 2647.71L1426.5 2642.71ZM1431.95 2645.31h1.7v1.7h-1.7Z" fill="#00c000" fill-rule="evenodd"/>
<path d="M1490.6 2785.99V2811.62" stroke="#ff0000" stroke-width="2.2" fill="none"/>
<circle cx="1490.6" cy="2785.99" r="6" fill="#ff0000"/>
<circle cx="1490.6" cy="2811.62" r="6" fill="#ff0000"/>
<path d="M1525.2 2780.33V2807.63" stroke="#00c000" stroke-width="2.2" fill="none"/>
<polygon points="1525.2,2774.23 1527.32,2778.02 1531.57,2778.86 1528.62,2782.04 1529.14,2786.35 1525.2,2784.53 1521.26,2786.35 1521.78,2782.04 1518.83,2778.86 1523.08,2778.02" fill="#00c000"/>
<polygon points="1525.2,2801.53 1527.32,2805.32 1531.57,2806.16 1528.62,2809.34 1529.14,2813.65 1525.2,2811.83 1521.26,2813.65 1521.78,2809.34 1518.83,2806.16 1523.08,2805.32" fill="#00c000"/>
<path d="M1559.8 2785.33V2808.63" stroke="#ff0000" stroke-width="2.2" fill="none"/>
<circle cx="1559.8" cy="2785.33" r="4.45" fill="none" stroke="#ff0000" stroke-width="4.2"/>
<circle cx="1559.8" cy="2808.63" r="4.45" fill="none" stroke="#ff0000" stroke-width="4.2"/>
<path d="M1594.4 2744.38V2782.66" stroke="#00c000" stroke-width="2.2" fill="none"/>
<path d="M1591.9 2738.08L1596.9 2738.08L1600.7 2742.58L1601.4 2747.58L1600.7 2750.28L1588.1 2750.28L1587.4 2747.58L1588.1 2742.58ZM1593.55 2745.18h1.7v1.7h-1.7Z" fill="#00c000" fill-rule="evenodd"/>
<path d="M1591.9 2776.36L1596.9 2776.36L1600.7 2780.86L1601.4 2785.86L1600.7 2788.56L1588.1 2788.56L1587.4 2785.86L1588.1 2780.86ZM1593.55 2783.46h1.7v1.7h-1.7Z" fill="#00c000" fill-rule="evenodd"/>
<path d="M1652.2 2843.58V2846.91M1646.2 2843.58h12M1646.2 2846.91h12" stroke="#ff0000" stroke-width="2.2" fill="none"/>
<circle cx="1644.19" cy="2846.91" r="6" fill="#ff0000"/>
<circle cx="1657.17" cy="2843.58" r="6" fill="#ff0000"/>
<path d="M1686.8 2829.27V2845.91" stroke="#00c000" stroke-width="2.2" fill="none"/>
<polygon points="1686.8,2823.17 1688.92,2826.96 1693.17,2827.8 1690.22,2830.98 1690.74,2835.29 1686.8,2833.47 1682.86,2835.29 1683.38,2830.98 1680.43,2827.8 1684.68,2826.96" fill="#00c000"/>
<polygon points="1686.8,2839.81 1688.92,2843.6 1693.17,2844.44 1690.22,2847.63 1690.74,2851.93 1686.8,2850.11 1682.86,2851.93 1683.38,2847.63 1680.43,2844.44 1684.68,2843.6" fill="#00c000"/>
<path d="M1721.4 2844.25V2848.24M1715.4 2844.25h12M1715.4 2848.24h12" stroke="#ff0000" stroke-width="2.2" fill="none"/>
<circle cx="1712.44" cy="2848.24" r="4.45" fill="none" stroke="#ff0000" stroke-width="4.2"/>
<circle cx="1726.42" cy="2844.25" r="4.45" fill="none" stroke="#ff0000" stroke-width="4.2"/>
<path d="M1756 2741.71V2781" stroke="#00c000" stroke-width="2.2" fill="none"/>
<path d="M1753.5 2735.41L1758.5 2735.41L1762.3 2739.91L1763 2744.91L1762.3 2747.61L1749.7 2747.61L1749 2744.91L1749.7 2739.91ZM1755.15 2742.51h1.7v1.7h-1.7Z" fill="#00c000" fill-rule="evenodd"/>
<path d="M1753.5 2774.7L1758.5 2774.7L1762.3 2779.2L1763 2784.2L1762.3 2786.9L1749.7 2786.9L1749 2784.2L1749.7 2779.2ZM1755.15 2781.8h1.7v1.7h-1.7Z" fill="#00c000" fill-rule="evenodd"/>
<rect x="1379.05" y="2849.1" width="2.9" height="13.4" fill="#000"/>
<text x="1380.5" y="2881.7" text-anchor="middle" font-size="19.8" textLength="10.8" lengthAdjust="spacingAndGlyphs">3</text>
<rect x="1540.55" y="2849.1" width="2.9" height="13.4" fill="#000"/>
<text x="1542" y="2881.7" text-anchor="middle" font-size="19.8" textLength="10.8" lengthAdjust="spacingAndGlyphs">6</text>
<rect x="1702.05" y="2849.1" width="2.9" height="13.4" fill="#000"/>
<text x="1703.5" y="2881.7" text-anchor="middle" font-size="19.8" textLength="21.6" lengthAdjust="spacingAndGlyphs">13</text>
<text x="1542.3" y="2915.1" text-anchor="middle" font-size="21.7" textLength="272" lengthAdjust="spacing">Days after start of co-culture</text>
<text transform="translate(1231 2693.4) rotate(-90) scale(1 1.08)" text-anchor="middle" font-size="22.45" textLength="223.4" lengthAdjust="spacing">Concentration (pg/mL)</text></g>
<g><rect x="1717.4" y="19" width="35.6" height="16.9" fill="none" stroke="#ff0000" stroke-width="4"/>
<text x="1771" y="34.9" font-size="27.3" textLength="51.8" lengthAdjust="spacingAndGlyphs">JK11</text>
<rect x="1717.4" y="67.2" width="35.6" height="16.8" fill="none" stroke="#00c000" stroke-width="4"/>
<text x="1771" y="83" font-size="27.3" textLength="51.8" lengthAdjust="spacingAndGlyphs">JK59</text>
<rect x="1717.4" y="116" width="35.6" height="16" fill="url(#pr)" stroke="#ff0000" stroke-width="4"/>
<text x="1771" y="131" font-size="27.3" textLength="168.75" lengthAdjust="spacingAndGlyphs">JK11 + rhTGFβ</text>
<rect x="1717.4" y="164" width="35.6" height="16.7" fill="url(#pg)" stroke="#00c000" stroke-width="4"/>
<text x="1771" y="179.7" font-size="27.3" textLength="168.75" lengthAdjust="spacingAndGlyphs">JK59 + rhTGFβ</text></g>
</svg>
</body></html>
